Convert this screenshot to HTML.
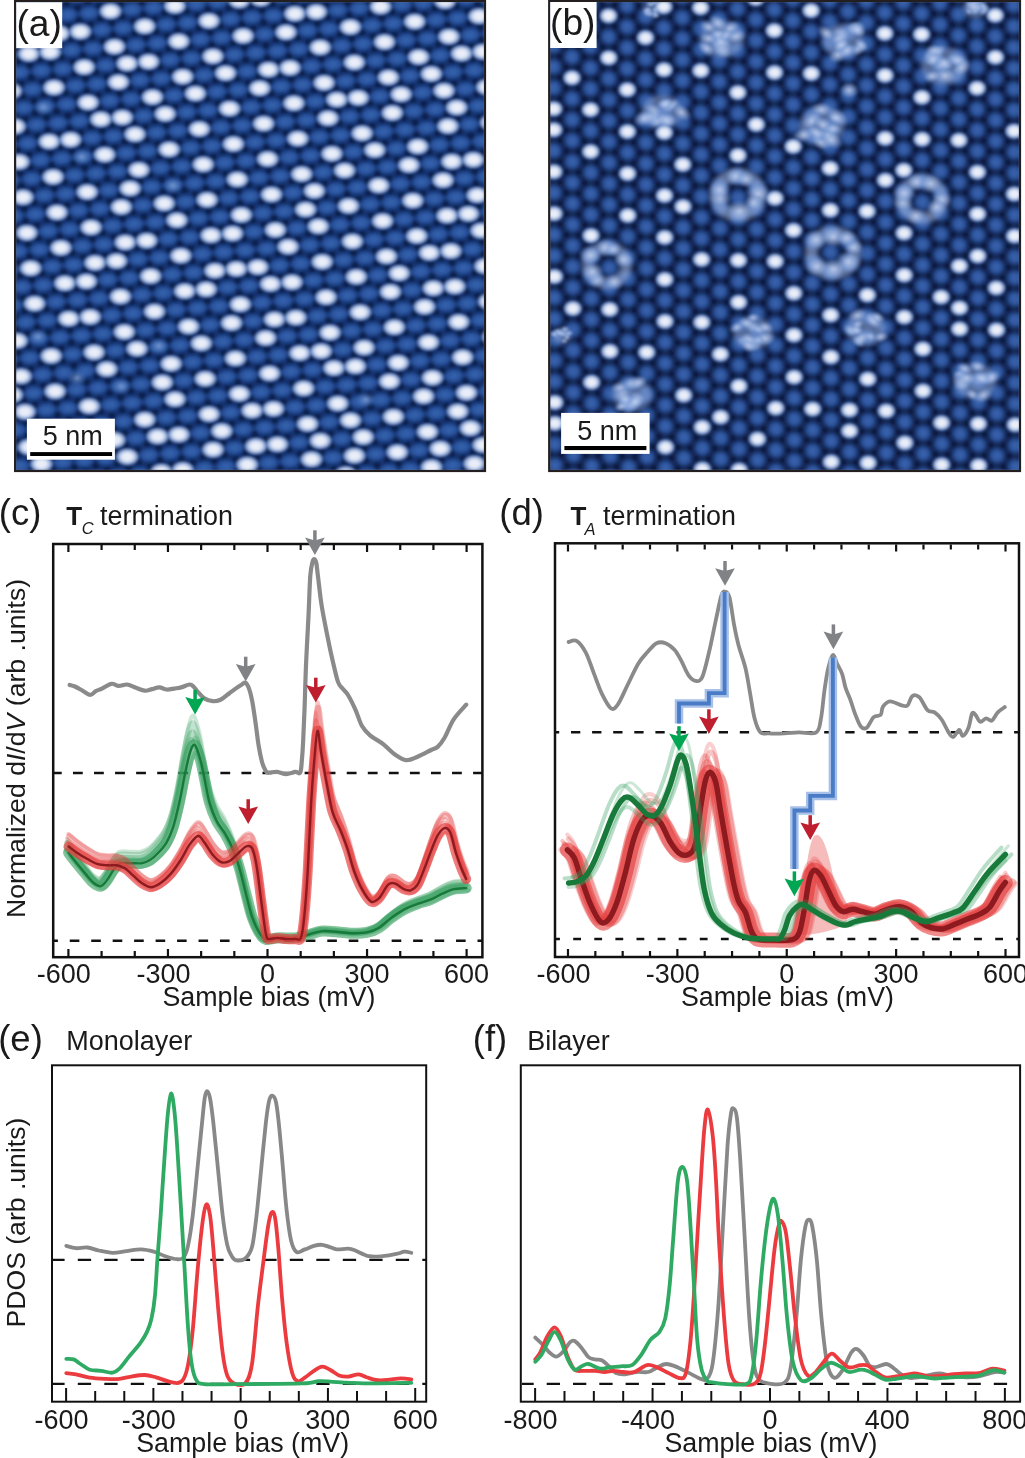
<!DOCTYPE html>
<html><head><meta charset="utf-8"><style>
html,body{margin:0;padding:0;background:#fff;}
svg{display:block;will-change:transform;}
text{font-family:"Liberation Sans",sans-serif;fill:#1a1a1a;}
</style></head><body>
<svg width="1025" height="1458" viewBox="0 0 1025 1458">
<rect width="1025" height="1458" fill="#fff"/>
<defs>
<radialGradient id="gdot" cx="50%" cy="50%" r="50%">
 <stop offset="0" stop-color="#eef2fb"/>
 <stop offset="0.42" stop-color="#e2e8f6"/>
 <stop offset="0.72" stop-color="#a4bbe4" stop-opacity="0.85"/>
 <stop offset="1" stop-color="#3a68b4" stop-opacity="0"/>
</radialGradient>
<radialGradient id="gfaint" cx="50%" cy="50%" r="50%">
 <stop offset="0" stop-color="#7f9fd6" stop-opacity="0.9"/>
 <stop offset="1" stop-color="#4a78c0" stop-opacity="0"/>
</radialGradient>
<radialGradient id="gfuzz" cx="50%" cy="50%" r="50%">
 <stop offset="0" stop-color="#c4d2ef" stop-opacity="0.9"/>
 <stop offset="0.55" stop-color="#93aee0" stop-opacity="0.55"/>
 <stop offset="1" stop-color="#4a78c0" stop-opacity="0"/>
</radialGradient>
<radialGradient id="ghole" cx="50%" cy="50%" r="50%">
 <stop offset="0" stop-color="#0a1430" stop-opacity="0.75"/>
 <stop offset="1" stop-color="#0a1430" stop-opacity="0"/>
</radialGradient>
<radialGradient id="gblobA" cx="50%" cy="50%" r="50%">
 <stop offset="0" stop-color="#3563ae"/>
 <stop offset="0.5" stop-color="#2d59a4" stop-opacity="0.9"/>
 <stop offset="1" stop-color="#1d4088" stop-opacity="0"/>
</radialGradient>
<radialGradient id="gblobB" cx="50%" cy="50%" r="50%">
 <stop offset="0" stop-color="#3b65b0"/>
 <stop offset="0.5" stop-color="#2f59a3" stop-opacity="0.9"/>
 <stop offset="1" stop-color="#1c3c80" stop-opacity="0"/>
</radialGradient>
<pattern id="latA" patternUnits="userSpaceOnUse" width="21.523" height="35.647" patternTransform="matrix(0.99654,-0.08312,0.10972,0.99396,24.74,18.38)"><rect width="21.523" height="35.647" fill="#13306c"/><ellipse cx="0.00" cy="0.00" rx="13.5" ry="9" fill="url(#gblobA)"/><ellipse cx="21.52" cy="0.00" rx="13.5" ry="9" fill="url(#gblobA)"/><ellipse cx="0.00" cy="35.65" rx="13.5" ry="9" fill="url(#gblobA)"/><ellipse cx="21.52" cy="35.65" rx="13.5" ry="9" fill="url(#gblobA)"/><ellipse cx="10.76" cy="17.82" rx="13.5" ry="9" fill="url(#gblobA)"/><ellipse cx="10.76" cy="5.94" rx="5" ry="5" fill="url(#ghole)"/><ellipse cx="0.00" cy="11.88" rx="5" ry="5" fill="url(#ghole)"/><ellipse cx="21.52" cy="11.88" rx="5" ry="5" fill="url(#ghole)"/><ellipse cx="0.00" cy="23.76" rx="5" ry="5" fill="url(#ghole)"/><ellipse cx="21.52" cy="23.76" rx="5" ry="5" fill="url(#ghole)"/><ellipse cx="10.76" cy="29.71" rx="5" ry="5" fill="url(#ghole)"/></pattern><pattern id="latB" patternUnits="userSpaceOnUse" width="36.841" height="20.971" patternTransform="matrix(0.99967,0.02578,0.00393,0.99999,19.31,0.61)"><rect width="36.841" height="20.971" fill="#152856"/><ellipse cx="0.00" cy="0.00" rx="10.3" ry="10.3" fill="url(#gblobB)"/><ellipse cx="36.84" cy="0.00" rx="10.3" ry="10.3" fill="url(#gblobB)"/><ellipse cx="0.00" cy="20.97" rx="10.3" ry="10.3" fill="url(#gblobB)"/><ellipse cx="36.84" cy="20.97" rx="10.3" ry="10.3" fill="url(#gblobB)"/><ellipse cx="18.42" cy="10.49" rx="10.3" ry="10.3" fill="url(#gblobB)"/><ellipse cx="6.14" cy="10.49" rx="4.5" ry="4.5" fill="url(#ghole)"/><ellipse cx="30.70" cy="10.49" rx="4.5" ry="4.5" fill="url(#ghole)"/><ellipse cx="12.28" cy="0.00" rx="4.5" ry="4.5" fill="url(#ghole)"/><ellipse cx="24.56" cy="0.00" rx="4.5" ry="4.5" fill="url(#ghole)"/><ellipse cx="12.28" cy="20.97" rx="4.5" ry="4.5" fill="url(#ghole)"/><ellipse cx="24.56" cy="20.97" rx="4.5" ry="4.5" fill="url(#ghole)"/></pattern>
<clipPath id="clipA"><rect x="16" y="2" width="468" height="468"/></clipPath>
<clipPath id="clipB"><rect x="550" y="2" width="469" height="468"/></clipPath>
<filter id="blur2" x="-30%" y="-30%" width="160%" height="160%"><feGaussianBlur stdDeviation="2"/></filter><filter id="soft" x="0" y="0" width="100%" height="100%"><feGaussianBlur stdDeviation="0.9"/></filter>
</defs>
<g clip-path="url(#clipA)"><g filter="url(#soft)">
<rect x="15.1" y="1" width="469.9" height="470" fill="url(#latA)"/>
<ellipse cx="43.3" cy="107.4" rx="10" ry="8" fill="url(#gfaint)"/>
<ellipse cx="81.6" cy="157.0" rx="10" ry="8" fill="url(#gfaint)"/>
<ellipse cx="173.0" cy="185.7" rx="10" ry="8" fill="url(#gfaint)"/>
<ellipse cx="37.9" cy="336.5" rx="10" ry="8" fill="url(#gfaint)"/>
<ellipse cx="158.8" cy="345.9" rx="10" ry="8" fill="url(#gfaint)"/>
<ellipse cx="77.0" cy="378.0" rx="10" ry="8" fill="url(#gfaint)"/>
<ellipse cx="121.4" cy="386.5" rx="10" ry="8" fill="url(#gfaint)"/>
<ellipse cx="366.0" cy="399.8" rx="10" ry="8" fill="url(#gfaint)"/>
<ellipse cx="110.5" cy="11.2" rx="12.8" ry="9.4" fill="url(#gdot)"/>
<ellipse cx="174.9" cy="5.9" rx="12.8" ry="9.4" fill="url(#gdot)"/>
<ellipse cx="80.3" cy="31.6" rx="12.8" ry="9.4" fill="url(#gdot)"/>
<ellipse cx="144.7" cy="26.3" rx="12.8" ry="9.4" fill="url(#gdot)"/>
<ellipse cx="178.8" cy="41.3" rx="12.8" ry="9.4" fill="url(#gdot)"/>
<ellipse cx="114.5" cy="46.7" rx="12.8" ry="9.4" fill="url(#gdot)"/>
<ellipse cx="28.7" cy="53.8" rx="12.8" ry="9.4" fill="url(#gdot)"/>
<ellipse cx="50.1" cy="52.0" rx="12.8" ry="9.4" fill="url(#gdot)"/>
<ellipse cx="84.2" cy="67.1" rx="12.8" ry="9.4" fill="url(#gdot)"/>
<ellipse cx="127.1" cy="63.5" rx="12.8" ry="9.4" fill="url(#gdot)"/>
<ellipse cx="148.6" cy="61.7" rx="12.8" ry="9.4" fill="url(#gdot)"/>
<ellipse cx="182.7" cy="76.7" rx="12.8" ry="9.4" fill="url(#gdot)"/>
<ellipse cx="118.4" cy="82.1" rx="12.8" ry="9.4" fill="url(#gdot)"/>
<ellipse cx="54.0" cy="87.5" rx="12.8" ry="9.4" fill="url(#gdot)"/>
<ellipse cx="11.1" cy="91.0" rx="12.8" ry="9.4" fill="url(#gdot)"/>
<ellipse cx="152.5" cy="97.1" rx="12.8" ry="9.4" fill="url(#gdot)"/>
<ellipse cx="88.1" cy="102.5" rx="12.8" ry="9.4" fill="url(#gdot)"/>
<ellipse cx="100.8" cy="119.3" rx="12.8" ry="9.4" fill="url(#gdot)"/>
<ellipse cx="122.3" cy="117.5" rx="12.8" ry="9.4" fill="url(#gdot)"/>
<ellipse cx="165.2" cy="113.9" rx="12.8" ry="9.4" fill="url(#gdot)"/>
<ellipse cx="15.0" cy="126.5" rx="12.8" ry="9.4" fill="url(#gdot)"/>
<ellipse cx="135.0" cy="134.3" rx="12.8" ry="9.4" fill="url(#gdot)"/>
<ellipse cx="49.2" cy="141.5" rx="12.8" ry="9.4" fill="url(#gdot)"/>
<ellipse cx="70.6" cy="139.7" rx="12.8" ry="9.4" fill="url(#gdot)"/>
<ellipse cx="169.1" cy="149.4" rx="12.8" ry="9.4" fill="url(#gdot)"/>
<ellipse cx="104.7" cy="154.7" rx="12.8" ry="9.4" fill="url(#gdot)"/>
<ellipse cx="18.9" cy="161.9" rx="12.8" ry="9.4" fill="url(#gdot)"/>
<ellipse cx="58.9" cy="33.4" rx="12.8" ry="9.4" fill="url(#gdot)"/>
<ellipse cx="239.2" cy="0.5" rx="12.8" ry="9.4" fill="url(#gdot)"/>
<ellipse cx="260.7" cy="-1.3" rx="12.8" ry="9.4" fill="url(#gdot)"/>
<ellipse cx="209.0" cy="20.9" rx="12.8" ry="9.4" fill="url(#gdot)"/>
<ellipse cx="294.8" cy="13.7" rx="12.8" ry="9.4" fill="url(#gdot)"/>
<ellipse cx="316.3" cy="11.9" rx="12.8" ry="9.4" fill="url(#gdot)"/>
<ellipse cx="243.1" cy="35.9" rx="12.8" ry="9.4" fill="url(#gdot)"/>
<ellipse cx="286.0" cy="32.3" rx="12.8" ry="9.4" fill="url(#gdot)"/>
<ellipse cx="320.2" cy="47.4" rx="12.8" ry="9.4" fill="url(#gdot)"/>
<ellipse cx="212.9" cy="56.3" rx="12.8" ry="9.4" fill="url(#gdot)"/>
<ellipse cx="268.5" cy="69.6" rx="12.8" ry="9.4" fill="url(#gdot)"/>
<ellipse cx="290.0" cy="67.8" rx="12.8" ry="9.4" fill="url(#gdot)"/>
<ellipse cx="225.6" cy="73.1" rx="12.8" ry="9.4" fill="url(#gdot)"/>
<ellipse cx="324.1" cy="82.8" rx="12.8" ry="9.4" fill="url(#gdot)"/>
<ellipse cx="259.7" cy="88.2" rx="12.8" ry="9.4" fill="url(#gdot)"/>
<ellipse cx="195.4" cy="93.5" rx="12.8" ry="9.4" fill="url(#gdot)"/>
<ellipse cx="293.9" cy="103.2" rx="12.8" ry="9.4" fill="url(#gdot)"/>
<ellipse cx="229.5" cy="108.6" rx="12.8" ry="9.4" fill="url(#gdot)"/>
<ellipse cx="328.0" cy="118.2" rx="12.8" ry="9.4" fill="url(#gdot)"/>
<ellipse cx="263.6" cy="123.6" rx="12.8" ry="9.4" fill="url(#gdot)"/>
<ellipse cx="199.3" cy="129.0" rx="12.8" ry="9.4" fill="url(#gdot)"/>
<ellipse cx="297.8" cy="138.6" rx="12.8" ry="9.4" fill="url(#gdot)"/>
<ellipse cx="233.4" cy="144.0" rx="12.8" ry="9.4" fill="url(#gdot)"/>
<ellipse cx="267.6" cy="159.0" rx="12.8" ry="9.4" fill="url(#gdot)"/>
<ellipse cx="331.9" cy="153.7" rx="12.8" ry="9.4" fill="url(#gdot)"/>
<ellipse cx="203.2" cy="164.4" rx="12.8" ry="9.4" fill="url(#gdot)"/>
<ellipse cx="380.6" cy="6.6" rx="12.8" ry="9.4" fill="url(#gdot)"/>
<ellipse cx="445.0" cy="1.2" rx="12.8" ry="9.4" fill="url(#gdot)"/>
<ellipse cx="479.1" cy="16.2" rx="12.8" ry="9.4" fill="url(#gdot)"/>
<ellipse cx="350.4" cy="27.0" rx="12.8" ry="9.4" fill="url(#gdot)"/>
<ellipse cx="414.7" cy="21.6" rx="12.8" ry="9.4" fill="url(#gdot)"/>
<ellipse cx="448.9" cy="36.6" rx="12.8" ry="9.4" fill="url(#gdot)"/>
<ellipse cx="384.5" cy="42.0" rx="12.8" ry="9.4" fill="url(#gdot)"/>
<ellipse cx="418.6" cy="57.0" rx="12.8" ry="9.4" fill="url(#gdot)"/>
<ellipse cx="461.5" cy="53.5" rx="12.8" ry="9.4" fill="url(#gdot)"/>
<ellipse cx="483.0" cy="51.7" rx="12.8" ry="9.4" fill="url(#gdot)"/>
<ellipse cx="354.3" cy="62.4" rx="12.8" ry="9.4" fill="url(#gdot)"/>
<ellipse cx="431.3" cy="73.9" rx="12.8" ry="9.4" fill="url(#gdot)"/>
<ellipse cx="388.4" cy="77.4" rx="12.8" ry="9.4" fill="url(#gdot)"/>
<ellipse cx="486.9" cy="87.1" rx="12.8" ry="9.4" fill="url(#gdot)"/>
<ellipse cx="401.1" cy="94.3" rx="12.8" ry="9.4" fill="url(#gdot)"/>
<ellipse cx="336.8" cy="99.6" rx="12.8" ry="9.4" fill="url(#gdot)"/>
<ellipse cx="358.2" cy="97.8" rx="12.8" ry="9.4" fill="url(#gdot)"/>
<ellipse cx="444.0" cy="90.7" rx="12.8" ry="9.4" fill="url(#gdot)"/>
<ellipse cx="456.7" cy="107.5" rx="12.8" ry="9.4" fill="url(#gdot)"/>
<ellipse cx="392.3" cy="112.9" rx="12.8" ry="9.4" fill="url(#gdot)"/>
<ellipse cx="490.8" cy="122.5" rx="12.8" ry="9.4" fill="url(#gdot)"/>
<ellipse cx="447.9" cy="126.1" rx="12.8" ry="9.4" fill="url(#gdot)"/>
<ellipse cx="362.1" cy="133.3" rx="12.8" ry="9.4" fill="url(#gdot)"/>
<ellipse cx="417.7" cy="146.5" rx="12.8" ry="9.4" fill="url(#gdot)"/>
<ellipse cx="374.8" cy="150.1" rx="12.8" ry="9.4" fill="url(#gdot)"/>
<ellipse cx="451.8" cy="161.5" rx="12.8" ry="9.4" fill="url(#gdot)"/>
<ellipse cx="473.3" cy="159.8" rx="12.8" ry="9.4" fill="url(#gdot)"/>
<ellipse cx="408.9" cy="165.1" rx="12.8" ry="9.4" fill="url(#gdot)"/>
<ellipse cx="138.9" cy="169.8" rx="12.8" ry="9.4" fill="url(#gdot)"/>
<ellipse cx="53.1" cy="176.9" rx="12.8" ry="9.4" fill="url(#gdot)"/>
<ellipse cx="87.2" cy="192.0" rx="12.8" ry="9.4" fill="url(#gdot)"/>
<ellipse cx="130.1" cy="188.4" rx="12.8" ry="9.4" fill="url(#gdot)"/>
<ellipse cx="22.9" cy="197.3" rx="12.8" ry="9.4" fill="url(#gdot)"/>
<ellipse cx="121.3" cy="207.0" rx="12.8" ry="9.4" fill="url(#gdot)"/>
<ellipse cx="164.2" cy="203.4" rx="12.8" ry="9.4" fill="url(#gdot)"/>
<ellipse cx="57.0" cy="212.4" rx="12.8" ry="9.4" fill="url(#gdot)"/>
<ellipse cx="176.9" cy="220.2" rx="12.8" ry="9.4" fill="url(#gdot)"/>
<ellipse cx="91.1" cy="227.4" rx="12.8" ry="9.4" fill="url(#gdot)"/>
<ellipse cx="26.8" cy="232.8" rx="12.8" ry="9.4" fill="url(#gdot)"/>
<ellipse cx="125.2" cy="242.4" rx="12.8" ry="9.4" fill="url(#gdot)"/>
<ellipse cx="146.7" cy="240.6" rx="12.8" ry="9.4" fill="url(#gdot)"/>
<ellipse cx="60.9" cy="247.8" rx="12.8" ry="9.4" fill="url(#gdot)"/>
<ellipse cx="180.8" cy="255.7" rx="12.8" ry="9.4" fill="url(#gdot)"/>
<ellipse cx="95.0" cy="262.8" rx="12.8" ry="9.4" fill="url(#gdot)"/>
<ellipse cx="116.5" cy="261.0" rx="12.8" ry="9.4" fill="url(#gdot)"/>
<ellipse cx="30.7" cy="268.2" rx="12.8" ry="9.4" fill="url(#gdot)"/>
<ellipse cx="150.6" cy="276.1" rx="12.8" ry="9.4" fill="url(#gdot)"/>
<ellipse cx="64.8" cy="283.2" rx="12.8" ry="9.4" fill="url(#gdot)"/>
<ellipse cx="86.3" cy="281.4" rx="12.8" ry="9.4" fill="url(#gdot)"/>
<ellipse cx="120.4" cy="296.5" rx="12.8" ry="9.4" fill="url(#gdot)"/>
<ellipse cx="34.6" cy="303.6" rx="12.8" ry="9.4" fill="url(#gdot)"/>
<ellipse cx="154.5" cy="311.5" rx="12.8" ry="9.4" fill="url(#gdot)"/>
<ellipse cx="68.7" cy="318.7" rx="12.8" ry="9.4" fill="url(#gdot)"/>
<ellipse cx="90.2" cy="316.9" rx="12.8" ry="9.4" fill="url(#gdot)"/>
<ellipse cx="237.3" cy="179.4" rx="12.8" ry="9.4" fill="url(#gdot)"/>
<ellipse cx="301.7" cy="174.1" rx="12.8" ry="9.4" fill="url(#gdot)"/>
<ellipse cx="314.4" cy="190.9" rx="12.8" ry="9.4" fill="url(#gdot)"/>
<ellipse cx="271.5" cy="194.5" rx="12.8" ry="9.4" fill="url(#gdot)"/>
<ellipse cx="207.1" cy="199.8" rx="12.8" ry="9.4" fill="url(#gdot)"/>
<ellipse cx="305.6" cy="209.5" rx="12.8" ry="9.4" fill="url(#gdot)"/>
<ellipse cx="241.3" cy="214.9" rx="12.8" ry="9.4" fill="url(#gdot)"/>
<ellipse cx="318.3" cy="226.3" rx="12.8" ry="9.4" fill="url(#gdot)"/>
<ellipse cx="275.4" cy="229.9" rx="12.8" ry="9.4" fill="url(#gdot)"/>
<ellipse cx="211.0" cy="235.3" rx="12.8" ry="9.4" fill="url(#gdot)"/>
<ellipse cx="232.5" cy="233.5" rx="12.8" ry="9.4" fill="url(#gdot)"/>
<ellipse cx="288.1" cy="246.7" rx="12.8" ry="9.4" fill="url(#gdot)"/>
<ellipse cx="322.2" cy="261.8" rx="12.8" ry="9.4" fill="url(#gdot)"/>
<ellipse cx="214.9" cy="270.7" rx="12.8" ry="9.4" fill="url(#gdot)"/>
<ellipse cx="236.4" cy="268.9" rx="12.8" ry="9.4" fill="url(#gdot)"/>
<ellipse cx="257.8" cy="267.1" rx="12.8" ry="9.4" fill="url(#gdot)"/>
<ellipse cx="270.5" cy="283.9" rx="12.8" ry="9.4" fill="url(#gdot)"/>
<ellipse cx="292.0" cy="282.2" rx="12.8" ry="9.4" fill="url(#gdot)"/>
<ellipse cx="184.7" cy="291.1" rx="12.8" ry="9.4" fill="url(#gdot)"/>
<ellipse cx="206.2" cy="289.3" rx="12.8" ry="9.4" fill="url(#gdot)"/>
<ellipse cx="326.1" cy="297.2" rx="12.8" ry="9.4" fill="url(#gdot)"/>
<ellipse cx="240.3" cy="304.3" rx="12.8" ry="9.4" fill="url(#gdot)"/>
<ellipse cx="274.4" cy="319.4" rx="12.8" ry="9.4" fill="url(#gdot)"/>
<ellipse cx="295.9" cy="317.6" rx="12.8" ry="9.4" fill="url(#gdot)"/>
<ellipse cx="344.6" cy="170.5" rx="12.8" ry="9.4" fill="url(#gdot)"/>
<ellipse cx="443.1" cy="180.2" rx="12.8" ry="9.4" fill="url(#gdot)"/>
<ellipse cx="378.7" cy="185.5" rx="12.8" ry="9.4" fill="url(#gdot)"/>
<ellipse cx="477.2" cy="195.2" rx="12.8" ry="9.4" fill="url(#gdot)"/>
<ellipse cx="412.8" cy="200.6" rx="12.8" ry="9.4" fill="url(#gdot)"/>
<ellipse cx="348.5" cy="205.9" rx="12.8" ry="9.4" fill="url(#gdot)"/>
<ellipse cx="447.0" cy="215.6" rx="12.8" ry="9.4" fill="url(#gdot)"/>
<ellipse cx="468.4" cy="213.8" rx="12.8" ry="9.4" fill="url(#gdot)"/>
<ellipse cx="382.6" cy="221.0" rx="12.8" ry="9.4" fill="url(#gdot)"/>
<ellipse cx="481.1" cy="230.6" rx="12.8" ry="9.4" fill="url(#gdot)"/>
<ellipse cx="416.8" cy="236.0" rx="12.8" ry="9.4" fill="url(#gdot)"/>
<ellipse cx="352.4" cy="241.4" rx="12.8" ry="9.4" fill="url(#gdot)"/>
<ellipse cx="429.4" cy="252.8" rx="12.8" ry="9.4" fill="url(#gdot)"/>
<ellipse cx="450.9" cy="251.0" rx="12.8" ry="9.4" fill="url(#gdot)"/>
<ellipse cx="386.5" cy="256.4" rx="12.8" ry="9.4" fill="url(#gdot)"/>
<ellipse cx="485.0" cy="266.1" rx="12.8" ry="9.4" fill="url(#gdot)"/>
<ellipse cx="399.2" cy="273.2" rx="12.8" ry="9.4" fill="url(#gdot)"/>
<ellipse cx="356.3" cy="276.8" rx="12.8" ry="9.4" fill="url(#gdot)"/>
<ellipse cx="433.3" cy="288.2" rx="12.8" ry="9.4" fill="url(#gdot)"/>
<ellipse cx="454.8" cy="286.5" rx="12.8" ry="9.4" fill="url(#gdot)"/>
<ellipse cx="390.4" cy="291.8" rx="12.8" ry="9.4" fill="url(#gdot)"/>
<ellipse cx="488.9" cy="301.5" rx="12.8" ry="9.4" fill="url(#gdot)"/>
<ellipse cx="424.6" cy="306.8" rx="12.8" ry="9.4" fill="url(#gdot)"/>
<ellipse cx="360.2" cy="312.2" rx="12.8" ry="9.4" fill="url(#gdot)"/>
<ellipse cx="458.7" cy="321.9" rx="12.8" ry="9.4" fill="url(#gdot)"/>
<ellipse cx="124.3" cy="331.9" rx="12.8" ry="9.4" fill="url(#gdot)"/>
<ellipse cx="17.0" cy="340.8" rx="12.8" ry="9.4" fill="url(#gdot)"/>
<ellipse cx="51.2" cy="355.9" rx="12.8" ry="9.4" fill="url(#gdot)"/>
<ellipse cx="94.1" cy="352.3" rx="12.8" ry="9.4" fill="url(#gdot)"/>
<ellipse cx="137.0" cy="348.7" rx="12.8" ry="9.4" fill="url(#gdot)"/>
<ellipse cx="171.1" cy="363.7" rx="12.8" ry="9.4" fill="url(#gdot)"/>
<ellipse cx="106.8" cy="369.1" rx="12.8" ry="9.4" fill="url(#gdot)"/>
<ellipse cx="21.0" cy="376.3" rx="12.8" ry="9.4" fill="url(#gdot)"/>
<ellipse cx="55.1" cy="391.3" rx="12.8" ry="9.4" fill="url(#gdot)"/>
<ellipse cx="162.3" cy="382.4" rx="12.8" ry="9.4" fill="url(#gdot)"/>
<ellipse cx="12.2" cy="394.9" rx="12.8" ry="9.4" fill="url(#gdot)"/>
<ellipse cx="175.0" cy="399.2" rx="12.8" ry="9.4" fill="url(#gdot)"/>
<ellipse cx="89.2" cy="406.3" rx="12.8" ry="9.4" fill="url(#gdot)"/>
<ellipse cx="24.9" cy="411.7" rx="12.8" ry="9.4" fill="url(#gdot)"/>
<ellipse cx="144.8" cy="419.6" rx="12.8" ry="9.4" fill="url(#gdot)"/>
<ellipse cx="114.6" cy="440.0" rx="12.8" ry="9.4" fill="url(#gdot)"/>
<ellipse cx="157.5" cy="436.4" rx="12.8" ry="9.4" fill="url(#gdot)"/>
<ellipse cx="28.8" cy="447.1" rx="12.8" ry="9.4" fill="url(#gdot)"/>
<ellipse cx="127.3" cy="456.8" rx="12.8" ry="9.4" fill="url(#gdot)"/>
<ellipse cx="41.5" cy="464.0" rx="12.8" ry="9.4" fill="url(#gdot)"/>
<ellipse cx="161.4" cy="471.8" rx="12.8" ry="9.4" fill="url(#gdot)"/>
<ellipse cx="178.9" cy="434.6" rx="12.8" ry="9.4" fill="url(#gdot)"/>
<ellipse cx="188.6" cy="326.5" rx="12.8" ry="9.4" fill="url(#gdot)"/>
<ellipse cx="231.5" cy="323.0" rx="12.8" ry="9.4" fill="url(#gdot)"/>
<ellipse cx="201.3" cy="343.3" rx="12.8" ry="9.4" fill="url(#gdot)"/>
<ellipse cx="265.7" cy="338.0" rx="12.8" ry="9.4" fill="url(#gdot)"/>
<ellipse cx="330.0" cy="332.6" rx="12.8" ry="9.4" fill="url(#gdot)"/>
<ellipse cx="235.4" cy="358.4" rx="12.8" ry="9.4" fill="url(#gdot)"/>
<ellipse cx="299.8" cy="353.0" rx="12.8" ry="9.4" fill="url(#gdot)"/>
<ellipse cx="321.2" cy="351.2" rx="12.8" ry="9.4" fill="url(#gdot)"/>
<ellipse cx="269.6" cy="373.4" rx="12.8" ry="9.4" fill="url(#gdot)"/>
<ellipse cx="333.9" cy="368.0" rx="12.8" ry="9.4" fill="url(#gdot)"/>
<ellipse cx="205.2" cy="378.8" rx="12.8" ry="9.4" fill="url(#gdot)"/>
<ellipse cx="239.4" cy="393.8" rx="12.8" ry="9.4" fill="url(#gdot)"/>
<ellipse cx="303.7" cy="388.4" rx="12.8" ry="9.4" fill="url(#gdot)"/>
<ellipse cx="252.0" cy="410.6" rx="12.8" ry="9.4" fill="url(#gdot)"/>
<ellipse cx="273.5" cy="408.8" rx="12.8" ry="9.4" fill="url(#gdot)"/>
<ellipse cx="337.8" cy="403.5" rx="12.8" ry="9.4" fill="url(#gdot)"/>
<ellipse cx="209.1" cy="414.2" rx="12.8" ry="9.4" fill="url(#gdot)"/>
<ellipse cx="307.6" cy="423.9" rx="12.8" ry="9.4" fill="url(#gdot)"/>
<ellipse cx="221.8" cy="431.0" rx="12.8" ry="9.4" fill="url(#gdot)"/>
<ellipse cx="320.3" cy="440.7" rx="12.8" ry="9.4" fill="url(#gdot)"/>
<ellipse cx="255.9" cy="446.1" rx="12.8" ry="9.4" fill="url(#gdot)"/>
<ellipse cx="277.4" cy="444.3" rx="12.8" ry="9.4" fill="url(#gdot)"/>
<ellipse cx="213.1" cy="449.6" rx="12.8" ry="9.4" fill="url(#gdot)"/>
<ellipse cx="311.5" cy="459.3" rx="12.8" ry="9.4" fill="url(#gdot)"/>
<ellipse cx="247.2" cy="464.7" rx="12.8" ry="9.4" fill="url(#gdot)"/>
<ellipse cx="182.8" cy="470.0" rx="12.8" ry="9.4" fill="url(#gdot)"/>
<ellipse cx="394.4" cy="327.2" rx="12.8" ry="9.4" fill="url(#gdot)"/>
<ellipse cx="428.5" cy="342.3" rx="12.8" ry="9.4" fill="url(#gdot)"/>
<ellipse cx="492.8" cy="336.9" rx="12.8" ry="9.4" fill="url(#gdot)"/>
<ellipse cx="364.1" cy="347.6" rx="12.8" ry="9.4" fill="url(#gdot)"/>
<ellipse cx="462.6" cy="357.3" rx="12.8" ry="9.4" fill="url(#gdot)"/>
<ellipse cx="398.3" cy="362.7" rx="12.8" ry="9.4" fill="url(#gdot)"/>
<ellipse cx="355.4" cy="366.3" rx="12.8" ry="9.4" fill="url(#gdot)"/>
<ellipse cx="432.4" cy="377.7" rx="12.8" ry="9.4" fill="url(#gdot)"/>
<ellipse cx="389.5" cy="381.3" rx="12.8" ry="9.4" fill="url(#gdot)"/>
<ellipse cx="466.5" cy="392.7" rx="12.8" ry="9.4" fill="url(#gdot)"/>
<ellipse cx="423.6" cy="396.3" rx="12.8" ry="9.4" fill="url(#gdot)"/>
<ellipse cx="457.8" cy="411.4" rx="12.8" ry="9.4" fill="url(#gdot)"/>
<ellipse cx="393.4" cy="416.7" rx="12.8" ry="9.4" fill="url(#gdot)"/>
<ellipse cx="350.5" cy="420.3" rx="12.8" ry="9.4" fill="url(#gdot)"/>
<ellipse cx="470.4" cy="428.2" rx="12.8" ry="9.4" fill="url(#gdot)"/>
<ellipse cx="427.5" cy="431.8" rx="12.8" ry="9.4" fill="url(#gdot)"/>
<ellipse cx="363.2" cy="437.1" rx="12.8" ry="9.4" fill="url(#gdot)"/>
<ellipse cx="440.2" cy="448.6" rx="12.8" ry="9.4" fill="url(#gdot)"/>
<ellipse cx="483.1" cy="445.0" rx="12.8" ry="9.4" fill="url(#gdot)"/>
<ellipse cx="397.3" cy="452.2" rx="12.8" ry="9.4" fill="url(#gdot)"/>
<ellipse cx="354.4" cy="455.7" rx="12.8" ry="9.4" fill="url(#gdot)"/>
<ellipse cx="431.5" cy="467.2" rx="12.8" ry="9.4" fill="url(#gdot)"/>
<ellipse cx="474.3" cy="463.6" rx="12.8" ry="9.4" fill="url(#gdot)"/>
<ellipse cx="345.7" cy="474.3" rx="12.8" ry="9.4" fill="url(#gdot)"/>
</g></g>
<rect x="15.1" y="1" width="469.9" height="470" fill="none" stroke="#231f20" stroke-width="2.2"/>
<rect x="16.2" y="2.2" width="46" height="46" fill="#fff"/>
<text x="16.4" y="35.5" font-size="37.2" text-anchor="start" >(a)</text>
<rect x="26.9" y="418.7" width="88" height="41" fill="#fff"/>
<rect x="30.2" y="452.1" width="81.9" height="3.9" fill="#000"/>
<text x="42.7" y="444.5" font-size="27" text-anchor="start" >5 nm</text>
<g clip-path="url(#clipB)"><g filter="url(#soft)">
<rect x="549.2" y="1" width="470.79999999999995" height="470" fill="url(#latB)"/>
<ellipse cx="722.0" cy="39.0" rx="21.8" ry="18.0" fill="#9ab2e0" fill-opacity="0.5" filter="url(#blur2)"/>
<ellipse cx="723.2" cy="51.8" rx="9.8" ry="6.5" fill="url(#gfuzz)" transform="rotate(8 723.2 51.8)"/>
<ellipse cx="718.1" cy="35.8" rx="7.9" ry="5.3" fill="url(#gfuzz)" transform="rotate(27 718.1 35.8)"/>
<ellipse cx="721.4" cy="47.4" rx="13.0" ry="8.7" fill="url(#gfuzz)" transform="rotate(-2 721.4 47.4)"/>
<ellipse cx="729.8" cy="28.7" rx="11.2" ry="7.4" fill="url(#gfuzz)" transform="rotate(-28 729.8 28.7)"/>
<ellipse cx="708.6" cy="26.8" rx="10.6" ry="7.0" fill="url(#gfuzz)" transform="rotate(19 708.6 26.8)"/>
<ellipse cx="719.4" cy="35.1" rx="11.8" ry="7.9" fill="url(#gfuzz)" transform="rotate(7 719.4 35.1)"/>
<ellipse cx="720.8" cy="41.9" rx="12.3" ry="8.2" fill="url(#gfuzz)" transform="rotate(-2 720.8 41.9)"/>
<ellipse cx="718.0" cy="23.0" rx="11.6" ry="7.7" fill="url(#gfuzz)" transform="rotate(34 718.0 23.0)"/>
<ellipse cx="706.6" cy="48.5" rx="10.2" ry="6.8" fill="url(#gfuzz)" transform="rotate(35 706.6 48.5)"/>
<ellipse cx="726.9" cy="35.3" rx="8.5" ry="5.7" fill="url(#gfuzz)" transform="rotate(-23 726.9 35.3)"/>
<ellipse cx="736.0" cy="36.5" rx="11.1" ry="7.4" fill="url(#gfuzz)" transform="rotate(-16 736.0 36.5)"/>
<ellipse cx="708.5" cy="38.5" rx="9.7" ry="6.4" fill="url(#gfuzz)" transform="rotate(7 708.5 38.5)"/>
<ellipse cx="843.0" cy="41.0" rx="20.2" ry="16.7" fill="#9ab2e0" fill-opacity="0.5" filter="url(#blur2)"/>
<ellipse cx="826.4" cy="33.2" rx="10.6" ry="7.1" fill="url(#gfuzz)" transform="rotate(34 826.4 33.2)"/>
<ellipse cx="855.5" cy="28.3" rx="10.6" ry="7.0" fill="url(#gfuzz)" transform="rotate(-27 855.5 28.3)"/>
<ellipse cx="855.7" cy="28.8" rx="11.7" ry="7.8" fill="url(#gfuzz)" transform="rotate(6 855.7 28.8)"/>
<ellipse cx="840.9" cy="33.7" rx="11.3" ry="7.6" fill="url(#gfuzz)" transform="rotate(6 840.9 33.7)"/>
<ellipse cx="841.9" cy="45.0" rx="11.4" ry="7.6" fill="url(#gfuzz)" transform="rotate(39 841.9 45.0)"/>
<ellipse cx="858.4" cy="48.7" rx="9.3" ry="6.2" fill="url(#gfuzz)" transform="rotate(-28 858.4 48.7)"/>
<ellipse cx="838.2" cy="54.7" rx="11.5" ry="7.7" fill="url(#gfuzz)" transform="rotate(-36 838.2 54.7)"/>
<ellipse cx="839.8" cy="38.7" rx="10.8" ry="7.2" fill="url(#gfuzz)" transform="rotate(-14 839.8 38.7)"/>
<ellipse cx="857.7" cy="30.1" rx="9.7" ry="6.5" fill="url(#gfuzz)" transform="rotate(40 857.7 30.1)"/>
<ellipse cx="840.9" cy="45.2" rx="10.2" ry="6.8" fill="url(#gfuzz)" transform="rotate(-37 840.9 45.2)"/>
<ellipse cx="847.2" cy="50.8" rx="10.3" ry="6.8" fill="url(#gfuzz)" transform="rotate(-28 847.2 50.8)"/>
<ellipse cx="861.2" cy="45.0" rx="8.8" ry="5.9" fill="url(#gfuzz)" transform="rotate(37 861.2 45.0)"/>
<ellipse cx="944.0" cy="66.0" rx="22.5" ry="18.6" fill="#9ab2e0" fill-opacity="0.5" filter="url(#blur2)"/>
<ellipse cx="955.0" cy="59.3" rx="10.6" ry="7.1" fill="url(#gfuzz)" transform="rotate(2 955.0 59.3)"/>
<ellipse cx="933.3" cy="55.1" rx="11.1" ry="7.4" fill="url(#gfuzz)" transform="rotate(10 933.3 55.1)"/>
<ellipse cx="958.9" cy="61.3" rx="10.4" ry="7.0" fill="url(#gfuzz)" transform="rotate(18 958.9 61.3)"/>
<ellipse cx="945.0" cy="75.8" rx="13.4" ry="8.9" fill="url(#gfuzz)" transform="rotate(2 945.0 75.8)"/>
<ellipse cx="941.7" cy="65.4" rx="10.3" ry="6.9" fill="url(#gfuzz)" transform="rotate(6 941.7 65.4)"/>
<ellipse cx="961.5" cy="67.8" rx="11.5" ry="7.7" fill="url(#gfuzz)" transform="rotate(-35 961.5 67.8)"/>
<ellipse cx="933.3" cy="57.2" rx="11.8" ry="7.8" fill="url(#gfuzz)" transform="rotate(-12 933.3 57.2)"/>
<ellipse cx="938.8" cy="51.1" rx="8.2" ry="5.5" fill="url(#gfuzz)" transform="rotate(-35 938.8 51.1)"/>
<ellipse cx="934.1" cy="50.2" rx="9.5" ry="6.3" fill="url(#gfuzz)" transform="rotate(-3 934.1 50.2)"/>
<ellipse cx="933.4" cy="60.4" rx="10.1" ry="6.7" fill="url(#gfuzz)" transform="rotate(-15 933.4 60.4)"/>
<ellipse cx="932.2" cy="76.2" rx="9.7" ry="6.5" fill="url(#gfuzz)" transform="rotate(-10 932.2 76.2)"/>
<ellipse cx="944.5" cy="63.1" rx="11.2" ry="7.4" fill="url(#gfuzz)" transform="rotate(19 944.5 63.1)"/>
<ellipse cx="662.0" cy="112.0" rx="20.2" ry="16.7" fill="#9ab2e0" fill-opacity="0.5" filter="url(#blur2)"/>
<ellipse cx="658.5" cy="119.1" rx="11.2" ry="7.5" fill="url(#gfuzz)" transform="rotate(-21 658.5 119.1)"/>
<ellipse cx="667.1" cy="121.9" rx="10.7" ry="7.1" fill="url(#gfuzz)" transform="rotate(-32 667.1 121.9)"/>
<ellipse cx="656.9" cy="120.4" rx="11.3" ry="7.6" fill="url(#gfuzz)" transform="rotate(-5 656.9 120.4)"/>
<ellipse cx="667.1" cy="106.7" rx="8.9" ry="6.0" fill="url(#gfuzz)" transform="rotate(12 667.1 106.7)"/>
<ellipse cx="672.2" cy="104.8" rx="8.4" ry="5.6" fill="url(#gfuzz)" transform="rotate(-30 672.2 104.8)"/>
<ellipse cx="653.3" cy="110.7" rx="11.2" ry="7.5" fill="url(#gfuzz)" transform="rotate(27 653.3 110.7)"/>
<ellipse cx="666.3" cy="119.8" rx="11.2" ry="7.5" fill="url(#gfuzz)" transform="rotate(11 666.3 119.8)"/>
<ellipse cx="666.1" cy="103.1" rx="7.9" ry="5.3" fill="url(#gfuzz)" transform="rotate(-17 666.1 103.1)"/>
<ellipse cx="664.9" cy="103.9" rx="9.0" ry="6.0" fill="url(#gfuzz)" transform="rotate(-7 664.9 103.9)"/>
<ellipse cx="650.7" cy="117.0" rx="11.8" ry="7.8" fill="url(#gfuzz)" transform="rotate(-28 650.7 117.0)"/>
<ellipse cx="681.7" cy="112.5" rx="11.6" ry="7.7" fill="url(#gfuzz)" transform="rotate(39 681.7 112.5)"/>
<ellipse cx="643.9" cy="118.3" rx="11.8" ry="7.9" fill="url(#gfuzz)" transform="rotate(-22 643.9 118.3)"/>
<ellipse cx="822.0" cy="126.0" rx="22.5" ry="18.6" fill="#9ab2e0" fill-opacity="0.5" filter="url(#blur2)"/>
<ellipse cx="821.4" cy="109.5" rx="11.7" ry="7.8" fill="url(#gfuzz)" transform="rotate(2 821.4 109.5)"/>
<ellipse cx="818.8" cy="136.2" rx="9.3" ry="6.2" fill="url(#gfuzz)" transform="rotate(-35 818.8 136.2)"/>
<ellipse cx="811.8" cy="120.9" rx="12.5" ry="8.3" fill="url(#gfuzz)" transform="rotate(-36 811.8 120.9)"/>
<ellipse cx="837.4" cy="117.5" rx="13.1" ry="8.7" fill="url(#gfuzz)" transform="rotate(32 837.4 117.5)"/>
<ellipse cx="835.8" cy="117.9" rx="8.2" ry="5.4" fill="url(#gfuzz)" transform="rotate(20 835.8 117.9)"/>
<ellipse cx="827.8" cy="134.7" rx="11.7" ry="7.8" fill="url(#gfuzz)" transform="rotate(2 827.8 134.7)"/>
<ellipse cx="803.3" cy="135.0" rx="11.4" ry="7.6" fill="url(#gfuzz)" transform="rotate(-13 803.3 135.0)"/>
<ellipse cx="821.7" cy="142.7" rx="10.7" ry="7.1" fill="url(#gfuzz)" transform="rotate(23 821.7 142.7)"/>
<ellipse cx="816.0" cy="132.4" rx="11.0" ry="7.3" fill="url(#gfuzz)" transform="rotate(25 816.0 132.4)"/>
<ellipse cx="831.5" cy="140.1" rx="13.1" ry="8.7" fill="url(#gfuzz)" transform="rotate(24 831.5 140.1)"/>
<ellipse cx="822.9" cy="124.6" rx="11.5" ry="7.7" fill="url(#gfuzz)" transform="rotate(29 822.9 124.6)"/>
<ellipse cx="833.1" cy="128.9" rx="9.6" ry="6.4" fill="url(#gfuzz)" transform="rotate(2 833.1 128.9)"/>
<ellipse cx="738.0" cy="195.0" rx="21.6" ry="20.2" fill="none" stroke="#b3c5ea" stroke-opacity="0.5" stroke-width="12.2" filter="url(#blur2)"/>
<ellipse cx="758.1" cy="193.9" rx="13.5" ry="11.2" fill="url(#gfuzz)"/>
<ellipse cx="753.7" cy="202.7" rx="10.3" ry="8.6" fill="url(#gfuzz)"/>
<ellipse cx="739.4" cy="211.1" rx="14.5" ry="12.0" fill="url(#gfuzz)"/>
<ellipse cx="720.2" cy="197.7" rx="12.2" ry="10.1" fill="url(#gfuzz)"/>
<ellipse cx="719.6" cy="189.9" rx="11.4" ry="9.5" fill="url(#gfuzz)"/>
<ellipse cx="735.8" cy="176.5" rx="11.5" ry="9.6" fill="url(#gfuzz)"/>
<ellipse cx="746.0" cy="179.2" rx="10.3" ry="8.6" fill="url(#gfuzz)"/>
<ellipse cx="922.0" cy="199.0" rx="20.0" ry="18.8" fill="none" stroke="#b3c5ea" stroke-opacity="0.5" stroke-width="11.2" filter="url(#blur2)"/>
<ellipse cx="941.8" cy="199.8" rx="10.7" ry="8.9" fill="url(#gfuzz)"/>
<ellipse cx="936.5" cy="207.2" rx="10.7" ry="8.9" fill="url(#gfuzz)"/>
<ellipse cx="915.9" cy="216.3" rx="10.7" ry="8.9" fill="url(#gfuzz)"/>
<ellipse cx="903.1" cy="202.6" rx="10.9" ry="9.1" fill="url(#gfuzz)"/>
<ellipse cx="904.4" cy="193.3" rx="12.2" ry="10.1" fill="url(#gfuzz)"/>
<ellipse cx="916.4" cy="182.0" rx="11.1" ry="9.2" fill="url(#gfuzz)"/>
<ellipse cx="930.6" cy="183.8" rx="12.1" ry="10.1" fill="url(#gfuzz)"/>
<ellipse cx="607.0" cy="265.0" rx="19.2" ry="18.0" fill="none" stroke="#b3c5ea" stroke-opacity="0.5" stroke-width="10.8" filter="url(#blur2)"/>
<ellipse cx="623.6" cy="259.7" rx="10.5" ry="8.7" fill="url(#gfuzz)"/>
<ellipse cx="614.3" cy="281.9" rx="10.3" ry="8.5" fill="url(#gfuzz)"/>
<ellipse cx="597.0" cy="279.9" rx="9.8" ry="8.1" fill="url(#gfuzz)"/>
<ellipse cx="592.6" cy="271.7" rx="12.2" ry="10.1" fill="url(#gfuzz)"/>
<ellipse cx="590.4" cy="255.2" rx="12.1" ry="10.1" fill="url(#gfuzz)"/>
<ellipse cx="605.3" cy="247.9" rx="11.1" ry="9.2" fill="url(#gfuzz)"/>
<ellipse cx="613.4" cy="249.5" rx="8.7" ry="7.2" fill="url(#gfuzz)"/>
<ellipse cx="833.0" cy="253.0" rx="21.6" ry="20.2" fill="none" stroke="#b3c5ea" stroke-opacity="0.5" stroke-width="12.2" filter="url(#blur2)"/>
<ellipse cx="853.9" cy="247.5" rx="9.9" ry="8.3" fill="url(#gfuzz)"/>
<ellipse cx="848.2" cy="261.8" rx="14.0" ry="11.7" fill="url(#gfuzz)"/>
<ellipse cx="833.6" cy="268.9" rx="13.8" ry="11.5" fill="url(#gfuzz)"/>
<ellipse cx="816.9" cy="266.6" rx="13.0" ry="10.8" fill="url(#gfuzz)"/>
<ellipse cx="815.9" cy="239.6" rx="12.5" ry="10.4" fill="url(#gfuzz)"/>
<ellipse cx="833.3" cy="237.0" rx="13.4" ry="11.2" fill="url(#gfuzz)"/>
<ellipse cx="846.5" cy="238.0" rx="10.2" ry="8.5" fill="url(#gfuzz)"/>
<ellipse cx="753.0" cy="333.0" rx="19.5" ry="16.1" fill="#9ab2e0" fill-opacity="0.5" filter="url(#blur2)"/>
<ellipse cx="752.9" cy="317.9" rx="7.3" ry="4.9" fill="url(#gfuzz)" transform="rotate(-14 752.9 317.9)"/>
<ellipse cx="736.7" cy="327.4" rx="8.2" ry="5.4" fill="url(#gfuzz)" transform="rotate(-26 736.7 327.4)"/>
<ellipse cx="753.0" cy="345.2" rx="10.5" ry="7.0" fill="url(#gfuzz)" transform="rotate(-9 753.0 345.2)"/>
<ellipse cx="744.7" cy="340.3" rx="8.7" ry="5.8" fill="url(#gfuzz)" transform="rotate(-7 744.7 340.3)"/>
<ellipse cx="764.9" cy="338.5" rx="11.6" ry="7.7" fill="url(#gfuzz)" transform="rotate(-7 764.9 338.5)"/>
<ellipse cx="752.9" cy="326.7" rx="10.3" ry="6.8" fill="url(#gfuzz)" transform="rotate(20 752.9 326.7)"/>
<ellipse cx="746.5" cy="323.0" rx="9.3" ry="6.2" fill="url(#gfuzz)" transform="rotate(11 746.5 323.0)"/>
<ellipse cx="759.0" cy="329.4" rx="7.5" ry="5.0" fill="url(#gfuzz)" transform="rotate(20 759.0 329.4)"/>
<ellipse cx="765.1" cy="327.4" rx="9.1" ry="6.1" fill="url(#gfuzz)" transform="rotate(18 765.1 327.4)"/>
<ellipse cx="756.9" cy="340.4" rx="8.0" ry="5.3" fill="url(#gfuzz)" transform="rotate(7 756.9 340.4)"/>
<ellipse cx="749.3" cy="339.9" rx="10.3" ry="6.8" fill="url(#gfuzz)" transform="rotate(36 749.3 339.9)"/>
<ellipse cx="748.3" cy="345.6" rx="9.0" ry="6.0" fill="url(#gfuzz)" transform="rotate(28 748.3 345.6)"/>
<ellipse cx="866.0" cy="329.0" rx="19.5" ry="16.1" fill="#9ab2e0" fill-opacity="0.5" filter="url(#blur2)"/>
<ellipse cx="857.3" cy="324.9" rx="8.0" ry="5.4" fill="url(#gfuzz)" transform="rotate(-38 857.3 324.9)"/>
<ellipse cx="854.0" cy="330.2" rx="7.8" ry="5.2" fill="url(#gfuzz)" transform="rotate(-11 854.0 330.2)"/>
<ellipse cx="858.5" cy="341.3" rx="7.7" ry="5.1" fill="url(#gfuzz)" transform="rotate(39 858.5 341.3)"/>
<ellipse cx="851.0" cy="330.5" rx="9.2" ry="6.1" fill="url(#gfuzz)" transform="rotate(27 851.0 330.5)"/>
<ellipse cx="872.3" cy="318.5" rx="9.3" ry="6.2" fill="url(#gfuzz)" transform="rotate(18 872.3 318.5)"/>
<ellipse cx="873.7" cy="321.3" rx="10.5" ry="7.0" fill="url(#gfuzz)" transform="rotate(37 873.7 321.3)"/>
<ellipse cx="856.9" cy="330.5" rx="8.1" ry="5.4" fill="url(#gfuzz)" transform="rotate(17 856.9 330.5)"/>
<ellipse cx="857.4" cy="315.4" rx="11.0" ry="7.3" fill="url(#gfuzz)" transform="rotate(-21 857.4 315.4)"/>
<ellipse cx="869.7" cy="336.4" rx="7.9" ry="5.3" fill="url(#gfuzz)" transform="rotate(16 869.7 336.4)"/>
<ellipse cx="877.7" cy="317.5" rx="8.2" ry="5.5" fill="url(#gfuzz)" transform="rotate(29 877.7 317.5)"/>
<ellipse cx="861.1" cy="338.4" rx="10.4" ry="7.0" fill="url(#gfuzz)" transform="rotate(-33 861.1 338.4)"/>
<ellipse cx="880.9" cy="336.8" rx="8.4" ry="5.6" fill="url(#gfuzz)" transform="rotate(-11 880.9 336.8)"/>
<ellipse cx="975.0" cy="381.0" rx="21.0" ry="17.4" fill="#9ab2e0" fill-opacity="0.5" filter="url(#blur2)"/>
<ellipse cx="959.9" cy="374.3" rx="7.6" ry="5.1" fill="url(#gfuzz)" transform="rotate(-13 959.9 374.3)"/>
<ellipse cx="961.5" cy="385.6" rx="8.6" ry="5.7" fill="url(#gfuzz)" transform="rotate(7 961.5 385.6)"/>
<ellipse cx="987.6" cy="378.1" rx="10.3" ry="6.9" fill="url(#gfuzz)" transform="rotate(-30 987.6 378.1)"/>
<ellipse cx="972.3" cy="394.5" rx="8.1" ry="5.4" fill="url(#gfuzz)" transform="rotate(31 972.3 394.5)"/>
<ellipse cx="980.5" cy="378.2" rx="12.3" ry="8.2" fill="url(#gfuzz)" transform="rotate(-10 980.5 378.2)"/>
<ellipse cx="977.6" cy="366.5" rx="9.0" ry="6.0" fill="url(#gfuzz)" transform="rotate(14 977.6 366.5)"/>
<ellipse cx="964.3" cy="368.6" rx="8.9" ry="5.9" fill="url(#gfuzz)" transform="rotate(20 964.3 368.6)"/>
<ellipse cx="991.7" cy="377.7" rx="10.3" ry="6.8" fill="url(#gfuzz)" transform="rotate(-31 991.7 377.7)"/>
<ellipse cx="962.5" cy="381.4" rx="11.2" ry="7.5" fill="url(#gfuzz)" transform="rotate(14 962.5 381.4)"/>
<ellipse cx="966.8" cy="378.1" rx="10.8" ry="7.2" fill="url(#gfuzz)" transform="rotate(10 966.8 378.1)"/>
<ellipse cx="983.5" cy="395.3" rx="10.9" ry="7.2" fill="url(#gfuzz)" transform="rotate(-30 983.5 395.3)"/>
<ellipse cx="982.2" cy="378.4" rx="9.2" ry="6.2" fill="url(#gfuzz)" transform="rotate(18 982.2 378.4)"/>
<ellipse cx="632.0" cy="395.0" rx="19.5" ry="16.1" fill="#9ab2e0" fill-opacity="0.5" filter="url(#blur2)"/>
<ellipse cx="620.1" cy="388.3" rx="10.1" ry="6.7" fill="url(#gfuzz)" transform="rotate(-3 620.1 388.3)"/>
<ellipse cx="628.9" cy="401.1" rx="7.3" ry="4.9" fill="url(#gfuzz)" transform="rotate(17 628.9 401.1)"/>
<ellipse cx="632.4" cy="383.5" rx="10.5" ry="7.0" fill="url(#gfuzz)" transform="rotate(-11 632.4 383.5)"/>
<ellipse cx="630.8" cy="404.6" rx="11.1" ry="7.4" fill="url(#gfuzz)" transform="rotate(-37 630.8 404.6)"/>
<ellipse cx="622.3" cy="394.8" rx="10.6" ry="7.1" fill="url(#gfuzz)" transform="rotate(-12 622.3 394.8)"/>
<ellipse cx="625.8" cy="403.6" rx="9.6" ry="6.4" fill="url(#gfuzz)" transform="rotate(22 625.8 403.6)"/>
<ellipse cx="621.2" cy="406.5" rx="7.5" ry="5.0" fill="url(#gfuzz)" transform="rotate(-18 621.2 406.5)"/>
<ellipse cx="637.3" cy="398.1" rx="10.7" ry="7.1" fill="url(#gfuzz)" transform="rotate(18 637.3 398.1)"/>
<ellipse cx="635.4" cy="401.2" rx="9.0" ry="6.0" fill="url(#gfuzz)" transform="rotate(19 635.4 401.2)"/>
<ellipse cx="638.8" cy="382.6" rx="9.8" ry="6.5" fill="url(#gfuzz)" transform="rotate(-28 638.8 382.6)"/>
<ellipse cx="625.1" cy="399.1" rx="9.5" ry="6.3" fill="url(#gfuzz)" transform="rotate(5 625.1 399.1)"/>
<ellipse cx="634.9" cy="402.5" rx="10.7" ry="7.1" fill="url(#gfuzz)" transform="rotate(-38 634.9 402.5)"/>
<ellipse cx="562.0" cy="336.0" rx="9.0" ry="7.4" fill="#9ab2e0" fill-opacity="0.5" filter="url(#blur2)"/>
<ellipse cx="564.8" cy="329.6" rx="5.3" ry="3.5" fill="url(#gfuzz)" transform="rotate(-9 564.8 329.6)"/>
<ellipse cx="555.5" cy="334.2" rx="4.6" ry="3.1" fill="url(#gfuzz)" transform="rotate(38 555.5 334.2)"/>
<ellipse cx="560.1" cy="332.4" rx="5.1" ry="3.4" fill="url(#gfuzz)" transform="rotate(-1 560.1 332.4)"/>
<ellipse cx="555.8" cy="332.3" rx="3.2" ry="2.2" fill="url(#gfuzz)" transform="rotate(22 555.8 332.3)"/>
<ellipse cx="558.7" cy="331.7" rx="4.4" ry="2.9" fill="url(#gfuzz)" transform="rotate(-3 558.7 331.7)"/>
<ellipse cx="564.3" cy="340.9" rx="3.3" ry="2.2" fill="url(#gfuzz)" transform="rotate(0 564.3 340.9)"/>
<ellipse cx="558.4" cy="332.2" rx="4.5" ry="3.0" fill="url(#gfuzz)" transform="rotate(37 558.4 332.2)"/>
<ellipse cx="564.6" cy="334.3" rx="5.0" ry="3.3" fill="url(#gfuzz)" transform="rotate(10 564.6 334.3)"/>
<ellipse cx="567.1" cy="337.4" rx="3.7" ry="2.5" fill="url(#gfuzz)" transform="rotate(-34 567.1 337.4)"/>
<ellipse cx="553.6" cy="334.3" rx="3.9" ry="2.6" fill="url(#gfuzz)" transform="rotate(30 553.6 334.3)"/>
<ellipse cx="560.9" cy="333.5" rx="5.1" ry="3.4" fill="url(#gfuzz)" transform="rotate(8 560.9 333.5)"/>
<ellipse cx="568.8" cy="333.3" rx="4.8" ry="3.2" fill="url(#gfuzz)" transform="rotate(-13 568.8 333.3)"/>
<ellipse cx="652.0" cy="9.0" rx="9.0" ry="7.4" fill="#9ab2e0" fill-opacity="0.5" filter="url(#blur2)"/>
<ellipse cx="655.0" cy="2.5" rx="5.1" ry="3.4" fill="url(#gfuzz)" transform="rotate(-5 655.0 2.5)"/>
<ellipse cx="652.3" cy="4.0" rx="3.5" ry="2.3" fill="url(#gfuzz)" transform="rotate(-37 652.3 4.0)"/>
<ellipse cx="655.6" cy="10.5" rx="3.6" ry="2.4" fill="url(#gfuzz)" transform="rotate(-0 655.6 10.5)"/>
<ellipse cx="649.9" cy="4.0" rx="4.2" ry="2.8" fill="url(#gfuzz)" transform="rotate(12 649.9 4.0)"/>
<ellipse cx="649.9" cy="13.6" rx="4.9" ry="3.3" fill="url(#gfuzz)" transform="rotate(-8 649.9 13.6)"/>
<ellipse cx="655.6" cy="15.2" rx="4.8" ry="3.2" fill="url(#gfuzz)" transform="rotate(-11 655.6 15.2)"/>
<ellipse cx="647.5" cy="12.8" rx="4.5" ry="3.0" fill="url(#gfuzz)" transform="rotate(-22 647.5 12.8)"/>
<ellipse cx="656.1" cy="9.1" rx="4.9" ry="3.3" fill="url(#gfuzz)" transform="rotate(-29 656.1 9.1)"/>
<ellipse cx="648.1" cy="9.8" rx="3.7" ry="2.5" fill="url(#gfuzz)" transform="rotate(-26 648.1 9.8)"/>
<ellipse cx="649.0" cy="10.7" rx="3.3" ry="2.2" fill="url(#gfuzz)" transform="rotate(-31 649.0 10.7)"/>
<ellipse cx="655.1" cy="13.4" rx="3.4" ry="2.2" fill="url(#gfuzz)" transform="rotate(-38 655.1 13.4)"/>
<ellipse cx="646.6" cy="10.5" rx="4.8" ry="3.2" fill="url(#gfuzz)" transform="rotate(-36 646.6 10.5)"/>
<ellipse cx="975.0" cy="8.0" rx="12.0" ry="9.9" fill="#9ab2e0" fill-opacity="0.5" filter="url(#blur2)"/>
<ellipse cx="968.8" cy="11.5" rx="4.4" ry="2.9" fill="url(#gfuzz)" transform="rotate(37 968.8 11.5)"/>
<ellipse cx="975.7" cy="10.9" rx="5.7" ry="3.8" fill="url(#gfuzz)" transform="rotate(-27 975.7 10.9)"/>
<ellipse cx="969.9" cy="4.1" rx="4.7" ry="3.1" fill="url(#gfuzz)" transform="rotate(-36 969.9 4.1)"/>
<ellipse cx="974.1" cy="3.0" rx="6.6" ry="4.4" fill="url(#gfuzz)" transform="rotate(-3 974.1 3.0)"/>
<ellipse cx="981.0" cy="5.8" rx="5.0" ry="3.4" fill="url(#gfuzz)" transform="rotate(-19 981.0 5.8)"/>
<ellipse cx="978.8" cy="1.0" rx="5.3" ry="3.5" fill="url(#gfuzz)" transform="rotate(-33 978.8 1.0)"/>
<ellipse cx="970.1" cy="-0.6" rx="6.0" ry="4.0" fill="url(#gfuzz)" transform="rotate(-40 970.1 -0.6)"/>
<ellipse cx="978.5" cy="8.5" rx="4.8" ry="3.2" fill="url(#gfuzz)" transform="rotate(-37 978.5 8.5)"/>
<ellipse cx="984.2" cy="10.6" rx="6.9" ry="4.6" fill="url(#gfuzz)" transform="rotate(-24 984.2 10.6)"/>
<ellipse cx="983.2" cy="6.9" rx="6.6" ry="4.4" fill="url(#gfuzz)" transform="rotate(33 983.2 6.9)"/>
<ellipse cx="977.1" cy="7.3" rx="5.2" ry="3.5" fill="url(#gfuzz)" transform="rotate(9 977.1 7.3)"/>
<ellipse cx="978.4" cy="7.1" rx="5.2" ry="3.4" fill="url(#gfuzz)" transform="rotate(28 978.4 7.1)"/>
<ellipse cx="849.2" cy="90.2" rx="10" ry="8.5" fill="url(#gfuzz)"/>
<ellipse cx="973.5" cy="6.7" rx="10" ry="8.5" fill="url(#gfuzz)"/>
<ellipse cx="608.6" cy="15.8" rx="10" ry="8.5" fill="url(#gdot)"/>
<ellipse cx="663.8" cy="6.7" rx="10" ry="8.5" fill="url(#gdot)"/>
<ellipse cx="700.6" cy="7.7" rx="10" ry="8.5" fill="url(#gdot)"/>
<ellipse cx="645.5" cy="37.7" rx="10" ry="8.5" fill="url(#gdot)"/>
<ellipse cx="608.7" cy="57.8" rx="10" ry="8.5" fill="url(#gdot)"/>
<ellipse cx="664.0" cy="69.7" rx="10" ry="8.5" fill="url(#gdot)"/>
<ellipse cx="700.8" cy="70.6" rx="10" ry="8.5" fill="url(#gdot)"/>
<ellipse cx="572.0" cy="77.8" rx="10" ry="8.5" fill="url(#gdot)"/>
<ellipse cx="627.3" cy="89.7" rx="10" ry="8.5" fill="url(#gdot)"/>
<ellipse cx="553.7" cy="108.8" rx="10" ry="8.5" fill="url(#gdot)"/>
<ellipse cx="590.5" cy="109.7" rx="10" ry="8.5" fill="url(#gdot)"/>
<ellipse cx="627.4" cy="131.6" rx="10" ry="8.5" fill="url(#gdot)"/>
<ellipse cx="553.8" cy="129.7" rx="10" ry="8.5" fill="url(#gdot)"/>
<ellipse cx="664.3" cy="132.6" rx="10" ry="8.5" fill="url(#gdot)"/>
<ellipse cx="590.7" cy="151.6" rx="10" ry="8.5" fill="url(#gdot)"/>
<ellipse cx="682.8" cy="164.5" rx="10" ry="8.5" fill="url(#gdot)"/>
<ellipse cx="755.8" cy="-1.4" rx="10" ry="8.5" fill="url(#gdot)"/>
<ellipse cx="811.1" cy="10.5" rx="10" ry="8.5" fill="url(#gdot)"/>
<ellipse cx="774.3" cy="30.6" rx="10" ry="8.5" fill="url(#gdot)"/>
<ellipse cx="774.5" cy="72.5" rx="10" ry="8.5" fill="url(#gdot)"/>
<ellipse cx="811.3" cy="73.5" rx="10" ry="8.5" fill="url(#gdot)"/>
<ellipse cx="737.8" cy="92.5" rx="10" ry="8.5" fill="url(#gdot)"/>
<ellipse cx="756.3" cy="124.5" rx="10" ry="8.5" fill="url(#gdot)"/>
<ellipse cx="793.2" cy="146.4" rx="10" ry="8.5" fill="url(#gdot)"/>
<ellipse cx="738.0" cy="155.4" rx="10" ry="8.5" fill="url(#gdot)"/>
<ellipse cx="995.2" cy="15.3" rx="10" ry="8.5" fill="url(#gdot)"/>
<ellipse cx="884.8" cy="33.4" rx="10" ry="8.5" fill="url(#gdot)"/>
<ellipse cx="921.6" cy="34.4" rx="10" ry="8.5" fill="url(#gdot)"/>
<ellipse cx="995.4" cy="57.2" rx="10" ry="8.5" fill="url(#gdot)"/>
<ellipse cx="885.0" cy="75.4" rx="10" ry="8.5" fill="url(#gdot)"/>
<ellipse cx="977.1" cy="88.2" rx="10" ry="8.5" fill="url(#gdot)"/>
<ellipse cx="921.9" cy="97.3" rx="10" ry="8.5" fill="url(#gdot)"/>
<ellipse cx="1014.1" cy="131.1" rx="10" ry="8.5" fill="url(#gdot)"/>
<ellipse cx="885.2" cy="138.3" rx="10" ry="8.5" fill="url(#gdot)"/>
<ellipse cx="922.1" cy="139.2" rx="10" ry="8.5" fill="url(#gdot)"/>
<ellipse cx="958.9" cy="140.2" rx="10" ry="8.5" fill="url(#gdot)"/>
<ellipse cx="553.9" cy="171.7" rx="10" ry="8.5" fill="url(#gdot)"/>
<ellipse cx="627.6" cy="173.6" rx="10" ry="8.5" fill="url(#gdot)"/>
<ellipse cx="664.5" cy="195.5" rx="10" ry="8.5" fill="url(#gdot)"/>
<ellipse cx="683.0" cy="206.5" rx="10" ry="8.5" fill="url(#gdot)"/>
<ellipse cx="554.1" cy="213.6" rx="10" ry="8.5" fill="url(#gdot)"/>
<ellipse cx="627.8" cy="215.5" rx="10" ry="8.5" fill="url(#gdot)"/>
<ellipse cx="591.0" cy="235.5" rx="10" ry="8.5" fill="url(#gdot)"/>
<ellipse cx="664.7" cy="237.4" rx="10" ry="8.5" fill="url(#gdot)"/>
<ellipse cx="701.6" cy="259.4" rx="10" ry="8.5" fill="url(#gdot)"/>
<ellipse cx="554.4" cy="276.5" rx="10" ry="8.5" fill="url(#gdot)"/>
<ellipse cx="664.8" cy="279.4" rx="10" ry="8.5" fill="url(#gdot)"/>
<ellipse cx="572.9" cy="308.5" rx="10" ry="8.5" fill="url(#gdot)"/>
<ellipse cx="609.7" cy="309.4" rx="10" ry="8.5" fill="url(#gdot)"/>
<ellipse cx="665.0" cy="321.3" rx="10" ry="8.5" fill="url(#gdot)"/>
<ellipse cx="830.1" cy="168.3" rx="10" ry="8.5" fill="url(#gdot)"/>
<ellipse cx="775.0" cy="198.3" rx="10" ry="8.5" fill="url(#gdot)"/>
<ellipse cx="830.3" cy="210.2" rx="10" ry="8.5" fill="url(#gdot)"/>
<ellipse cx="867.1" cy="211.2" rx="10" ry="8.5" fill="url(#gdot)"/>
<ellipse cx="793.5" cy="230.3" rx="10" ry="8.5" fill="url(#gdot)"/>
<ellipse cx="738.4" cy="260.3" rx="10" ry="8.5" fill="url(#gdot)"/>
<ellipse cx="775.2" cy="261.3" rx="10" ry="8.5" fill="url(#gdot)"/>
<ellipse cx="793.8" cy="293.2" rx="10" ry="8.5" fill="url(#gdot)"/>
<ellipse cx="738.6" cy="302.2" rx="10" ry="8.5" fill="url(#gdot)"/>
<ellipse cx="830.7" cy="315.1" rx="10" ry="8.5" fill="url(#gdot)"/>
<ellipse cx="867.4" cy="295.1" rx="10" ry="8.5" fill="url(#gdot)"/>
<ellipse cx="903.8" cy="170.2" rx="10" ry="8.5" fill="url(#gdot)"/>
<ellipse cx="885.4" cy="180.2" rx="10" ry="8.5" fill="url(#gdot)"/>
<ellipse cx="977.4" cy="172.1" rx="10" ry="8.5" fill="url(#gdot)"/>
<ellipse cx="1014.3" cy="194.0" rx="10" ry="8.5" fill="url(#gdot)"/>
<ellipse cx="977.6" cy="214.0" rx="10" ry="8.5" fill="url(#gdot)"/>
<ellipse cx="904.0" cy="233.1" rx="10" ry="8.5" fill="url(#gdot)"/>
<ellipse cx="1014.5" cy="236.0" rx="10" ry="8.5" fill="url(#gdot)"/>
<ellipse cx="977.8" cy="256.0" rx="10" ry="8.5" fill="url(#gdot)"/>
<ellipse cx="959.4" cy="266.0" rx="10" ry="8.5" fill="url(#gdot)"/>
<ellipse cx="904.2" cy="275.1" rx="10" ry="8.5" fill="url(#gdot)"/>
<ellipse cx="996.3" cy="287.9" rx="10" ry="8.5" fill="url(#gdot)"/>
<ellipse cx="941.1" cy="297.0" rx="10" ry="8.5" fill="url(#gdot)"/>
<ellipse cx="959.5" cy="307.9" rx="10" ry="8.5" fill="url(#gdot)"/>
<ellipse cx="904.3" cy="317.0" rx="10" ry="8.5" fill="url(#gdot)"/>
<ellipse cx="701.8" cy="322.3" rx="10" ry="8.5" fill="url(#gdot)"/>
<ellipse cx="609.9" cy="351.3" rx="10" ry="8.5" fill="url(#gdot)"/>
<ellipse cx="646.7" cy="352.3" rx="10" ry="8.5" fill="url(#gdot)"/>
<ellipse cx="591.6" cy="382.3" rx="10" ry="8.5" fill="url(#gdot)"/>
<ellipse cx="683.7" cy="395.2" rx="10" ry="8.5" fill="url(#gdot)"/>
<ellipse cx="554.8" cy="402.4" rx="10" ry="8.5" fill="url(#gdot)"/>
<ellipse cx="554.9" cy="423.3" rx="10" ry="8.5" fill="url(#gdot)"/>
<ellipse cx="702.2" cy="427.1" rx="10" ry="8.5" fill="url(#gdot)"/>
<ellipse cx="665.5" cy="447.1" rx="10" ry="8.5" fill="url(#gdot)"/>
<ellipse cx="702.4" cy="469.1" rx="10" ry="8.5" fill="url(#gdot)"/>
<ellipse cx="793.9" cy="335.1" rx="10" ry="8.5" fill="url(#gdot)"/>
<ellipse cx="720.4" cy="354.2" rx="10" ry="8.5" fill="url(#gdot)"/>
<ellipse cx="830.9" cy="357.0" rx="10" ry="8.5" fill="url(#gdot)"/>
<ellipse cx="794.1" cy="377.1" rx="10" ry="8.5" fill="url(#gdot)"/>
<ellipse cx="867.8" cy="379.0" rx="10" ry="8.5" fill="url(#gdot)"/>
<ellipse cx="738.9" cy="386.1" rx="10" ry="8.5" fill="url(#gdot)"/>
<ellipse cx="775.8" cy="408.1" rx="10" ry="8.5" fill="url(#gdot)"/>
<ellipse cx="812.6" cy="409.0" rx="10" ry="8.5" fill="url(#gdot)"/>
<ellipse cx="849.5" cy="410.0" rx="10" ry="8.5" fill="url(#gdot)"/>
<ellipse cx="720.6" cy="417.1" rx="10" ry="8.5" fill="url(#gdot)"/>
<ellipse cx="849.6" cy="430.9" rx="10" ry="8.5" fill="url(#gdot)"/>
<ellipse cx="757.5" cy="439.0" rx="10" ry="8.5" fill="url(#gdot)"/>
<ellipse cx="831.3" cy="461.9" rx="10" ry="8.5" fill="url(#gdot)"/>
<ellipse cx="739.2" cy="470.0" rx="10" ry="8.5" fill="url(#gdot)"/>
<ellipse cx="959.6" cy="328.9" rx="10" ry="8.5" fill="url(#gdot)"/>
<ellipse cx="996.5" cy="329.9" rx="10" ry="8.5" fill="url(#gdot)"/>
<ellipse cx="922.9" cy="348.9" rx="10" ry="8.5" fill="url(#gdot)"/>
<ellipse cx="923.0" cy="390.9" rx="10" ry="8.5" fill="url(#gdot)"/>
<ellipse cx="886.3" cy="410.9" rx="10" ry="8.5" fill="url(#gdot)"/>
<ellipse cx="941.6" cy="422.8" rx="10" ry="8.5" fill="url(#gdot)"/>
<ellipse cx="978.4" cy="423.8" rx="10" ry="8.5" fill="url(#gdot)"/>
<ellipse cx="1015.2" cy="424.7" rx="10" ry="8.5" fill="url(#gdot)"/>
<ellipse cx="904.8" cy="442.8" rx="10" ry="8.5" fill="url(#gdot)"/>
<ellipse cx="868.1" cy="462.9" rx="10" ry="8.5" fill="url(#gdot)"/>
<ellipse cx="941.7" cy="464.8" rx="10" ry="8.5" fill="url(#gdot)"/>
<ellipse cx="978.6" cy="465.7" rx="10" ry="8.5" fill="url(#gdot)"/>
</g></g>
<rect x="549.2" y="1" width="470.79999999999995" height="470" fill="none" stroke="#231f20" stroke-width="2.2"/>
<rect x="550.2" y="2.0" width="46.4" height="46" fill="#fff"/>
<text x="550.0" y="35.2" font-size="37.2" text-anchor="start" >(b)</text>
<rect x="561.1" y="412.9" width="88.5" height="41" fill="#fff"/>
<rect x="564.4" y="446" width="82" height="4.1" fill="#000"/>
<text x="577.3" y="439.8" font-size="27" text-anchor="start" >5 nm</text>
<rect x="53.2" y="544" width="429.2" height="413.20000000000005" fill="none" stroke="#111" stroke-width="2.5"/>
<line x1="68.40" y1="545" x2="68.40" y2="552" stroke="#111" stroke-width="2.2"/>
<line x1="101.58" y1="545" x2="101.58" y2="550" stroke="#111" stroke-width="2.2"/>
<line x1="134.77" y1="545" x2="134.77" y2="550" stroke="#111" stroke-width="2.2"/>
<line x1="167.95" y1="545" x2="167.95" y2="552" stroke="#111" stroke-width="2.2"/>
<line x1="201.13" y1="545" x2="201.13" y2="550" stroke="#111" stroke-width="2.2"/>
<line x1="234.32" y1="545" x2="234.32" y2="550" stroke="#111" stroke-width="2.2"/>
<line x1="267.50" y1="545" x2="267.50" y2="552" stroke="#111" stroke-width="2.2"/>
<line x1="300.68" y1="545" x2="300.68" y2="550" stroke="#111" stroke-width="2.2"/>
<line x1="333.87" y1="545" x2="333.87" y2="550" stroke="#111" stroke-width="2.2"/>
<line x1="367.05" y1="545" x2="367.05" y2="552" stroke="#111" stroke-width="2.2"/>
<line x1="400.23" y1="545" x2="400.23" y2="550" stroke="#111" stroke-width="2.2"/>
<line x1="433.42" y1="545" x2="433.42" y2="550" stroke="#111" stroke-width="2.2"/>
<line x1="466.60" y1="545" x2="466.60" y2="552" stroke="#111" stroke-width="2.2"/>
<line x1="68.40" y1="956" x2="68.40" y2="949" stroke="#111" stroke-width="2.2"/>
<line x1="101.58" y1="956" x2="101.58" y2="951" stroke="#111" stroke-width="2.2"/>
<line x1="134.77" y1="956" x2="134.77" y2="951" stroke="#111" stroke-width="2.2"/>
<line x1="167.95" y1="956" x2="167.95" y2="949" stroke="#111" stroke-width="2.2"/>
<line x1="201.13" y1="956" x2="201.13" y2="951" stroke="#111" stroke-width="2.2"/>
<line x1="234.32" y1="956" x2="234.32" y2="951" stroke="#111" stroke-width="2.2"/>
<line x1="267.50" y1="956" x2="267.50" y2="949" stroke="#111" stroke-width="2.2"/>
<line x1="300.68" y1="956" x2="300.68" y2="951" stroke="#111" stroke-width="2.2"/>
<line x1="333.87" y1="956" x2="333.87" y2="951" stroke="#111" stroke-width="2.2"/>
<line x1="367.05" y1="956" x2="367.05" y2="949" stroke="#111" stroke-width="2.2"/>
<line x1="400.23" y1="956" x2="400.23" y2="951" stroke="#111" stroke-width="2.2"/>
<line x1="433.42" y1="956" x2="433.42" y2="951" stroke="#111" stroke-width="2.2"/>
<line x1="466.60" y1="956" x2="466.60" y2="949" stroke="#111" stroke-width="2.2"/>
<line x1="54" y1="773" x2="482" y2="773" stroke="#111" stroke-width="2.6" stroke-dasharray="9.8,11.26" stroke-dashoffset="2.1"/>
<line x1="54" y1="940.8" x2="482" y2="940.8" stroke="#111" stroke-width="2.6" stroke-dasharray="9.6,11.86" stroke-dashoffset="5.7"/>
<text x="90.9" y="982.6" font-size="27" text-anchor="end" >-600</text>
<text x="190.5" y="982.6" font-size="27" text-anchor="end" >-300</text>
<text x="275.0" y="982.6" font-size="27" text-anchor="end" >0</text>
<text x="389.5" y="982.6" font-size="27" text-anchor="end" >300</text>
<text x="489.1" y="982.6" font-size="27" text-anchor="end" >600</text>
<text x="162.5" y="1005.7" font-size="26.8" text-anchor="start" >Sample bias (mV)</text>
<text x="0.0" y="0.0" font-size="26.65" text-anchor="start" transform="translate(25,918) rotate(-90)">Normalized d<tspan font-style="italic">I</tspan>/d<tspan font-style="italic">V</tspan> (arb .units)</text>
<text x="-1.2" y="525.0" font-size="36.5" text-anchor="start" >(c)</text>
<text x="66.3" y="525.1" font-size="26" text-anchor="start" font-weight="bold">T</text>
<text x="81.8" y="533.9" font-size="16.5" text-anchor="start" font-style="italic">C</text>
<text x="100.0" y="525.1" font-size="26.9" text-anchor="start" >termination</text>
<rect x="555" y="543.3" width="464" height="413.70000000000005" fill="none" stroke="#111" stroke-width="2.5"/>
<line x1="567.99" y1="544.5" x2="567.99" y2="551.5" stroke="#111" stroke-width="2.2"/>
<line x1="595.34" y1="544.5" x2="595.34" y2="549.5" stroke="#111" stroke-width="2.2"/>
<line x1="622.68" y1="544.5" x2="622.68" y2="549.5" stroke="#111" stroke-width="2.2"/>
<line x1="650.02" y1="544.5" x2="650.02" y2="549.5" stroke="#111" stroke-width="2.2"/>
<line x1="677.37" y1="544.5" x2="677.37" y2="551.5" stroke="#111" stroke-width="2.2"/>
<line x1="704.72" y1="544.5" x2="704.72" y2="549.5" stroke="#111" stroke-width="2.2"/>
<line x1="732.06" y1="544.5" x2="732.06" y2="549.5" stroke="#111" stroke-width="2.2"/>
<line x1="759.40" y1="544.5" x2="759.40" y2="549.5" stroke="#111" stroke-width="2.2"/>
<line x1="786.75" y1="544.5" x2="786.75" y2="551.5" stroke="#111" stroke-width="2.2"/>
<line x1="814.10" y1="544.5" x2="814.10" y2="549.5" stroke="#111" stroke-width="2.2"/>
<line x1="841.44" y1="544.5" x2="841.44" y2="549.5" stroke="#111" stroke-width="2.2"/>
<line x1="868.78" y1="544.5" x2="868.78" y2="549.5" stroke="#111" stroke-width="2.2"/>
<line x1="896.13" y1="544.5" x2="896.13" y2="551.5" stroke="#111" stroke-width="2.2"/>
<line x1="923.48" y1="544.5" x2="923.48" y2="549.5" stroke="#111" stroke-width="2.2"/>
<line x1="950.82" y1="544.5" x2="950.82" y2="549.5" stroke="#111" stroke-width="2.2"/>
<line x1="978.16" y1="544.5" x2="978.16" y2="549.5" stroke="#111" stroke-width="2.2"/>
<line x1="1005.51" y1="544.5" x2="1005.51" y2="551.5" stroke="#111" stroke-width="2.2"/>
<line x1="567.99" y1="956" x2="567.99" y2="949" stroke="#111" stroke-width="2.2"/>
<line x1="595.34" y1="956" x2="595.34" y2="951" stroke="#111" stroke-width="2.2"/>
<line x1="622.68" y1="956" x2="622.68" y2="951" stroke="#111" stroke-width="2.2"/>
<line x1="650.02" y1="956" x2="650.02" y2="951" stroke="#111" stroke-width="2.2"/>
<line x1="677.37" y1="956" x2="677.37" y2="949" stroke="#111" stroke-width="2.2"/>
<line x1="704.72" y1="956" x2="704.72" y2="951" stroke="#111" stroke-width="2.2"/>
<line x1="732.06" y1="956" x2="732.06" y2="951" stroke="#111" stroke-width="2.2"/>
<line x1="759.40" y1="956" x2="759.40" y2="951" stroke="#111" stroke-width="2.2"/>
<line x1="786.75" y1="956" x2="786.75" y2="949" stroke="#111" stroke-width="2.2"/>
<line x1="814.10" y1="956" x2="814.10" y2="951" stroke="#111" stroke-width="2.2"/>
<line x1="841.44" y1="956" x2="841.44" y2="951" stroke="#111" stroke-width="2.2"/>
<line x1="868.78" y1="956" x2="868.78" y2="951" stroke="#111" stroke-width="2.2"/>
<line x1="896.13" y1="956" x2="896.13" y2="949" stroke="#111" stroke-width="2.2"/>
<line x1="923.48" y1="956" x2="923.48" y2="951" stroke="#111" stroke-width="2.2"/>
<line x1="950.82" y1="956" x2="950.82" y2="951" stroke="#111" stroke-width="2.2"/>
<line x1="978.16" y1="956" x2="978.16" y2="951" stroke="#111" stroke-width="2.2"/>
<line x1="1005.51" y1="956" x2="1005.51" y2="949" stroke="#111" stroke-width="2.2"/>
<line x1="556" y1="732.3" x2="1018" y2="732.3" stroke="#111" stroke-width="2.5" stroke-dasharray="9.3,11.8" stroke-dashoffset="6.1"/>
<line x1="556" y1="939.1" x2="1018" y2="939.1" stroke="#111" stroke-width="2.5" stroke-dasharray="7.8,13.3" stroke-dashoffset="3.9"/>
<text x="590.5" y="982.6" font-size="27" text-anchor="end" >-600</text>
<text x="699.9" y="982.6" font-size="27" text-anchor="end" >-300</text>
<text x="794.2" y="982.6" font-size="27" text-anchor="end" >0</text>
<text x="918.6" y="982.6" font-size="27" text-anchor="end" >300</text>
<text x="1028.0" y="982.6" font-size="27" text-anchor="end" >600</text>
<text x="681.0" y="1005.7" font-size="26.8" text-anchor="start" >Sample bias (mV)</text>
<text x="499.3" y="525.0" font-size="36.5" text-anchor="start" >(d)</text>
<text x="570.4" y="525.1" font-size="26" text-anchor="start" font-weight="bold">T</text>
<text x="584.6" y="534.7" font-size="16.5" text-anchor="start" font-style="italic">A</text>
<text x="603.0" y="525.1" font-size="26.9" text-anchor="start" >termination</text>
<rect x="52" y="1065.3" width="374.2" height="336.4000000000001" fill="none" stroke="#111" stroke-width="2.0"/>
<line x1="66.10" y1="1401" x2="66.10" y2="1388" stroke="#111" stroke-width="2.0"/>
<line x1="95.19" y1="1401" x2="95.19" y2="1391" stroke="#111" stroke-width="2.0"/>
<line x1="124.28" y1="1401" x2="124.28" y2="1391" stroke="#111" stroke-width="2.0"/>
<line x1="153.37" y1="1401" x2="153.37" y2="1388" stroke="#111" stroke-width="2.0"/>
<line x1="182.47" y1="1401" x2="182.47" y2="1391" stroke="#111" stroke-width="2.0"/>
<line x1="211.56" y1="1401" x2="211.56" y2="1391" stroke="#111" stroke-width="2.0"/>
<line x1="240.65" y1="1401" x2="240.65" y2="1388" stroke="#111" stroke-width="2.0"/>
<line x1="269.74" y1="1401" x2="269.74" y2="1391" stroke="#111" stroke-width="2.0"/>
<line x1="298.83" y1="1401" x2="298.83" y2="1391" stroke="#111" stroke-width="2.0"/>
<line x1="327.93" y1="1401" x2="327.93" y2="1388" stroke="#111" stroke-width="2.0"/>
<line x1="357.02" y1="1401" x2="357.02" y2="1391" stroke="#111" stroke-width="2.0"/>
<line x1="386.11" y1="1401" x2="386.11" y2="1391" stroke="#111" stroke-width="2.0"/>
<line x1="415.20" y1="1401" x2="415.20" y2="1388" stroke="#111" stroke-width="2.0"/>
<line x1="53" y1="1383.9" x2="426" y2="1383.9" stroke="#111" stroke-width="2.2" stroke-dasharray="13.3,13.2" stroke-dashoffset="1.7"/>
<line x1="53" y1="1259.8" x2="426" y2="1259.8" stroke="#111" stroke-width="2.2" stroke-dasharray="13.3,13.2" stroke-dashoffset="1.7"/>
<text x="88.6" y="1428.6" font-size="27" text-anchor="end" >-600</text>
<text x="175.9" y="1428.6" font-size="27" text-anchor="end" >-300</text>
<text x="248.2" y="1428.6" font-size="27" text-anchor="end" >0</text>
<text x="350.4" y="1428.6" font-size="27" text-anchor="end" >300</text>
<text x="437.7" y="1428.6" font-size="27" text-anchor="end" >600</text>
<text x="-1.8" y="1051.3" font-size="36.5" text-anchor="start" >(e)</text>
<text x="66.2" y="1050.0" font-size="27" text-anchor="start" >Monolayer</text>
<text x="136.2" y="1451.5" font-size="26.8" text-anchor="start" >Sample bias (mV)</text>
<text x="0.0" y="0.0" font-size="26.6" text-anchor="start" transform="translate(25.3,1327.5) rotate(-90)">PDOS (arb .units)</text>
<rect x="520.8" y="1065.3" width="499.30000000000007" height="336.4000000000001" fill="none" stroke="#111" stroke-width="2.0"/>
<line x1="535.12" y1="1401" x2="535.12" y2="1388" stroke="#111" stroke-width="2.0"/>
<line x1="564.48" y1="1401" x2="564.48" y2="1391" stroke="#111" stroke-width="2.0"/>
<line x1="593.84" y1="1401" x2="593.84" y2="1391" stroke="#111" stroke-width="2.0"/>
<line x1="623.20" y1="1401" x2="623.20" y2="1391" stroke="#111" stroke-width="2.0"/>
<line x1="652.56" y1="1401" x2="652.56" y2="1388" stroke="#111" stroke-width="2.0"/>
<line x1="681.92" y1="1401" x2="681.92" y2="1391" stroke="#111" stroke-width="2.0"/>
<line x1="711.28" y1="1401" x2="711.28" y2="1391" stroke="#111" stroke-width="2.0"/>
<line x1="740.64" y1="1401" x2="740.64" y2="1391" stroke="#111" stroke-width="2.0"/>
<line x1="770.00" y1="1401" x2="770.00" y2="1388" stroke="#111" stroke-width="2.0"/>
<line x1="799.36" y1="1401" x2="799.36" y2="1391" stroke="#111" stroke-width="2.0"/>
<line x1="828.72" y1="1401" x2="828.72" y2="1391" stroke="#111" stroke-width="2.0"/>
<line x1="858.08" y1="1401" x2="858.08" y2="1391" stroke="#111" stroke-width="2.0"/>
<line x1="887.44" y1="1401" x2="887.44" y2="1388" stroke="#111" stroke-width="2.0"/>
<line x1="916.80" y1="1401" x2="916.80" y2="1391" stroke="#111" stroke-width="2.0"/>
<line x1="946.16" y1="1401" x2="946.16" y2="1391" stroke="#111" stroke-width="2.0"/>
<line x1="975.52" y1="1401" x2="975.52" y2="1391" stroke="#111" stroke-width="2.0"/>
<line x1="1004.88" y1="1401" x2="1004.88" y2="1388" stroke="#111" stroke-width="2.0"/>
<line x1="522" y1="1383.9" x2="1019" y2="1383.9" stroke="#111" stroke-width="2.2" stroke-dasharray="13.3,13.0" stroke-dashoffset="1.6"/>
<text x="557.6" y="1428.6" font-size="27" text-anchor="end" >-800</text>
<text x="675.1" y="1428.6" font-size="27" text-anchor="end" >-400</text>
<text x="777.5" y="1428.6" font-size="27" text-anchor="end" >0</text>
<text x="909.9" y="1428.6" font-size="27" text-anchor="end" >400</text>
<text x="1027.4" y="1428.6" font-size="27" text-anchor="end" >800</text>
<text x="472.8" y="1051.3" font-size="36.5" text-anchor="start" >(f)</text>
<text x="527.3" y="1050.0" font-size="27" text-anchor="start" >Bilayer</text>
<text x="664.4" y="1451.5" font-size="26.8" text-anchor="start" >Sample bias (mV)</text>
<path d="M69.7,684.9 C70.6,685.2 72.7,685.5 74.9,686.5 C77.2,687.5 80.6,689.7 83.2,691.1 C85.8,692.5 88.4,694.9 90.5,694.9 C92.6,694.9 93.9,692.1 95.8,691.1 C97.7,690.1 99.4,689.8 102.0,688.6 C104.6,687.4 108.6,684.2 111.4,683.8 C114.2,683.3 116.1,685.8 118.7,685.9 C121.3,686.0 124.3,684.2 127.1,684.5 C129.9,684.8 132.4,686.6 135.4,687.6 C138.4,688.6 142.0,690.5 144.8,690.7 C147.6,691.0 149.7,689.7 152.1,689.1 C154.5,688.5 157.0,687.3 159.4,687.4 C161.8,687.5 164.3,689.3 166.7,689.5 C169.1,689.7 171.6,689.0 174.0,688.6 C176.4,688.2 178.7,688.1 181.3,687.4 C183.9,686.7 187.6,684.6 189.7,684.5 C191.8,684.4 192.5,685.7 193.9,687.0 C195.3,688.3 196.4,690.3 198.1,692.2 C199.8,694.1 201.9,696.9 204.3,698.4 C206.7,699.9 209.9,701.0 212.7,701.2 C215.5,701.4 218.2,700.8 221.0,699.5 C223.8,698.2 227.0,695.0 229.4,693.2 C231.8,691.4 233.5,690.1 235.6,688.6 C237.7,687.1 240.2,685.5 241.9,684.5 C243.6,683.5 244.4,682.0 245.6,682.8 C246.8,683.6 248.1,686.0 249.2,689.1 C250.3,692.2 251.2,696.0 252.3,701.6 C253.4,707.2 254.4,715.2 255.5,722.5 C256.6,729.8 257.5,738.8 258.6,745.4 C259.7,752.0 260.9,757.8 262.0,762.0 C263.1,766.2 264.5,768.7 265.5,770.5 C266.5,772.3 266.2,772.4 268.1,772.6 C270.1,772.8 274.2,771.6 277.2,771.9 C280.2,772.2 283.2,774.2 286.2,774.2 C289.2,774.2 293.0,772.2 295.3,771.9 C297.6,771.6 299.1,774.6 300.2,772.6 C301.3,770.6 301.4,765.4 301.9,760.0 C302.4,754.6 302.8,748.3 303.2,740.0 C303.6,731.7 304.0,722.8 304.5,710.0 C305.0,697.2 305.4,678.7 306.1,663.0 C306.8,647.3 307.8,630.3 308.5,615.8 C309.2,601.2 309.6,584.7 310.3,575.7 C311.0,566.7 311.8,564.8 312.5,562.0 C313.2,559.2 313.8,559.0 314.4,559.2 C315.0,559.4 315.7,560.2 316.3,563.0 C316.9,565.8 317.0,568.9 317.9,575.7 C318.8,582.5 320.0,595.0 321.4,604.0 C322.8,613.0 324.4,621.0 326.2,630.0 C328.0,639.0 330.1,649.6 332.1,658.3 C334.1,666.9 336.2,676.8 338.0,681.9 C339.8,687.0 341.3,686.8 343.0,689.0 C344.7,691.2 345.9,691.5 348.0,695.0 C350.1,698.5 353.4,705.1 355.7,710.3 C358.0,715.5 359.6,721.8 362.0,726.0 C364.4,730.2 366.4,732.2 370.0,735.3 C373.6,738.3 379.4,741.1 383.5,744.3 C387.6,747.5 391.1,751.9 394.9,754.5 C398.7,757.1 402.4,759.8 406.2,760.2 C410.0,760.6 413.4,758.5 417.5,756.8 C421.6,755.1 427.7,751.7 431.1,750.0 C434.5,748.3 435.6,748.7 437.9,746.6 C440.2,744.5 442.1,742.0 444.7,737.5 C447.3,733.0 450.1,724.9 453.7,719.4 C457.3,713.9 464.1,707.2 466.2,704.7" fill="none" stroke="#8a8a8a" stroke-width="4.2" stroke-opacity="1" stroke-linejoin="round" stroke-linecap="round" />
<path d="M68.6,852.7 C69.6,854.1 72.1,857.6 74.9,861.1 C77.7,864.6 82.2,870.0 85.3,873.6 C88.4,877.2 91.1,880.9 93.7,883.0 C96.3,885.1 98.8,886.6 101.0,886.1 C103.2,885.6 105.0,882.9 107.2,879.9 C109.5,876.9 112.2,871.2 114.5,868.4 C116.8,865.6 118.0,864.1 120.8,863.2 C123.6,862.3 127.7,863.2 131.2,863.2 C134.7,863.2 138.6,863.7 141.7,863.2 C144.8,862.7 147.2,861.8 150.0,860.0 C152.8,858.2 155.6,855.7 158.4,852.7 C161.2,849.8 164.3,846.5 166.7,842.3 C169.1,838.1 170.9,834.3 173.0,827.7 C175.1,821.1 177.2,812.0 179.3,802.6 C181.4,793.2 183.6,780.0 185.5,771.3 C187.4,762.6 189.1,754.8 190.7,750.4 C192.3,746.0 193.3,743.8 194.9,745.2 C196.5,746.6 198.5,753.4 200.1,758.8 C201.7,764.2 202.7,770.3 204.3,777.6 C205.9,784.9 207.4,795.3 209.5,802.6 C211.6,809.9 214.2,816.2 216.8,821.4 C219.4,826.6 222.4,829.0 225.2,833.9 C228.0,838.8 231.1,844.7 233.5,850.6 C235.9,856.5 237.7,862.1 239.8,869.4 C241.9,876.7 244.0,886.5 246.1,894.5 C248.2,902.5 250.1,911.1 252.3,917.5 C254.6,923.9 257.3,929.5 259.6,933.1 C261.9,936.8 263.0,938.6 265.9,939.4 C268.8,940.2 272.3,938.1 277.2,937.9 C282.1,937.6 290.0,938.5 295.3,937.9 C300.6,937.3 304.3,935.6 308.8,934.5 C313.3,933.4 317.1,931.5 322.4,931.1 C327.7,930.7 335.2,931.8 340.5,932.2 C345.8,932.6 349.6,933.3 354.1,933.3 C358.6,933.3 363.6,933.1 367.7,932.2 C371.8,931.3 375.2,930.0 379.0,927.7 C382.8,925.4 386.2,921.6 390.3,918.6 C394.4,915.6 399.4,912.1 403.9,909.6 C408.4,907.1 413.0,905.6 417.5,903.9 C422.0,902.2 427.0,901.1 431.1,899.4 C435.2,897.7 438.6,895.4 442.4,893.7 C446.2,892.0 449.7,890.1 453.7,889.2 C457.7,888.3 464.1,888.3 466.2,888.1" fill="none" stroke="#37a060" stroke-width="11" stroke-opacity="0.62" stroke-linejoin="round" stroke-linecap="round" />
<path d="M67.1,847.5 C68.1,848.9 70.6,852.7 73.4,856.4 C76.2,860.1 80.7,865.7 83.8,869.6 C86.9,873.5 89.6,877.4 92.2,879.6 C94.8,881.8 97.2,883.4 99.5,882.9 C101.8,882.3 103.5,879.4 105.7,876.3 C108.0,873.2 110.7,867.1 113.0,864.1 C115.3,861.2 116.5,859.5 119.3,858.6 C122.1,857.7 126.2,858.6 129.7,858.6 C133.2,858.6 137.1,859.2 140.2,858.6 C143.3,858.0 145.7,857.1 148.5,855.2 C151.3,853.3 154.1,850.6 156.9,847.5 C159.7,844.3 162.8,840.9 165.2,836.4 C167.6,832.0 169.4,828.0 171.5,821.0 C173.6,813.9 175.7,804.3 177.8,794.4 C179.9,784.4 182.1,770.4 184.0,761.2 C185.9,752.0 187.6,743.6 189.2,739.0 C190.8,734.4 191.8,732.0 193.4,733.5 C195.0,735.0 197.0,742.2 198.6,747.9 C200.2,753.7 201.2,760.1 202.8,767.9 C204.4,775.6 205.9,786.6 208.0,794.4 C210.1,802.1 212.7,808.8 215.3,814.3 C217.9,819.8 220.9,822.4 223.7,827.5 C226.5,832.7 229.6,839.0 232.0,845.2 C234.4,851.5 236.2,857.4 238.3,865.2 C240.4,872.9 242.5,883.3 244.6,891.8 C246.7,900.3 248.6,909.3 250.8,916.1 C253.1,923.0 255.8,928.8 258.1,932.7 C260.4,936.6 261.5,938.5 264.4,939.4 C267.3,940.2 270.8,938.0 275.7,937.8 C280.6,937.5 288.5,938.4 293.8,937.8 C299.1,937.2 302.8,935.4 307.3,934.2 C311.8,933.0 315.6,931.0 320.9,930.6 C326.2,930.2 333.7,931.3 339.0,931.7 C344.3,932.1 348.1,932.9 352.6,932.9 C357.1,932.9 362.1,932.7 366.2,931.7 C370.3,930.7 373.7,929.4 377.5,927.0 C381.3,924.6 384.7,920.5 388.8,917.3 C392.9,914.1 397.9,910.4 402.4,907.8 C406.9,905.2 411.5,903.5 416.0,901.7 C420.5,899.9 425.5,898.8 429.6,897.0 C433.8,895.2 437.1,892.7 440.9,890.9 C444.7,889.1 448.2,887.1 452.2,886.2 C456.2,885.2 462.6,885.2 464.7,885.0" fill="none" stroke="#37a060" stroke-width="7" stroke-opacity="0.35" stroke-linejoin="round" stroke-linecap="round" />
<path d="M67.1,843.1 C68.1,844.7 70.6,848.6 73.4,852.4 C76.2,856.3 80.7,862.2 83.8,866.3 C86.9,870.3 89.6,874.4 92.2,876.7 C94.8,879.0 97.2,880.7 99.5,880.2 C101.8,879.6 103.5,876.6 105.7,873.3 C108.0,870.0 110.7,863.6 113.0,860.5 C115.3,857.4 116.5,855.7 119.3,854.8 C122.1,853.8 126.2,854.8 129.7,854.8 C133.2,854.8 137.1,855.3 140.2,854.8 C143.3,854.2 145.7,853.1 148.5,851.2 C151.3,849.3 154.1,846.4 156.9,843.1 C159.7,839.8 162.8,836.2 165.2,831.6 C167.6,826.9 169.4,822.7 171.5,815.3 C173.6,808.0 175.7,797.9 177.8,787.5 C179.9,777.1 182.1,762.4 184.0,752.7 C185.9,743.1 187.6,734.4 189.2,729.5 C190.8,724.7 191.8,722.2 193.4,723.8 C195.0,725.3 197.0,732.9 198.6,738.9 C200.2,744.9 201.2,751.6 202.8,759.7 C204.4,767.8 205.9,779.4 208.0,787.5 C210.1,795.6 212.7,802.6 215.3,808.4 C217.9,814.1 220.9,816.8 223.7,822.2 C226.5,827.6 229.6,834.2 232.0,840.8 C234.4,847.3 236.2,853.5 238.3,861.6 C240.4,869.8 242.5,880.6 244.6,889.5 C246.7,898.4 248.6,907.9 250.8,915.0 C253.1,922.2 255.8,928.3 258.1,932.3 C260.4,936.4 261.5,938.4 264.4,939.3 C267.3,940.2 270.8,937.9 275.7,937.7 C280.6,937.4 288.5,938.3 293.8,937.7 C299.1,937.0 302.8,935.2 307.3,933.9 C311.8,932.6 315.6,930.5 320.9,930.1 C326.2,929.7 333.7,930.9 339.0,931.3 C344.3,931.7 348.1,932.6 352.6,932.6 C357.1,932.6 362.1,932.4 366.2,931.3 C370.3,930.3 373.7,928.9 377.5,926.3 C381.3,923.8 384.7,919.6 388.8,916.2 C392.9,912.9 397.9,909.0 402.4,906.3 C406.9,903.5 411.5,901.8 416.0,899.9 C420.5,898.0 425.5,896.8 429.6,894.9 C433.8,893.0 437.1,890.5 440.9,888.6 C444.7,886.7 448.2,884.6 452.2,883.6 C456.2,882.6 462.6,882.6 464.7,882.4" fill="none" stroke="#37a060" stroke-width="6" stroke-opacity="0.3" stroke-linejoin="round" stroke-linecap="round" />
<path d="M67.6,839.6 C68.6,841.2 71.1,845.3 73.9,849.3 C76.7,853.3 81.2,859.4 84.3,863.6 C87.4,867.8 90.1,872.1 92.7,874.5 C95.3,876.8 97.8,878.6 100.0,878.0 C102.2,877.4 104.0,874.3 106.2,870.9 C108.5,867.5 111.2,860.9 113.5,857.7 C115.8,854.5 117.0,852.7 119.8,851.7 C122.6,850.7 126.7,851.7 130.2,851.7 C133.7,851.7 137.6,852.3 140.7,851.7 C143.8,851.1 146.2,850.0 149.0,848.0 C151.8,846.0 154.6,843.0 157.4,839.6 C160.2,836.2 163.3,832.4 165.7,827.6 C168.1,822.9 169.9,818.5 172.0,810.9 C174.1,803.2 176.2,792.8 178.3,782.0 C180.4,771.2 182.6,756.0 184.5,746.0 C186.4,736.0 188.1,727.0 189.7,722.0 C191.3,717.0 192.3,714.4 193.9,716.0 C195.5,717.6 197.5,725.4 199.1,731.6 C200.7,737.8 201.7,744.8 203.3,753.2 C204.9,761.6 206.4,773.6 208.5,782.0 C210.6,790.4 213.2,797.6 215.8,803.6 C218.4,809.6 221.4,812.4 224.2,818.0 C227.0,823.6 230.1,830.4 232.5,837.2 C234.9,844.0 236.7,850.4 238.8,858.8 C240.9,867.2 243.0,878.5 245.1,887.7 C247.2,896.9 249.1,906.7 251.3,914.1 C253.6,921.5 256.3,927.9 258.6,932.1 C260.9,936.3 262.0,938.4 264.9,939.3 C267.8,940.2 271.3,937.9 276.2,937.6 C281.1,937.3 289.0,938.2 294.3,937.6 C299.6,936.9 303.3,935.0 307.8,933.7 C312.3,932.4 316.1,930.2 321.4,929.8 C326.7,929.3 334.2,930.6 339.5,931.0 C344.8,931.5 348.6,932.3 353.1,932.3 C357.6,932.3 362.6,932.1 366.7,931.0 C370.8,930.0 374.2,928.5 378.0,925.9 C381.8,923.2 385.2,918.9 389.3,915.4 C393.4,911.9 398.4,907.9 402.9,905.0 C407.4,902.2 412.0,900.4 416.5,898.5 C421.0,896.5 426.0,895.3 430.1,893.3 C434.2,891.4 437.6,888.7 441.4,886.8 C445.2,884.8 448.7,882.7 452.7,881.6 C456.7,880.5 463.1,880.5 465.2,880.3" fill="none" stroke="#37a060" stroke-width="4" stroke-opacity="0.25" stroke-linejoin="round" stroke-linecap="round" />
<path d="M70.6,856.2 C71.6,857.5 74.1,860.9 76.9,864.3 C79.7,867.6 84.2,872.8 87.3,876.3 C90.4,879.8 93.1,883.3 95.7,885.3 C98.3,887.3 100.8,888.8 103.0,888.3 C105.2,887.8 107.0,885.1 109.2,882.3 C111.5,879.5 114.2,873.9 116.5,871.3 C118.8,868.6 120.0,867.1 122.8,866.3 C125.6,865.4 129.7,866.3 133.2,866.3 C136.7,866.3 140.6,866.8 143.7,866.3 C146.8,865.8 149.2,864.9 152.0,863.2 C154.8,861.5 157.6,859.0 160.4,856.2 C163.2,853.4 166.3,850.2 168.7,846.2 C171.1,842.2 172.9,838.5 175.0,832.2 C177.1,825.8 179.2,817.1 181.3,808.1 C183.4,799.1 185.6,786.4 187.5,778.0 C189.4,769.7 191.1,762.2 192.7,758.0 C194.3,753.8 195.3,751.6 196.9,753.0 C198.5,754.3 200.5,760.9 202.1,766.0 C203.7,771.2 204.7,777.1 206.3,784.1 C207.9,791.1 209.4,801.1 211.5,808.1 C213.6,815.1 216.2,821.1 218.8,826.1 C221.4,831.2 224.4,833.5 227.2,838.1 C230.0,842.8 233.1,848.5 235.5,854.2 C237.9,859.9 239.7,865.2 241.8,872.2 C243.9,879.2 246.0,888.6 248.1,896.3 C250.2,904.0 252.1,912.2 254.3,918.4 C256.6,924.6 259.3,929.9 261.6,933.4 C263.9,936.9 265.0,938.7 267.9,939.4 C270.8,940.2 274.3,938.2 279.2,938.0 C284.1,937.7 292.0,938.5 297.3,938.0 C302.6,937.4 306.3,935.8 310.8,934.7 C315.3,933.6 319.1,931.8 324.4,931.5 C329.7,931.1 337.2,932.2 342.5,932.5 C347.8,932.9 351.6,933.6 356.1,933.6 C360.6,933.6 365.6,933.4 369.7,932.5 C373.8,931.6 377.2,930.4 381.0,928.2 C384.8,926.0 388.2,922.4 392.3,919.5 C396.4,916.6 401.4,913.2 405.9,910.8 C410.4,908.5 415.0,907.0 419.5,905.3 C424.0,903.7 429.0,902.7 433.1,901.0 C437.2,899.4 440.6,897.2 444.4,895.6 C448.2,893.9 451.7,892.1 455.7,891.2 C459.7,890.3 466.1,890.4 468.2,890.2" fill="none" stroke="#37a060" stroke-width="4" stroke-opacity="0.35" stroke-linejoin="round" stroke-linecap="round" />
<path d="M65.6,850.1 C66.6,851.5 69.1,855.1 71.9,858.7 C74.7,862.3 79.2,867.8 82.3,871.6 C85.4,875.4 88.1,879.1 90.7,881.3 C93.3,883.4 95.8,885.0 98.0,884.5 C100.2,884.0 102.0,881.1 104.2,878.1 C106.5,875.1 109.2,869.1 111.5,866.3 C113.8,863.4 115.0,861.8 117.8,860.9 C120.6,860.0 124.7,860.9 128.2,860.9 C131.7,860.9 135.6,861.4 138.7,860.9 C141.8,860.3 144.2,859.4 147.0,857.6 C149.8,855.8 152.6,853.1 155.4,850.1 C158.2,847.0 161.3,843.7 163.7,839.4 C166.1,835.1 167.9,831.1 170.0,824.3 C172.1,817.5 174.2,808.2 176.3,798.5 C178.4,788.8 180.6,775.2 182.5,766.2 C184.4,757.3 186.1,749.2 187.7,744.7 C189.3,740.2 190.3,737.9 191.9,739.4 C193.5,740.8 195.5,747.8 197.1,753.4 C198.7,758.9 199.7,765.2 201.3,772.7 C202.9,780.2 204.4,791.0 206.5,798.5 C208.6,806.0 211.2,812.5 213.8,817.8 C216.4,823.2 219.4,825.7 222.2,830.7 C225.0,835.7 228.1,841.8 230.5,847.9 C232.9,854.0 234.7,859.7 236.8,867.3 C238.9,874.8 241.0,884.9 243.1,893.1 C245.2,901.4 247.1,910.2 249.3,916.8 C251.6,923.5 254.3,929.1 256.6,932.9 C258.9,936.7 260.0,938.6 262.9,939.4 C265.8,940.2 269.3,938.1 274.2,937.8 C279.1,937.6 287.0,938.4 292.3,937.8 C297.6,937.3 301.3,935.5 305.8,934.3 C310.3,933.2 314.1,931.2 319.4,930.8 C324.7,930.4 332.2,931.6 337.5,932.0 C342.8,932.3 346.6,933.1 351.1,933.1 C355.6,933.1 360.6,932.9 364.7,932.0 C368.8,931.0 372.2,929.7 376.0,927.3 C379.8,925.0 383.2,921.1 387.3,918.0 C391.4,914.9 396.4,911.2 400.9,908.7 C405.4,906.2 410.0,904.6 414.5,902.8 C419.0,901.1 424.0,899.9 428.1,898.2 C432.2,896.4 435.6,894.1 439.4,892.3 C443.2,890.6 446.7,888.6 450.7,887.7 C454.7,886.7 461.1,886.7 463.2,886.5" fill="none" stroke="#37a060" stroke-width="4" stroke-opacity="0.3" stroke-linejoin="round" stroke-linecap="round" />
<path d="M70.1,849.2 C71.1,850.7 73.6,854.3 76.4,857.9 C79.2,861.6 83.7,867.1 86.8,870.9 C89.9,874.7 92.6,878.6 95.2,880.7 C97.8,882.9 100.2,884.5 102.5,883.9 C104.8,883.4 106.5,880.6 108.7,877.5 C111.0,874.4 113.7,868.4 116.0,865.5 C118.3,862.6 119.5,861.0 122.3,860.1 C125.1,859.2 129.2,860.1 132.7,860.1 C136.2,860.1 140.1,860.7 143.2,860.1 C146.3,859.6 148.7,858.6 151.5,856.8 C154.3,855.0 157.1,852.3 159.9,849.2 C162.7,846.1 165.8,842.7 168.2,838.4 C170.6,834.1 172.4,830.1 174.5,823.2 C176.6,816.3 178.7,806.9 180.8,797.1 C182.9,787.3 185.1,773.6 187.0,764.6 C188.9,755.5 190.6,747.3 192.2,742.8 C193.8,738.3 194.8,736.0 196.4,737.4 C198.0,738.9 200.0,745.9 201.6,751.6 C203.2,757.2 204.2,763.5 205.8,771.1 C207.4,778.7 208.9,789.5 211.0,797.1 C213.1,804.7 215.7,811.2 218.3,816.7 C220.9,822.1 223.9,824.6 226.7,829.7 C229.5,834.7 232.6,840.9 235.0,847.0 C237.4,853.2 239.2,859.0 241.3,866.6 C243.4,874.2 245.5,884.3 247.6,892.7 C249.7,901.0 251.6,909.9 253.8,916.6 C256.1,923.3 258.8,929.0 261.1,932.8 C263.4,936.6 264.5,938.5 267.4,939.4 C270.3,940.2 273.8,938.1 278.7,937.8 C283.6,937.6 291.5,938.4 296.8,937.8 C302.1,937.2 305.8,935.5 310.3,934.3 C314.8,933.1 318.6,931.1 323.9,930.7 C329.2,930.3 336.7,931.5 342.0,931.9 C347.3,932.3 351.1,933.0 355.6,933.0 C360.1,933.0 365.1,932.9 369.2,931.9 C373.3,930.9 376.7,929.6 380.5,927.2 C384.3,924.9 387.7,920.9 391.8,917.7 C395.9,914.6 400.9,910.9 405.4,908.4 C409.9,905.8 414.5,904.2 419.0,902.5 C423.5,900.7 428.5,899.5 432.6,897.8 C436.8,896.0 440.1,893.6 443.9,891.8 C447.7,890.1 451.2,888.1 455.2,887.2 C459.2,886.2 465.6,886.2 467.7,886.0" fill="none" stroke="#37a060" stroke-width="3" stroke-opacity="0.3" stroke-linejoin="round" stroke-linecap="round" />
<path d="M68.6,852.7 C69.6,854.1 72.1,857.6 74.9,861.1 C77.7,864.6 82.2,870.0 85.3,873.6 C88.4,877.2 91.1,880.9 93.7,883.0 C96.3,885.1 98.8,886.6 101.0,886.1 C103.2,885.6 105.0,882.9 107.2,879.9 C109.5,876.9 112.2,871.2 114.5,868.4 C116.8,865.6 118.0,864.1 120.8,863.2 C123.6,862.3 127.7,863.2 131.2,863.2 C134.7,863.2 138.6,863.7 141.7,863.2 C144.8,862.7 147.2,861.8 150.0,860.0 C152.8,858.2 155.6,855.7 158.4,852.7 C161.2,849.8 164.3,846.5 166.7,842.3 C169.1,838.1 170.9,834.3 173.0,827.7 C175.1,821.1 177.2,812.0 179.3,802.6 C181.4,793.2 183.6,780.0 185.5,771.3 C187.4,762.6 189.1,754.8 190.7,750.4 C192.3,746.0 193.3,743.8 194.9,745.2 C196.5,746.6 198.5,753.4 200.1,758.8 C201.7,764.2 202.7,770.3 204.3,777.6 C205.9,784.9 207.4,795.3 209.5,802.6 C211.6,809.9 214.2,816.2 216.8,821.4 C219.4,826.6 222.4,829.0 225.2,833.9 C228.0,838.8 231.1,844.7 233.5,850.6 C235.9,856.5 237.7,862.1 239.8,869.4 C241.9,876.7 244.0,886.5 246.1,894.5 C248.2,902.5 250.1,911.1 252.3,917.5 C254.6,923.9 257.3,929.5 259.6,933.1 C261.9,936.8 263.0,938.6 265.9,939.4 C268.8,940.2 272.3,938.1 277.2,937.9 C282.1,937.6 290.0,938.5 295.3,937.9 C300.6,937.3 304.3,935.6 308.8,934.5 C313.3,933.4 317.1,931.5 322.4,931.1 C327.7,930.7 335.2,931.8 340.5,932.2 C345.8,932.6 349.6,933.3 354.1,933.3 C358.6,933.3 363.6,933.1 367.7,932.2 C371.8,931.3 375.2,930.0 379.0,927.7 C382.8,925.4 386.2,921.6 390.3,918.6 C394.4,915.6 399.4,912.1 403.9,909.6 C408.4,907.1 413.0,905.6 417.5,903.9 C422.0,902.2 427.0,901.1 431.1,899.4 C435.2,897.7 438.6,895.4 442.4,893.7 C446.2,892.0 449.7,890.1 453.7,889.2 C457.7,888.3 464.1,888.3 466.2,888.1" fill="none" stroke="#17793a" stroke-width="2.4" stroke-opacity="1" stroke-linejoin="round" stroke-linecap="round" />
<path d="M68.6,846.5 C70.0,847.5 73.9,850.6 77.0,852.7 C80.1,854.8 83.9,857.1 87.4,859.0 C90.9,860.9 94.3,863.2 97.8,864.2 C101.3,865.2 105.2,865.1 108.3,865.3 C111.4,865.5 113.8,864.8 116.6,865.3 C119.4,865.8 122.2,866.7 125.0,868.4 C127.8,870.1 130.5,873.3 133.3,875.7 C136.1,878.1 138.7,881.1 141.7,883.0 C144.7,884.9 148.0,887.2 151.1,887.2 C154.2,887.2 157.2,885.3 160.5,883.0 C163.8,880.7 167.4,877.6 170.9,873.6 C174.4,869.6 178.2,863.9 181.3,859.0 C184.4,854.1 186.9,848.2 189.7,844.4 C192.5,840.6 195.7,836.4 198.1,836.0 C200.5,835.6 201.9,839.2 204.3,842.3 C206.7,845.4 209.9,851.5 212.7,854.8 C215.5,858.1 218.2,861.0 221.0,862.1 C223.8,863.2 226.6,862.5 229.4,861.1 C232.2,859.7 234.9,856.2 237.7,853.8 C240.5,851.4 243.7,847.4 246.1,846.5 C248.5,845.6 250.6,845.5 252.3,848.6 C254.0,851.7 255.1,857.3 256.5,865.3 C257.9,873.3 259.3,886.2 260.7,896.6 C262.1,907.0 263.8,921.0 264.9,927.9 C265.9,934.8 266.1,936.1 267.0,938.0 C267.9,939.9 268.7,939.0 270.4,939.0 C272.1,939.0 274.6,937.9 277.2,937.9 C279.8,937.9 283.2,938.8 286.2,939.0 C289.2,939.2 292.9,939.2 295.3,939.0 C297.8,938.8 299.4,941.7 300.9,937.9 C302.4,934.1 303.2,927.4 304.3,916.3 C305.4,905.2 306.6,890.0 307.7,871.1 C308.8,852.2 310.0,822.1 311.1,803.2 C312.2,784.3 313.4,770.0 314.5,757.9 C315.6,745.8 316.4,731.5 317.5,730.7 C318.6,730.0 319.7,744.3 321.3,753.4 C322.9,762.5 325.1,775.3 327.0,785.1 C328.9,794.9 330.4,804.7 332.6,812.2 C334.9,819.7 338.1,824.3 340.5,830.3 C342.9,836.3 345.0,841.6 347.3,848.4 C349.6,855.2 351.7,864.3 354.1,871.1 C356.6,877.9 359.2,884.1 362.0,889.2 C364.8,894.3 368.3,900.1 371.1,901.6 C373.9,903.1 376.2,901.0 379.0,898.2 C381.8,895.4 385.5,887.2 388.1,884.7 C390.8,882.2 392.3,882.8 394.9,883.5 C397.5,884.2 401.3,888.1 403.9,889.2 C406.5,890.3 408.4,891.0 410.7,890.3 C413.0,889.5 415.2,888.3 417.5,884.7 C419.8,881.1 422.0,874.5 424.3,868.8 C426.6,863.1 428.8,856.4 431.1,850.7 C433.4,845.1 435.6,838.7 437.9,834.9 C440.2,831.1 442.6,828.5 444.7,828.1 C446.8,827.7 448.4,828.5 450.3,832.6 C452.2,836.8 454.1,847.0 456.0,853.0 C457.9,859.0 459.9,864.5 461.6,868.8 C463.3,873.1 465.4,877.3 466.2,879.0" fill="none" stroke="#e6403f" stroke-width="10" stroke-opacity="0.68" stroke-linejoin="round" stroke-linecap="round" />
<path d="M67.1,841.8 C68.5,842.9 72.4,846.1 75.5,848.3 C78.6,850.5 82.4,852.9 85.9,855.0 C89.4,857.0 92.8,859.3 96.3,860.4 C99.8,861.5 103.7,861.4 106.8,861.6 C109.9,861.8 112.3,861.0 115.1,861.6 C117.9,862.1 120.7,863.0 123.5,864.8 C126.3,866.6 129.0,869.9 131.8,872.5 C134.6,875.0 137.2,878.1 140.2,880.1 C143.2,882.2 146.5,884.6 149.6,884.6 C152.7,884.6 155.7,882.5 159.0,880.1 C162.3,877.8 165.9,874.5 169.4,870.3 C172.9,866.1 176.7,860.1 179.8,855.0 C182.9,849.8 185.4,843.6 188.2,839.6 C191.0,835.6 194.2,831.2 196.6,830.8 C199.0,830.4 200.4,834.1 202.8,837.4 C205.2,840.7 208.4,847.1 211.2,850.5 C214.0,854.0 216.7,857.1 219.5,858.2 C222.3,859.3 225.1,858.6 227.9,857.2 C230.7,855.7 233.4,852.0 236.2,849.5 C239.0,846.9 242.2,842.7 244.6,841.8 C247.0,840.9 249.1,840.7 250.8,844.0 C252.5,847.3 253.6,853.2 255.0,861.6 C256.4,870.0 257.8,883.5 259.2,894.4 C260.6,905.4 262.3,920.0 263.4,927.3 C264.4,934.5 264.6,936.0 265.5,937.9 C266.4,939.8 267.2,939.0 268.9,939.0 C270.6,938.9 273.1,937.8 275.7,937.8 C278.3,937.8 281.7,938.8 284.7,939.0 C287.7,939.1 291.4,939.1 293.8,939.0 C296.2,938.8 297.9,941.8 299.4,937.8 C300.9,933.8 301.7,926.8 302.8,915.1 C303.9,903.4 305.1,887.4 306.2,867.7 C307.3,847.9 308.5,816.2 309.6,796.4 C310.7,776.5 311.9,761.5 313.0,748.8 C314.1,736.1 314.9,721.0 316.0,720.2 C317.1,719.4 318.2,734.5 319.8,744.1 C321.4,753.6 323.6,767.1 325.5,777.4 C327.4,787.6 328.9,797.9 331.1,805.8 C333.4,813.7 336.6,818.5 339.0,824.8 C341.4,831.1 343.5,836.7 345.8,843.8 C348.1,851.0 350.2,860.5 352.6,867.7 C355.1,874.8 357.7,881.3 360.5,886.7 C363.3,892.0 366.8,898.1 369.6,899.7 C372.4,901.3 374.7,899.1 377.5,896.1 C380.3,893.2 384.0,884.5 386.6,881.9 C389.2,879.4 390.8,879.9 393.4,880.7 C396.0,881.5 399.8,885.5 402.4,886.7 C405.0,887.9 406.9,888.6 409.2,887.8 C411.5,887.0 413.7,885.7 416.0,881.9 C418.3,878.2 420.5,871.2 422.8,865.2 C425.1,859.3 427.3,852.2 429.6,846.2 C431.9,840.3 434.1,833.6 436.4,829.6 C438.7,825.7 441.1,822.9 443.2,822.5 C445.3,822.1 446.9,822.9 448.8,827.2 C450.7,831.6 452.6,842.3 454.5,848.6 C456.4,855.0 458.4,860.7 460.1,865.2 C461.8,869.8 463.9,874.2 464.7,876.0" fill="none" stroke="#e6403f" stroke-width="4" stroke-opacity="0.35" stroke-linejoin="round" stroke-linecap="round" />
<path d="M70.1,850.2 C71.5,851.2 75.4,854.2 78.5,856.2 C81.6,858.2 85.4,860.4 88.9,862.2 C92.4,864.1 95.8,866.2 99.3,867.2 C102.8,868.2 106.7,868.1 109.8,868.3 C112.9,868.5 115.3,867.8 118.1,868.3 C120.9,868.8 123.7,869.6 126.5,871.3 C129.3,872.9 132.0,875.9 134.8,878.3 C137.6,880.6 140.2,883.4 143.2,885.3 C146.2,887.1 149.5,889.3 152.6,889.3 C155.7,889.3 158.7,887.5 162.0,885.3 C165.3,883.1 168.9,880.1 172.4,876.3 C175.9,872.4 179.7,866.9 182.8,862.2 C185.9,857.6 188.4,851.9 191.2,848.2 C194.0,844.5 197.2,840.5 199.6,840.2 C202.0,839.8 203.4,843.2 205.8,846.2 C208.2,849.2 211.4,855.0 214.2,858.2 C217.0,861.4 219.7,864.2 222.5,865.2 C225.3,866.2 228.1,865.6 230.9,864.3 C233.7,862.9 236.4,859.6 239.2,857.2 C242.0,854.9 245.2,851.1 247.6,850.2 C250.0,849.4 252.1,849.2 253.8,852.3 C255.5,855.3 256.6,860.6 258.0,868.3 C259.4,876.0 260.8,888.3 262.2,898.3 C263.6,908.4 265.3,921.8 266.4,928.4 C267.4,935.0 267.6,936.3 268.5,938.1 C269.4,939.9 270.2,939.1 271.9,939.0 C273.6,939.0 276.1,938.0 278.7,938.0 C281.3,938.0 284.7,938.9 287.7,939.0 C290.7,939.2 294.4,939.2 296.8,939.0 C299.2,938.9 300.9,941.6 302.4,938.0 C303.9,934.4 304.7,927.9 305.8,917.2 C306.9,906.6 308.1,892.0 309.2,873.9 C310.3,855.8 311.5,826.8 312.6,808.7 C313.7,790.6 314.9,776.8 316.0,765.2 C317.1,753.6 317.9,739.8 319.0,739.1 C320.1,738.4 321.2,752.2 322.8,760.9 C324.4,769.6 326.6,781.9 328.5,791.3 C330.4,800.7 331.9,810.1 334.1,817.3 C336.4,824.5 339.6,828.9 342.0,834.7 C344.4,840.5 346.5,845.5 348.8,852.1 C351.1,858.6 353.2,867.3 355.6,873.9 C358.1,880.4 360.7,886.4 363.5,891.2 C366.3,896.1 369.8,901.7 372.6,903.1 C375.4,904.6 377.7,902.6 380.5,899.9 C383.3,897.2 387.0,889.3 389.6,886.9 C392.2,884.6 393.8,885.0 396.4,885.8 C399.0,886.5 402.8,890.1 405.4,891.2 C408.0,892.3 409.9,893.0 412.2,892.3 C414.5,891.6 416.7,890.4 419.0,886.9 C421.3,883.5 423.5,877.1 425.8,871.6 C428.1,866.2 430.3,859.7 432.6,854.3 C434.9,848.8 437.1,842.7 439.4,839.1 C441.7,835.5 444.1,832.9 446.2,832.6 C448.3,832.2 449.9,832.9 451.8,836.9 C453.7,840.9 455.6,850.7 457.5,856.5 C459.4,862.3 461.4,867.5 463.1,871.6 C464.8,875.8 466.9,879.8 467.7,881.4" fill="none" stroke="#e6403f" stroke-width="4" stroke-opacity="0.35" stroke-linejoin="round" stroke-linecap="round" />
<path d="M66.6,838.1 C68.0,839.2 71.9,842.6 75.0,844.8 C78.1,847.1 81.9,849.6 85.4,851.7 C88.9,853.8 92.3,856.2 95.8,857.4 C99.3,858.5 103.2,858.4 106.3,858.6 C109.4,858.8 111.8,858.0 114.6,858.6 C117.4,859.1 120.2,860.1 123.0,862.0 C125.8,863.8 128.5,867.3 131.3,869.9 C134.1,872.6 136.7,875.8 139.7,877.9 C142.7,880.0 146.0,882.4 149.1,882.4 C152.2,882.4 155.2,880.3 158.5,877.9 C161.8,875.4 165.4,872.0 168.9,867.6 C172.4,863.3 176.2,857.0 179.3,851.7 C182.4,846.4 184.9,840.0 187.7,835.8 C190.5,831.6 193.7,827.0 196.1,826.6 C198.5,826.3 199.9,830.1 202.3,833.5 C204.7,836.9 207.9,843.5 210.7,847.1 C213.5,850.7 216.2,853.9 219.0,855.1 C221.8,856.2 224.6,855.5 227.4,854.0 C230.2,852.5 232.9,848.7 235.7,846.0 C238.5,843.4 241.7,839.0 244.1,838.1 C246.5,837.1 248.6,837.0 250.3,840.4 C252.0,843.8 253.1,849.9 254.5,858.6 C255.9,867.3 257.3,881.3 258.7,892.7 C260.1,904.1 261.8,919.3 262.9,926.8 C263.9,934.3 264.1,935.8 265.0,937.8 C265.9,939.8 266.7,938.9 268.4,938.9 C270.1,938.9 272.6,937.7 275.2,937.7 C277.8,937.7 281.2,938.7 284.2,938.9 C287.2,939.1 290.9,939.1 293.3,938.9 C295.8,938.7 297.4,941.8 298.9,937.7 C300.4,933.6 301.2,926.3 302.3,914.2 C303.4,902.0 304.6,885.4 305.7,864.9 C306.8,844.4 308.0,811.5 309.1,790.9 C310.2,770.3 311.4,754.7 312.5,741.5 C313.6,728.3 314.4,712.7 315.5,711.9 C316.6,711.0 317.7,726.7 319.3,736.6 C320.9,746.5 323.1,760.5 325.0,771.2 C326.9,781.8 328.4,792.5 330.6,800.7 C332.9,808.9 336.1,813.9 338.5,820.4 C340.9,827.0 343.0,832.7 345.3,840.2 C347.6,847.6 349.7,857.5 352.1,864.9 C354.6,872.3 357.2,879.1 360.0,884.6 C362.8,890.2 366.3,896.5 369.1,898.1 C371.9,899.8 374.2,897.5 377.0,894.4 C379.8,891.4 383.5,882.4 386.1,879.7 C388.8,877.1 390.3,877.6 392.9,878.4 C395.5,879.2 399.3,883.4 401.9,884.6 C404.5,885.9 406.4,886.6 408.7,885.8 C411.0,885.0 413.2,883.6 415.5,879.7 C417.8,875.8 420.0,868.6 422.3,862.4 C424.6,856.2 426.8,848.8 429.1,842.7 C431.4,836.5 433.6,829.5 435.9,825.4 C438.2,821.3 440.6,818.4 442.7,818.0 C444.8,817.6 446.4,818.4 448.3,822.9 C450.2,827.5 452.1,838.6 454.0,845.2 C455.9,851.7 457.9,857.7 459.6,862.4 C461.3,867.1 463.4,871.7 464.2,873.5" fill="none" stroke="#e6403f" stroke-width="3" stroke-opacity="0.25" stroke-linejoin="round" stroke-linecap="round" />
<path d="M70.6,844.6 C72.0,845.7 75.9,848.8 79.0,851.0 C82.1,853.1 85.9,855.4 89.4,857.4 C92.9,859.3 96.3,861.6 99.8,862.7 C103.3,863.8 107.2,863.6 110.3,863.8 C113.4,864.0 115.8,863.3 118.6,863.8 C121.4,864.3 124.2,865.2 127.0,867.0 C129.8,868.7 132.5,871.9 135.3,874.4 C138.1,876.9 140.7,879.9 143.7,881.9 C146.7,883.8 150.0,886.1 153.1,886.1 C156.2,886.1 159.2,884.2 162.5,881.9 C165.8,879.5 169.4,876.4 172.9,872.3 C176.4,868.2 180.2,862.3 183.3,857.4 C186.4,852.4 188.9,846.4 191.7,842.5 C194.5,838.6 197.7,834.3 200.1,833.9 C202.5,833.6 203.9,837.1 206.3,840.3 C208.7,843.5 211.9,849.7 214.7,853.1 C217.5,856.5 220.2,859.5 223.0,860.5 C225.8,861.6 228.6,860.9 231.4,859.5 C234.2,858.1 236.9,854.6 239.7,852.1 C242.5,849.6 245.7,845.5 248.1,844.6 C250.5,843.7 252.6,843.6 254.3,846.8 C256.0,850.0 257.1,855.6 258.5,863.8 C259.9,872.0 261.3,885.1 262.7,895.7 C264.1,906.4 265.8,920.6 266.9,927.7 C267.9,934.7 268.1,936.1 269.0,938.0 C269.9,939.8 270.7,939.0 272.4,939.0 C274.1,939.0 276.6,937.9 279.2,937.9 C281.8,937.9 285.2,938.8 288.2,939.0 C291.2,939.2 294.9,939.2 297.3,939.0 C299.8,938.8 301.4,941.7 302.9,937.9 C304.4,934.0 305.2,927.2 306.3,915.8 C307.4,904.5 308.6,888.9 309.7,869.7 C310.8,850.5 312.0,819.7 313.1,800.5 C314.2,781.2 315.4,766.6 316.5,754.3 C317.6,741.9 318.4,727.3 319.5,726.5 C320.6,725.7 321.7,740.4 323.3,749.7 C324.9,758.9 327.1,772.0 329.0,782.0 C330.9,792.0 332.4,802.0 334.6,809.6 C336.9,817.3 340.1,822.0 342.5,828.1 C344.9,834.3 347.0,839.6 349.3,846.6 C351.6,853.5 353.7,862.8 356.1,869.7 C358.6,876.7 361.2,883.0 364.0,888.2 C366.8,893.4 370.3,899.3 373.1,900.8 C375.9,902.4 378.2,900.2 381.0,897.4 C383.8,894.5 387.5,886.1 390.1,883.6 C392.8,881.1 394.3,881.6 396.9,882.4 C399.5,883.1 403.3,887.0 405.9,888.2 C408.5,889.3 410.4,890.1 412.7,889.3 C415.0,888.5 417.2,887.2 419.5,883.6 C421.8,879.9 424.0,873.2 426.3,867.4 C428.6,861.6 430.8,854.7 433.1,848.9 C435.4,843.2 437.6,836.6 439.9,832.8 C442.2,829.0 444.6,826.3 446.7,825.9 C448.8,825.5 450.4,826.2 452.3,830.5 C454.2,834.7 456.1,845.1 458.0,851.3 C459.9,857.4 461.9,863.0 463.6,867.4 C465.3,871.8 467.4,876.0 468.2,877.8" fill="none" stroke="#e6403f" stroke-width="3" stroke-opacity="0.3" stroke-linejoin="round" stroke-linecap="round" />
<path d="M69.1,836.2 C70.5,837.4 74.4,840.8 77.5,843.1 C80.6,845.4 84.4,848.0 87.9,850.1 C91.4,852.2 94.8,854.7 98.3,855.9 C101.8,857.0 105.7,856.9 108.8,857.1 C111.9,857.3 114.3,856.5 117.1,857.1 C119.9,857.7 122.7,858.6 125.5,860.5 C128.3,862.4 131.0,865.9 133.8,868.6 C136.6,871.3 139.2,874.6 142.2,876.7 C145.2,878.9 148.5,881.4 151.6,881.4 C154.7,881.4 157.7,879.2 161.0,876.7 C164.3,874.2 167.9,870.7 171.4,866.3 C174.9,861.9 178.7,855.5 181.8,850.1 C184.9,844.7 187.4,838.1 190.2,833.9 C193.0,829.6 196.2,824.9 198.6,824.6 C201.0,824.2 202.4,828.1 204.8,831.6 C207.2,835.0 210.4,841.8 213.2,845.4 C216.0,849.1 218.7,852.4 221.5,853.5 C224.3,854.7 227.1,854.0 229.9,852.4 C232.7,850.9 235.4,847.0 238.2,844.3 C241.0,841.6 244.2,837.2 246.6,836.2 C249.0,835.3 251.1,835.1 252.8,838.5 C254.5,842.0 255.6,848.2 257.0,857.1 C258.4,866.0 259.8,880.2 261.2,891.8 C262.6,903.4 264.3,918.9 265.4,926.6 C266.4,934.2 266.6,935.7 267.5,937.8 C268.4,939.8 269.2,938.9 270.9,938.9 C272.6,938.9 275.1,937.7 277.7,937.7 C280.3,937.7 283.7,938.7 286.7,938.9 C289.7,939.1 293.4,939.1 295.8,938.9 C298.2,938.7 299.9,941.9 301.4,937.7 C302.9,933.5 303.7,926.1 304.8,913.7 C305.9,901.3 307.1,884.4 308.2,863.5 C309.3,842.6 310.5,809.1 311.6,788.2 C312.7,767.2 313.9,751.3 315.0,737.9 C316.1,724.5 316.9,708.5 318.0,707.7 C319.1,706.8 320.2,722.8 321.8,732.9 C323.4,742.9 325.6,757.2 327.5,768.1 C329.4,778.9 330.9,789.8 333.1,798.1 C335.4,806.5 338.6,811.5 341.0,818.2 C343.4,824.9 345.5,830.8 347.8,838.3 C350.1,845.9 352.2,856.0 354.6,863.5 C357.1,871.1 359.7,878.0 362.5,883.6 C365.3,889.3 368.8,895.7 371.6,897.4 C374.4,899.0 376.7,896.7 379.5,893.6 C382.3,890.5 386.0,881.3 388.6,878.6 C391.2,875.9 392.8,876.5 395.4,877.3 C398.0,878.1 401.8,882.4 404.4,883.6 C407.0,884.9 408.9,885.7 411.2,884.8 C413.5,884.0 415.7,882.6 418.0,878.6 C420.3,874.6 422.5,867.3 424.8,861.0 C427.1,854.7 429.3,847.1 431.6,840.9 C433.9,834.6 436.1,827.5 438.4,823.3 C440.7,819.2 443.1,816.2 445.2,815.8 C447.3,815.4 448.9,816.2 450.8,820.8 C452.7,825.4 454.6,836.7 456.5,843.4 C458.4,850.1 460.4,856.2 462.1,861.0 C463.8,865.8 465.9,870.4 466.7,872.3" fill="none" stroke="#e6403f" stroke-width="6" stroke-opacity="0.3" stroke-linejoin="round" stroke-linecap="round" />
<path d="M68.6,833.9 C70.0,835.1 73.9,838.5 77.0,840.9 C80.1,843.3 83.9,845.9 87.4,848.1 C90.9,850.2 94.3,852.8 97.8,854.0 C101.3,855.2 105.2,855.0 108.3,855.2 C111.4,855.4 113.8,854.6 116.6,855.2 C119.4,855.8 122.2,856.8 125.0,858.7 C127.8,860.7 130.5,864.3 133.3,867.0 C136.1,869.8 138.7,873.1 141.7,875.3 C144.7,877.5 148.0,880.1 151.1,880.1 C154.2,880.1 157.2,877.9 160.5,875.3 C163.8,872.7 167.4,869.2 170.9,864.6 C174.4,860.1 178.2,853.6 181.3,848.1 C184.4,842.5 186.9,835.8 189.7,831.5 C192.5,827.1 195.7,822.4 198.1,822.0 C200.5,821.6 201.9,825.6 204.3,829.1 C206.7,832.7 209.9,839.6 212.7,843.3 C215.5,847.0 218.2,850.4 221.0,851.6 C223.8,852.8 226.6,852.0 229.4,850.4 C232.2,848.9 234.9,844.9 237.7,842.2 C240.5,839.4 243.7,834.9 246.1,833.9 C248.5,832.9 250.6,832.7 252.3,836.3 C254.0,839.8 255.1,846.1 256.5,855.2 C257.9,864.3 259.3,878.9 260.7,890.7 C262.1,902.6 263.8,918.4 264.9,926.3 C265.9,934.1 266.1,935.6 267.0,937.7 C267.9,939.8 268.7,938.9 270.4,938.9 C272.1,938.8 274.6,937.6 277.2,937.6 C279.8,937.6 283.2,938.7 286.2,938.9 C289.2,939.1 292.9,939.1 295.3,938.9 C297.8,938.7 299.4,941.9 300.9,937.6 C302.4,933.3 303.2,925.7 304.3,913.1 C305.4,900.5 306.6,883.2 307.7,861.8 C308.8,840.4 310.0,806.1 311.1,784.7 C312.2,763.3 313.4,747.0 314.5,733.3 C315.6,719.6 316.4,703.3 317.5,702.4 C318.6,701.6 319.7,717.9 321.3,728.2 C322.9,738.5 325.1,753.1 327.0,764.2 C328.9,775.3 330.4,786.4 332.6,794.9 C334.9,803.5 338.1,808.6 340.5,815.5 C342.9,822.3 345.0,828.3 347.3,836.0 C349.6,843.8 351.7,854.1 354.1,861.8 C356.6,869.5 359.2,876.6 362.0,882.3 C364.8,888.1 368.3,894.7 371.1,896.4 C373.9,898.1 376.2,895.8 379.0,892.6 C381.8,889.4 385.5,880.0 388.1,877.2 C390.8,874.5 392.3,875.0 394.9,875.9 C397.5,876.7 401.3,881.1 403.9,882.3 C406.5,883.6 408.4,884.4 410.7,883.6 C413.0,882.7 415.2,881.3 417.5,877.2 C419.8,873.2 422.0,865.6 424.3,859.2 C426.6,852.8 428.8,845.1 431.1,838.6 C433.4,832.2 435.6,825.0 437.9,820.7 C440.2,816.4 442.6,813.4 444.7,813.0 C446.8,812.6 448.4,813.4 450.3,818.1 C452.2,822.8 454.1,834.4 456.0,841.3 C457.9,848.1 459.9,854.3 461.6,859.2 C463.3,864.1 465.4,868.8 466.2,870.8" fill="none" stroke="#e6403f" stroke-width="4" stroke-opacity="0.3" stroke-linejoin="round" stroke-linecap="round" />
<path d="M68.6,846.5 C70.0,847.5 73.9,850.6 77.0,852.7 C80.1,854.8 83.9,857.1 87.4,859.0 C90.9,860.9 94.3,863.2 97.8,864.2 C101.3,865.2 105.2,865.1 108.3,865.3 C111.4,865.5 113.8,864.8 116.6,865.3 C119.4,865.8 122.2,866.7 125.0,868.4 C127.8,870.1 130.5,873.3 133.3,875.7 C136.1,878.1 138.7,881.1 141.7,883.0 C144.7,884.9 148.0,887.2 151.1,887.2 C154.2,887.2 157.2,885.3 160.5,883.0 C163.8,880.7 167.4,877.6 170.9,873.6 C174.4,869.6 178.2,863.9 181.3,859.0 C184.4,854.1 186.9,848.2 189.7,844.4 C192.5,840.6 195.7,836.4 198.1,836.0 C200.5,835.6 201.9,839.2 204.3,842.3 C206.7,845.4 209.9,851.5 212.7,854.8 C215.5,858.1 218.2,861.0 221.0,862.1 C223.8,863.2 226.6,862.5 229.4,861.1 C232.2,859.7 234.9,856.2 237.7,853.8 C240.5,851.4 243.7,847.4 246.1,846.5 C248.5,845.6 250.6,845.5 252.3,848.6 C254.0,851.7 255.1,857.3 256.5,865.3 C257.9,873.3 259.3,886.2 260.7,896.6 C262.1,907.0 263.8,921.0 264.9,927.9 C265.9,934.8 266.1,936.1 267.0,938.0 C267.9,939.9 268.7,939.0 270.4,939.0 C272.1,939.0 274.6,937.9 277.2,937.9 C279.8,937.9 283.2,938.8 286.2,939.0 C289.2,939.2 292.9,939.2 295.3,939.0 C297.8,938.8 299.4,941.7 300.9,937.9 C302.4,934.1 303.2,927.4 304.3,916.3 C305.4,905.2 306.6,890.0 307.7,871.1 C308.8,852.2 310.0,822.1 311.1,803.2 C312.2,784.3 313.4,770.0 314.5,757.9 C315.6,745.8 316.4,731.5 317.5,730.7 C318.6,730.0 319.7,744.3 321.3,753.4 C322.9,762.5 325.1,775.3 327.0,785.1 C328.9,794.9 330.4,804.7 332.6,812.2 C334.9,819.7 338.1,824.3 340.5,830.3 C342.9,836.3 345.0,841.6 347.3,848.4 C349.6,855.2 351.7,864.3 354.1,871.1 C356.6,877.9 359.2,884.1 362.0,889.2 C364.8,894.3 368.3,900.1 371.1,901.6 C373.9,903.1 376.2,901.0 379.0,898.2 C381.8,895.4 385.5,887.2 388.1,884.7 C390.8,882.2 392.3,882.8 394.9,883.5 C397.5,884.2 401.3,888.1 403.9,889.2 C406.5,890.3 408.4,891.0 410.7,890.3 C413.0,889.5 415.2,888.3 417.5,884.7 C419.8,881.1 422.0,874.5 424.3,868.8 C426.6,863.1 428.8,856.4 431.1,850.7 C433.4,845.1 435.6,838.7 437.9,834.9 C440.2,831.1 442.6,828.5 444.7,828.1 C446.8,827.7 448.4,828.5 450.3,832.6 C452.2,836.8 454.1,847.0 456.0,853.0 C457.9,859.0 459.9,864.5 461.6,868.8 C463.3,873.1 465.4,877.3 466.2,879.0" fill="none" stroke="#8c1a1f" stroke-width="2.4" stroke-opacity="1" stroke-linejoin="round" stroke-linecap="round" />
<rect x="313.15" y="530.30" width="3.5" height="11" fill="#808285"/>
<polygon points="305.05,537.50 314.90,540.40 324.75,537.50 314.90,555.10" fill="#808285"/>
<rect x="243.95" y="656.70" width="3.5" height="11" fill="#808285"/>
<polygon points="235.85,663.90 245.70,666.80 255.55,663.90 245.70,681.50" fill="#808285"/>
<rect x="193.35" y="689.70" width="3.5" height="11" fill="#00a651"/>
<polygon points="185.25,696.90 195.10,699.80 204.95,696.90 195.10,714.50" fill="#00a651"/>
<rect x="314.05" y="677.70" width="3.5" height="11" fill="#be1e2d"/>
<polygon points="305.95,684.90 315.80,687.80 325.65,684.90 315.80,702.50" fill="#be1e2d"/>
<rect x="246.45" y="799.20" width="3.5" height="11" fill="#be1e2d"/>
<polygon points="238.35,806.40 248.20,809.30 258.05,806.40 248.20,824.00" fill="#be1e2d"/>
<path d="M568.6,642.0 C569.9,641.8 573.6,639.2 576.5,640.9 C579.4,642.6 582.8,647.0 585.7,652.3 C588.6,657.6 591.0,666.0 593.7,672.9 C596.4,679.8 598.9,687.5 601.7,693.4 C604.6,699.3 608.1,706.3 610.8,708.2 C613.4,710.1 614.9,708.4 617.6,704.8 C620.3,701.2 623.4,693.5 626.8,686.6 C630.2,679.8 634.8,669.4 638.2,663.7 C641.6,658.0 644.2,655.7 647.3,652.3 C650.3,648.9 653.5,644.7 656.5,643.2 C659.5,641.7 662.6,642.1 665.6,643.2 C668.6,644.3 672.0,647.0 674.7,650.0 C677.4,653.0 679.3,657.2 681.6,661.4 C683.9,665.6 686.1,671.9 688.4,675.1 C690.7,678.3 693.0,680.4 695.3,680.8 C697.6,681.2 699.8,682.1 702.1,677.4 C704.4,672.6 706.7,661.8 709.0,652.3 C711.3,642.8 713.7,629.8 715.8,620.3 C717.9,610.8 719.9,600.0 721.5,595.2 C723.1,590.5 724.1,591.4 725.4,591.8 C726.7,592.2 728.0,592.0 729.5,597.5 C731.0,603.0 732.6,616.9 734.1,624.9 C735.6,632.9 736.7,638.3 738.6,645.5 C740.5,652.7 743.6,660.3 745.5,668.3 C747.4,676.3 748.6,685.0 750.1,693.4 C751.6,701.8 752.9,712.0 754.6,718.5 C756.3,725.0 758.0,729.7 760.3,732.2 C762.6,734.7 764.3,733.2 768.3,733.4 C772.3,733.6 779.2,733.6 784.3,733.4 C789.4,733.2 793.4,732.6 798.7,732.4 C804.0,732.2 812.6,734.8 816.3,732.4 C820.0,730.0 819.6,725.3 821.0,718.3 C822.4,711.3 823.3,698.4 824.5,690.2 C825.7,682.0 826.6,675.0 828.0,669.1 C829.4,663.2 831.1,655.9 832.7,655.1 C834.3,654.3 835.8,661.3 837.4,664.4 C839.0,667.5 840.7,669.9 842.1,673.8 C843.5,677.7 844.2,683.6 845.6,687.9 C847.0,692.2 848.7,695.3 850.3,699.6 C851.9,703.9 853.2,709.1 855.0,713.6 C856.8,718.1 858.8,724.1 860.8,726.5 C862.8,728.9 864.6,729.3 866.7,727.7 C868.9,726.1 871.4,719.2 873.7,717.1 C876.0,715.0 879.2,716.5 880.7,714.8 C882.2,713.0 881.4,708.8 883.0,706.6 C884.6,704.4 887.0,701.6 890.1,701.4 C893.2,701.2 898.9,704.7 901.8,705.4 C904.7,706.1 905.9,706.9 907.6,705.4 C909.4,703.9 910.3,697.5 912.3,696.1 C914.2,694.7 916.8,694.9 919.3,697.2 C921.8,699.5 925.0,707.6 927.5,710.1 C930.0,712.6 932.2,710.8 934.6,712.4 C937.0,714.0 939.3,716.2 941.6,719.5 C943.9,722.8 946.7,729.5 948.6,732.4 C950.5,735.3 951.5,737.4 953.3,737.0 C955.1,736.6 957.6,730.2 959.2,730.0 C960.8,729.8 961.2,736.3 962.7,735.9 C964.2,735.5 967.0,731.4 968.5,727.7 C970.0,724.0 970.8,715.8 972.0,713.6 C973.2,711.5 974.1,713.4 975.5,714.8 C976.9,716.2 978.4,721.2 980.2,721.8 C982.0,722.4 984.2,718.5 986.1,718.3 C988.0,718.1 990.0,721.6 991.9,720.6 C993.8,719.6 995.6,714.6 997.8,712.4 C999.9,710.1 1003.6,708.0 1004.8,707.1" fill="none" stroke="#8a8a8a" stroke-width="3.8" stroke-opacity="1" stroke-linejoin="round" stroke-linecap="round" />
<path d="M567.4,849.9 C568.5,851.2 572.0,853.1 574.3,857.9 C576.6,862.6 578.5,870.8 581.1,878.4 C583.8,886.0 587.0,896.3 590.2,903.5 C593.4,910.7 597.5,919.1 600.5,921.8 C603.5,924.5 605.8,922.5 608.5,919.5 C611.2,916.5 613.8,910.7 616.5,903.5 C619.2,896.3 621.6,886.8 624.5,876.1 C627.4,865.5 630.6,849.1 633.6,839.6 C636.6,830.1 639.8,823.0 642.8,819.0 C645.8,815.0 648.9,814.8 651.9,815.6 C654.9,816.4 658.0,819.2 661.0,823.6 C664.0,828.0 667.2,837.0 670.2,841.9 C673.2,846.8 676.3,851.2 679.3,853.3 C682.3,855.4 685.7,855.9 688.4,854.4 C691.1,852.9 693.2,852.4 695.3,844.2 C697.4,836.0 699.3,816.0 701.0,805.3 C702.7,794.6 704.0,785.7 705.5,780.2 C707.0,774.7 708.4,771.8 710.1,772.2 C711.8,772.6 714.1,776.2 715.8,782.5 C717.5,788.8 718.5,798.9 720.4,809.9 C722.3,820.9 724.9,836.1 727.2,848.7 C729.5,861.3 732.2,876.5 734.1,885.3 C736.0,894.0 736.7,896.7 738.6,901.2 C740.5,905.8 743.4,907.7 745.5,912.6 C747.6,917.5 749.3,926.5 751.2,930.9 C753.1,935.3 754.4,937.4 756.9,938.9 C759.4,940.4 763.0,939.8 766.0,940.0 C769.0,940.2 770.9,940.0 775.2,940.0 C779.5,940.0 788.0,941.1 792.0,939.8 C796.0,938.5 797.3,937.3 799.3,932.4 C801.3,927.5 802.5,919.0 804.1,910.5 C805.7,902.0 807.4,887.9 809.0,881.2 C810.6,874.5 811.9,871.0 813.9,870.2 C815.9,869.4 818.8,872.8 821.2,876.3 C823.6,879.8 826.0,886.1 828.5,891.0 C831.0,895.9 833.4,902.1 835.9,905.6 C838.4,909.1 840.4,911.1 843.2,911.7 C846.0,912.3 849.6,909.3 852.9,909.3 C856.1,909.3 859.0,910.9 862.7,911.7 C866.4,912.5 870.8,914.5 874.9,914.1 C879.0,913.7 883.0,910.5 887.1,909.3 C891.2,908.1 895.2,906.4 899.3,906.8 C903.4,907.2 907.9,909.1 911.5,911.7 C915.1,914.4 918.0,920.1 921.2,922.7 C924.5,925.4 927.3,926.6 931.0,927.6 C934.7,928.6 939.1,929.4 943.2,928.8 C947.3,928.2 951.3,925.5 955.4,923.9 C959.5,922.3 963.5,920.6 967.6,919.0 C971.7,917.4 976.1,916.0 979.8,914.1 C983.4,912.2 986.2,911.5 989.5,907.6 C992.8,903.8 996.6,895.2 999.3,891.0 C1001.9,886.8 1004.4,883.8 1005.4,882.4" fill="none" stroke="#e6403f" stroke-width="15" stroke-opacity="0.6" stroke-linejoin="round" stroke-linecap="round" />
<path d="M564.4,844.5 C565.5,845.9 569.0,847.9 571.3,853.0 C573.6,858.0 575.5,866.6 578.1,874.7 C580.8,882.8 584.0,893.6 587.2,901.3 C590.4,909.0 594.5,917.9 597.5,920.7 C600.5,923.5 602.8,921.5 605.5,918.3 C608.2,915.0 610.8,909.0 613.5,901.3 C616.2,893.6 618.6,883.6 621.5,872.3 C624.4,861.0 627.6,843.7 630.6,833.6 C633.6,823.5 636.8,816.0 639.8,811.7 C642.8,807.5 645.9,807.3 648.9,808.1 C651.9,808.9 655.0,812.0 658.0,816.6 C661.0,821.3 664.2,830.8 667.2,836.0 C670.2,841.3 673.3,845.9 676.3,848.1 C679.3,850.3 682.7,850.9 685.4,849.3 C688.1,847.7 690.2,847.1 692.3,838.5 C694.4,829.8 696.3,808.5 698.0,797.2 C699.7,785.9 701.0,776.5 702.5,770.6 C704.0,764.8 705.4,761.7 707.1,762.1 C708.8,762.5 711.1,766.4 712.8,773.0 C714.5,779.7 715.5,790.4 717.4,802.1 C719.3,813.8 721.9,829.9 724.2,843.2 C726.5,856.5 729.2,872.7 731.1,882.0 C733.0,891.3 733.7,894.0 735.6,898.9 C737.5,903.7 740.4,905.7 742.5,911.0 C744.6,916.2 746.3,925.7 748.2,930.4 C750.1,935.0 751.4,937.2 753.9,938.8 C756.4,940.4 760.0,939.8 763.0,940.0 C766.0,940.2 767.9,940.0 772.2,940.0 C776.5,940.0 785.0,941.1 789.0,939.8 C793.0,938.4 794.3,937.1 796.3,931.9 C798.3,926.8 799.5,917.8 801.1,908.7 C802.7,899.7 804.4,884.8 806.0,877.7 C807.6,870.6 808.9,866.9 810.9,866.0 C812.9,865.1 815.8,868.8 818.2,872.5 C820.6,876.2 823.0,882.9 825.5,888.1 C828.0,893.2 830.4,899.9 832.9,903.5 C835.4,907.2 837.4,909.3 840.2,910.0 C843.0,910.7 846.6,907.5 849.9,907.5 C853.1,907.5 856.0,909.2 859.7,910.0 C863.4,910.9 867.8,913.0 871.9,912.5 C876.0,912.1 880.0,908.7 884.1,907.5 C888.2,906.2 892.2,904.4 896.3,904.8 C900.4,905.2 904.9,907.2 908.5,910.0 C912.1,912.8 915.0,918.9 918.2,921.7 C921.5,924.5 924.3,925.8 928.0,926.9 C931.7,927.9 936.1,928.8 940.2,928.1 C944.3,927.5 948.3,924.7 952.4,922.9 C956.5,921.2 960.5,919.5 964.6,917.7 C968.7,916.0 973.1,914.6 976.8,912.5 C980.4,910.5 983.2,909.7 986.5,905.7 C989.8,901.6 993.6,892.5 996.3,888.1 C998.9,883.6 1001.4,880.5 1002.4,878.9" fill="none" stroke="#e6403f" stroke-width="6" stroke-opacity="0.35" stroke-linejoin="round" stroke-linecap="round" />
<path d="M571.4,853.5 C572.5,854.8 576.0,856.6 578.3,861.2 C580.6,865.7 582.5,873.6 585.1,880.9 C587.8,888.2 591.0,898.0 594.2,905.0 C597.4,911.9 601.5,920.0 604.5,922.5 C607.5,925.1 609.8,923.2 612.5,920.3 C615.2,917.4 617.8,911.9 620.5,905.0 C623.2,898.0 625.6,888.9 628.5,878.7 C631.4,868.4 634.6,852.8 637.6,843.6 C640.6,834.5 643.8,827.7 646.8,823.8 C649.8,820.0 652.9,819.8 655.9,820.6 C658.9,821.3 662.0,824.0 665.0,828.3 C668.0,832.5 671.2,841.1 674.2,845.8 C677.2,850.6 680.3,854.8 683.3,856.8 C686.3,858.8 689.7,859.3 692.4,857.8 C695.1,856.4 697.2,855.9 699.3,848.0 C701.4,840.2 703.3,820.9 705.0,810.7 C706.7,800.4 708.0,791.9 709.5,786.6 C711.0,781.3 712.4,778.5 714.1,778.9 C715.8,779.3 718.1,782.8 719.8,788.8 C721.5,794.8 722.5,804.5 724.4,815.1 C726.3,825.7 728.9,840.3 731.2,852.4 C733.5,864.4 736.2,879.1 738.1,887.5 C740.0,895.9 740.7,898.4 742.6,902.8 C744.5,907.1 747.4,908.9 749.5,913.7 C751.6,918.4 753.3,927.1 755.2,931.3 C757.1,935.5 758.4,937.5 760.9,938.9 C763.4,940.4 767.0,939.8 770.0,940.0 C773.0,940.2 774.9,940.0 779.2,940.0 C783.5,940.0 792.0,941.0 796.0,939.8 C800.0,938.6 801.3,937.4 803.3,932.7 C805.3,928.0 806.5,919.9 808.1,911.7 C809.7,903.5 811.4,890.0 813.0,883.6 C814.6,877.1 815.9,873.8 817.9,873.0 C819.9,872.2 822.8,875.5 825.2,878.8 C827.6,882.2 830.0,888.3 832.5,893.0 C835.0,897.6 837.4,903.7 839.9,907.0 C842.4,910.3 844.4,912.2 847.2,912.8 C850.0,913.4 853.6,910.5 856.9,910.5 C860.1,910.5 863.0,912.1 866.7,912.8 C870.4,913.6 874.8,915.5 878.9,915.1 C883.0,914.8 887.0,911.7 891.1,910.5 C895.2,909.4 899.2,907.7 903.3,908.1 C907.4,908.5 911.9,910.3 915.5,912.8 C919.1,915.4 922.0,920.8 925.2,923.4 C928.5,925.9 931.3,927.1 935.0,928.1 C938.7,929.1 943.1,929.8 947.2,929.2 C951.3,928.7 955.3,926.1 959.4,924.5 C963.5,923.0 967.5,921.4 971.6,919.8 C975.7,918.3 980.1,917.0 983.8,915.1 C987.4,913.3 990.2,912.6 993.5,908.9 C996.8,905.2 1000.6,897.0 1003.3,893.0 C1005.9,888.9 1008.4,886.1 1009.4,884.7" fill="none" stroke="#e6403f" stroke-width="6" stroke-opacity="0.35" stroke-linejoin="round" stroke-linecap="round" />
<path d="M574.4,849.9 C575.5,851.2 579.0,853.1 581.3,857.9 C583.6,862.6 585.5,870.8 588.1,878.4 C590.8,886.0 594.0,896.3 597.2,903.5 C600.4,910.7 604.5,919.1 607.5,921.8 C610.5,924.5 612.8,922.5 615.5,919.5 C618.2,916.5 620.8,910.7 623.5,903.5 C626.2,896.3 628.6,886.8 631.5,876.1 C634.4,865.5 637.6,849.1 640.6,839.6 C643.6,830.1 646.8,823.0 649.8,819.0 C652.8,815.0 655.9,814.8 658.9,815.6 C661.9,816.4 665.0,819.2 668.0,823.6 C671.0,828.0 674.2,837.0 677.2,841.9 C680.2,846.8 683.3,851.2 686.3,853.3 C689.3,855.4 692.7,855.9 695.4,854.4 C698.1,852.9 700.2,852.4 702.3,844.2 C704.4,836.0 706.3,816.0 708.0,805.3 C709.7,794.6 711.0,785.7 712.5,780.2 C714.0,774.7 715.4,771.8 717.1,772.2 C718.8,772.6 721.1,776.2 722.8,782.5 C724.5,788.8 725.5,798.9 727.4,809.9 C729.3,820.9 731.9,836.1 734.2,848.7 C736.5,861.3 739.2,876.5 741.1,885.3 C743.0,894.0 743.7,896.7 745.6,901.2 C747.5,905.8 750.4,907.7 752.5,912.6 C754.6,917.5 756.3,926.5 758.2,930.9 C760.1,935.3 761.4,937.4 763.9,938.9 C766.4,940.4 770.0,939.8 773.0,940.0 C776.0,940.2 777.9,940.0 782.2,940.0 C786.5,940.0 795.0,941.1 799.0,939.8 C803.0,938.5 804.3,937.3 806.3,932.4 C808.3,927.5 809.5,919.0 811.1,910.5 C812.7,902.0 814.4,887.9 816.0,881.2 C817.6,874.5 818.9,871.0 820.9,870.2 C822.9,869.4 825.8,872.8 828.2,876.3 C830.6,879.8 833.0,886.1 835.5,891.0 C838.0,895.9 840.4,902.1 842.9,905.6 C845.4,909.1 847.4,911.1 850.2,911.7 C853.0,912.3 856.6,909.3 859.9,909.3 C863.1,909.3 866.0,910.9 869.7,911.7 C873.4,912.5 877.8,914.5 881.9,914.1 C886.0,913.7 890.0,910.5 894.1,909.3 C898.2,908.1 902.2,906.4 906.3,906.8 C910.4,907.2 914.9,909.1 918.5,911.7 C922.1,914.4 925.0,920.1 928.2,922.7 C931.5,925.4 934.3,926.6 938.0,927.6 C941.7,928.6 946.1,929.4 950.2,928.8 C954.3,928.2 958.3,925.5 962.4,923.9 C966.5,922.3 970.5,920.6 974.6,919.0 C978.7,917.4 983.1,916.0 986.8,914.1 C990.4,912.2 993.2,911.5 996.5,907.6 C999.8,903.8 1003.6,895.2 1006.3,891.0 C1008.9,886.8 1011.4,883.8 1012.4,882.4" fill="none" stroke="#e6403f" stroke-width="8" stroke-opacity="0.35" stroke-linejoin="round" stroke-linecap="round" />
<path d="M577.4,851.7 C578.5,853.0 582.0,854.9 584.3,859.5 C586.6,864.2 588.5,872.2 591.1,879.6 C593.8,887.1 597.0,897.1 600.2,904.2 C603.4,911.3 607.5,919.6 610.5,922.2 C613.5,924.8 615.8,922.9 618.5,919.9 C621.2,916.9 623.8,911.3 626.5,904.2 C629.2,897.1 631.6,887.8 634.5,877.4 C637.4,866.9 640.6,850.9 643.6,841.6 C646.6,832.3 649.8,825.3 652.8,821.4 C655.8,817.5 658.9,817.3 661.9,818.1 C664.9,818.8 668.0,821.6 671.0,825.9 C674.0,830.2 677.2,839.0 680.2,843.9 C683.2,848.7 686.3,853.0 689.3,855.0 C692.3,857.1 695.7,857.6 698.4,856.1 C701.1,854.6 703.2,854.1 705.3,846.1 C707.4,838.1 709.3,818.4 711.0,808.0 C712.7,797.5 714.0,788.8 715.5,783.4 C717.0,778.0 718.4,775.2 720.1,775.6 C721.8,775.9 724.1,779.5 725.8,785.6 C727.5,791.8 728.5,801.7 730.4,812.5 C732.3,823.3 734.9,838.2 737.2,850.5 C739.5,862.8 742.2,877.8 744.1,886.4 C746.0,895.0 746.7,897.5 748.6,902.0 C750.5,906.4 753.4,908.3 755.5,913.1 C757.6,918.0 759.3,926.8 761.2,931.1 C763.1,935.4 764.4,937.4 766.9,938.9 C769.4,940.4 773.0,939.8 776.0,940.0 C779.0,940.2 780.9,940.0 785.2,940.0 C789.5,940.0 798.0,941.0 802.0,939.8 C806.0,938.6 807.3,937.3 809.3,932.6 C811.3,927.8 812.5,919.5 814.1,911.1 C815.7,902.7 817.4,889.0 819.0,882.4 C820.6,875.8 821.9,872.4 823.9,871.6 C825.9,870.8 828.8,874.2 831.2,877.6 C833.6,881.0 836.0,887.2 838.5,892.0 C841.0,896.8 843.4,902.9 845.9,906.3 C848.4,909.7 850.4,911.7 853.2,912.3 C856.0,912.9 859.6,909.9 862.9,909.9 C866.1,909.9 869.0,911.5 872.7,912.3 C876.4,913.1 880.8,915.0 884.9,914.6 C889.0,914.2 893.0,911.1 897.1,909.9 C901.2,908.7 905.2,907.1 909.3,907.5 C913.4,907.9 917.9,909.7 921.5,912.3 C925.1,914.9 928.0,920.4 931.2,923.0 C934.5,925.6 937.3,926.9 941.0,927.8 C944.7,928.8 949.1,929.6 953.2,929.0 C957.3,928.4 961.3,925.8 965.4,924.2 C969.5,922.6 973.5,921.0 977.6,919.4 C981.7,917.8 986.1,916.5 989.8,914.6 C993.4,912.8 996.2,912.0 999.5,908.2 C1002.8,904.5 1006.6,896.1 1009.3,892.0 C1011.9,887.9 1014.4,885.0 1015.4,883.6" fill="none" stroke="#e6403f" stroke-width="5" stroke-opacity="0.25" stroke-linejoin="round" stroke-linecap="round" />
<path d="M561.4,849.9 C562.5,851.2 566.0,853.1 568.3,857.9 C570.6,862.6 572.5,870.8 575.1,878.4 C577.8,886.0 581.0,896.3 584.2,903.5 C587.4,910.7 591.5,919.1 594.5,921.8 C597.5,924.5 599.8,922.5 602.5,919.5 C605.2,916.5 607.8,910.7 610.5,903.5 C613.2,896.3 615.6,886.8 618.5,876.1 C621.4,865.5 624.6,849.1 627.6,839.6 C630.6,830.1 633.8,823.0 636.8,819.0 C639.8,815.0 642.9,814.8 645.9,815.6 C648.9,816.4 652.0,819.2 655.0,823.6 C658.0,828.0 661.2,837.0 664.2,841.9 C667.2,846.8 670.3,851.2 673.3,853.3 C676.3,855.4 679.7,855.9 682.4,854.4 C685.1,852.9 687.2,852.4 689.3,844.2 C691.4,836.0 693.3,816.0 695.0,805.3 C696.7,794.6 698.0,785.7 699.5,780.2 C701.0,774.7 702.4,771.8 704.1,772.2 C705.8,772.6 708.1,776.2 709.8,782.5 C711.5,788.8 712.5,798.9 714.4,809.9 C716.3,820.9 718.9,836.1 721.2,848.7 C723.5,861.3 726.2,876.5 728.1,885.3 C730.0,894.0 730.7,896.7 732.6,901.2 C734.5,905.8 737.4,907.7 739.5,912.6 C741.6,917.5 743.3,926.5 745.2,930.9 C747.1,935.3 748.4,937.4 750.9,938.9 C753.4,940.4 757.0,939.8 760.0,940.0 C763.0,940.2 764.9,940.0 769.2,940.0 C773.5,940.0 782.0,941.1 786.0,939.8 C790.0,938.5 791.3,937.3 793.3,932.4 C795.3,927.5 796.5,919.0 798.1,910.5 C799.7,902.0 801.4,887.9 803.0,881.2 C804.6,874.5 805.9,871.0 807.9,870.2 C809.9,869.4 812.8,872.8 815.2,876.3 C817.6,879.8 820.0,886.1 822.5,891.0 C825.0,895.9 827.4,902.1 829.9,905.6 C832.4,909.1 834.4,911.1 837.2,911.7 C840.0,912.3 843.6,909.3 846.9,909.3 C850.1,909.3 853.0,910.9 856.7,911.7 C860.4,912.5 864.8,914.5 868.9,914.1 C873.0,913.7 877.0,910.5 881.1,909.3 C885.2,908.1 889.2,906.4 893.3,906.8 C897.4,907.2 901.9,909.1 905.5,911.7 C909.1,914.4 912.0,920.1 915.2,922.7 C918.5,925.4 921.3,926.6 925.0,927.6 C928.7,928.6 933.1,929.4 937.2,928.8 C941.3,928.2 945.3,925.5 949.4,923.9 C953.5,922.3 957.5,920.6 961.6,919.0 C965.7,917.4 970.1,916.0 973.8,914.1 C977.4,912.2 980.2,911.5 983.5,907.6 C986.8,903.8 990.6,895.2 993.3,891.0 C995.9,886.8 998.4,883.8 999.4,882.4" fill="none" stroke="#e6403f" stroke-width="6" stroke-opacity="0.3" stroke-linejoin="round" stroke-linecap="round" />
<path d="M562.4,840.9 C563.5,842.4 567.0,844.5 569.3,849.7 C571.6,854.9 573.5,863.9 576.1,872.2 C578.8,880.6 582.0,891.9 585.2,899.9 C588.4,907.8 592.5,917.0 595.5,920.0 C598.5,922.9 600.8,920.8 603.5,917.5 C606.2,914.1 608.8,907.8 611.5,899.9 C614.2,891.9 616.6,881.4 619.5,869.7 C622.4,858.0 625.6,840.0 628.6,829.6 C631.6,819.1 634.8,811.3 637.8,806.9 C640.8,802.5 643.9,802.3 646.9,803.2 C649.9,804.0 653.0,807.1 656.0,812.0 C659.0,816.8 662.2,826.6 665.2,832.1 C668.2,837.5 671.3,842.3 674.3,844.6 C677.3,846.9 680.7,847.5 683.4,845.8 C686.1,844.2 688.2,843.6 690.3,834.6 C692.4,825.6 694.3,803.6 696.0,791.8 C697.7,780.1 699.0,770.3 700.5,764.2 C702.0,758.2 703.4,755.0 705.1,755.4 C706.8,755.8 709.1,759.8 710.8,766.8 C712.5,773.7 713.5,784.8 715.4,796.9 C717.3,809.0 719.9,825.7 722.2,839.6 C724.5,853.4 727.2,870.2 729.1,879.8 C731.0,889.5 731.7,892.3 733.6,897.3 C735.5,902.3 738.4,904.4 740.5,909.9 C742.6,915.3 744.3,925.2 746.2,930.0 C748.1,934.8 749.4,937.1 751.9,938.8 C754.4,940.5 758.0,939.8 761.0,940.0 C764.0,940.2 765.9,940.0 770.2,940.0 C774.5,940.0 783.0,941.2 787.0,939.8 C791.0,938.4 792.3,937.0 794.3,931.6 C796.3,926.3 797.5,916.9 799.1,907.5 C800.7,898.2 802.4,882.7 804.0,875.3 C805.6,867.9 806.9,864.1 808.9,863.2 C810.9,862.3 813.8,866.1 816.2,869.9 C818.6,873.7 821.0,880.7 823.5,886.1 C826.0,891.5 828.4,898.4 830.9,902.2 C833.4,906.0 835.4,908.2 838.2,908.9 C841.0,909.5 844.6,906.2 847.9,906.2 C851.1,906.2 854.0,908.0 857.7,908.9 C861.4,909.8 865.8,912.0 869.9,911.5 C874.0,911.1 878.0,907.6 882.1,906.2 C886.2,904.9 890.2,903.0 894.3,903.5 C898.4,903.9 902.9,906.0 906.5,908.9 C910.1,911.8 913.0,918.1 916.2,921.0 C919.5,923.9 922.3,925.2 926.0,926.4 C929.7,927.5 934.1,928.4 938.2,927.7 C942.3,927.0 946.3,924.1 950.4,922.3 C954.5,920.5 958.5,918.7 962.6,916.9 C966.7,915.1 971.1,913.6 974.8,911.5 C978.4,909.4 981.2,908.6 984.5,904.4 C987.8,900.1 991.6,890.7 994.3,886.1 C996.9,881.5 999.4,878.2 1000.4,876.6" fill="none" stroke="#e6403f" stroke-width="4" stroke-opacity="0.3" stroke-linejoin="round" stroke-linecap="round" />
<path d="M568.4,839.1 C569.5,840.6 573.0,842.7 575.3,848.0 C577.6,853.4 579.5,862.5 582.1,871.0 C584.8,879.5 588.0,891.0 591.2,899.1 C594.4,907.2 598.5,916.6 601.5,919.6 C604.5,922.6 606.8,920.5 609.5,917.0 C612.2,913.6 614.8,907.2 617.5,899.1 C620.2,891.0 622.6,880.4 625.5,868.4 C628.4,856.5 631.6,838.2 634.6,827.6 C637.6,816.9 640.8,809.0 643.8,804.5 C646.8,800.0 649.9,799.8 652.9,800.7 C655.9,801.5 659.0,804.7 662.0,809.6 C665.0,814.5 668.2,824.6 671.2,830.1 C674.2,835.7 677.3,840.6 680.3,842.9 C683.3,845.2 686.7,845.8 689.4,844.1 C692.1,842.4 694.2,841.9 696.3,832.7 C698.4,823.5 700.3,801.1 702.0,789.1 C703.7,777.2 705.0,767.2 706.5,761.0 C708.0,754.8 709.4,751.6 711.1,752.1 C712.8,752.5 715.1,756.6 716.8,763.6 C718.5,770.6 719.5,781.9 721.4,794.3 C723.3,806.6 725.9,823.7 728.2,837.7 C730.5,851.8 733.2,868.9 735.1,878.7 C737.0,888.5 737.7,891.4 739.6,896.5 C741.5,901.6 744.4,903.8 746.5,909.3 C748.6,914.9 750.3,924.9 752.2,929.8 C754.1,934.7 755.4,937.1 757.9,938.8 C760.4,940.5 764.0,939.8 767.0,940.0 C770.0,940.2 771.9,940.0 776.2,940.0 C780.5,940.0 789.0,941.2 793.0,939.8 C797.0,938.4 798.3,937.0 800.3,931.5 C802.3,926.0 803.5,916.5 805.1,907.0 C806.7,897.4 808.4,881.7 810.0,874.1 C811.6,866.6 812.9,862.7 814.9,861.8 C816.9,860.9 819.8,864.8 822.2,868.7 C824.6,872.5 827.0,879.7 829.5,885.1 C832.0,890.6 834.4,897.6 836.9,901.5 C839.4,905.3 841.4,907.6 844.2,908.3 C847.0,909.0 850.6,905.6 853.9,905.6 C857.1,905.6 860.0,907.4 863.7,908.3 C867.4,909.2 871.8,911.4 875.9,911.0 C880.0,910.5 884.0,907.0 888.1,905.6 C892.2,904.3 896.2,902.4 900.3,902.8 C904.4,903.3 908.9,905.3 912.5,908.3 C916.1,911.3 919.0,917.7 922.2,920.6 C925.5,923.6 928.3,925.0 932.0,926.1 C935.7,927.3 940.1,928.1 944.2,927.5 C948.3,926.8 952.3,923.8 956.4,922.0 C960.5,920.1 964.5,918.3 968.6,916.5 C972.7,914.7 977.1,913.1 980.8,911.0 C984.4,908.9 987.2,908.0 990.5,903.7 C993.8,899.4 997.6,889.8 1000.3,885.1 C1002.9,880.4 1005.4,877.1 1006.4,875.5" fill="none" stroke="#e6403f" stroke-width="5" stroke-opacity="0.3" stroke-linejoin="round" stroke-linecap="round" />
<path d="M567.4,834.6 C568.5,836.1 572.0,838.4 574.3,843.9 C576.6,849.5 578.5,859.0 581.1,867.9 C583.8,876.8 587.0,888.8 590.2,897.3 C593.4,905.8 597.5,915.6 600.5,918.7 C603.5,921.8 605.8,919.6 608.5,916.0 C611.2,912.4 613.8,905.8 616.5,897.3 C619.2,888.8 621.6,877.7 624.5,865.2 C627.4,852.8 630.6,833.7 633.6,822.5 C636.6,811.4 639.8,803.1 642.8,798.4 C645.8,793.8 648.9,793.6 651.9,794.5 C654.9,795.3 658.0,798.7 661.0,803.8 C664.0,808.9 667.2,819.4 670.2,825.2 C673.2,831.0 676.3,836.1 679.3,838.6 C682.3,841.0 685.7,841.6 688.4,839.8 C691.1,838.1 693.2,837.5 695.3,827.9 C697.4,818.3 699.3,794.9 701.0,782.4 C702.7,769.9 704.0,759.5 705.5,753.0 C707.0,746.6 708.4,743.2 710.1,743.7 C711.8,744.1 714.1,748.4 715.8,755.7 C717.5,763.1 718.5,774.9 720.4,787.8 C722.3,800.7 724.9,818.5 727.2,833.2 C729.5,847.9 732.2,865.8 734.1,876.0 C736.0,886.2 736.7,889.3 738.6,894.6 C740.5,899.9 743.4,902.2 745.5,907.9 C747.6,913.7 749.3,924.2 751.2,929.4 C753.1,934.5 754.4,936.9 756.9,938.7 C759.4,940.5 763.0,939.8 766.0,940.0 C769.0,940.2 770.9,940.0 775.2,940.0 C779.5,940.0 788.0,941.2 792.0,939.8 C796.0,938.3 797.3,936.8 799.3,931.1 C801.3,925.4 802.5,915.5 804.1,905.5 C805.7,895.5 807.4,879.1 809.0,871.2 C810.6,863.3 811.9,859.3 813.9,858.3 C815.9,857.4 818.8,861.4 821.2,865.5 C823.6,869.5 826.0,877.0 828.5,882.7 C831.0,888.4 833.4,895.7 835.9,899.8 C838.4,903.8 840.4,906.2 843.2,906.9 C846.0,907.6 849.6,904.1 852.9,904.1 C856.1,904.1 859.0,906.0 862.7,906.9 C866.4,907.8 870.8,910.2 874.9,909.7 C879.0,909.2 883.0,905.5 887.1,904.1 C891.2,902.7 895.2,900.7 899.3,901.2 C903.4,901.6 907.9,903.8 911.5,906.9 C915.1,910.0 918.0,916.7 921.2,919.8 C924.5,922.9 927.3,924.3 931.0,925.5 C934.7,926.7 939.1,927.6 943.2,926.9 C947.3,926.2 951.3,923.1 955.4,921.2 C959.5,919.3 963.5,917.3 967.6,915.4 C971.7,913.5 976.1,911.9 979.8,909.7 C983.4,907.5 986.2,906.6 989.5,902.1 C992.8,897.6 996.6,887.6 999.3,882.7 C1001.9,877.8 1004.4,874.3 1005.4,872.6" fill="none" stroke="#e6403f" stroke-width="4" stroke-opacity="0.25" stroke-linejoin="round" stroke-linecap="round" />
<path d="M800,935 C804,880 808,845 814,836 C822,830 828,850 834,880 C840,905 845,912 850,912 L845,925 C835,930 815,935 800,935 Z" fill="#e6403f" fill-opacity="0.35"/>
<path d="M567.4,849.9 C568.5,851.2 572.0,853.1 574.3,857.9 C576.6,862.6 578.5,870.8 581.1,878.4 C583.8,886.0 587.0,896.3 590.2,903.5 C593.4,910.7 597.5,919.1 600.5,921.8 C603.5,924.5 605.8,922.5 608.5,919.5 C611.2,916.5 613.8,910.7 616.5,903.5 C619.2,896.3 621.6,886.8 624.5,876.1 C627.4,865.5 630.6,849.1 633.6,839.6 C636.6,830.1 639.8,823.0 642.8,819.0 C645.8,815.0 648.9,814.8 651.9,815.6 C654.9,816.4 658.0,819.2 661.0,823.6 C664.0,828.0 667.2,837.0 670.2,841.9 C673.2,846.8 676.3,851.2 679.3,853.3 C682.3,855.4 685.7,855.9 688.4,854.4 C691.1,852.9 693.2,852.4 695.3,844.2 C697.4,836.0 699.3,816.0 701.0,805.3 C702.7,794.6 704.0,785.7 705.5,780.2 C707.0,774.7 708.4,771.8 710.1,772.2 C711.8,772.6 714.1,776.2 715.8,782.5 C717.5,788.8 718.5,798.9 720.4,809.9 C722.3,820.9 724.9,836.1 727.2,848.7 C729.5,861.3 732.2,876.5 734.1,885.3 C736.0,894.0 736.7,896.7 738.6,901.2 C740.5,905.8 743.4,907.7 745.5,912.6 C747.6,917.5 749.3,926.5 751.2,930.9 C753.1,935.3 754.4,937.4 756.9,938.9 C759.4,940.4 763.0,939.8 766.0,940.0 C769.0,940.2 770.9,940.0 775.2,940.0 C779.5,940.0 788.0,941.1 792.0,939.8 C796.0,938.5 797.3,937.3 799.3,932.4 C801.3,927.5 802.5,919.0 804.1,910.5 C805.7,902.0 807.4,887.9 809.0,881.2 C810.6,874.5 811.9,871.0 813.9,870.2 C815.9,869.4 818.8,872.8 821.2,876.3 C823.6,879.8 826.0,886.1 828.5,891.0 C831.0,895.9 833.4,902.1 835.9,905.6 C838.4,909.1 840.4,911.1 843.2,911.7 C846.0,912.3 849.6,909.3 852.9,909.3 C856.1,909.3 859.0,910.9 862.7,911.7 C866.4,912.5 870.8,914.5 874.9,914.1 C879.0,913.7 883.0,910.5 887.1,909.3 C891.2,908.1 895.2,906.4 899.3,906.8 C903.4,907.2 907.9,909.1 911.5,911.7 C915.1,914.4 918.0,920.1 921.2,922.7 C924.5,925.4 927.3,926.6 931.0,927.6 C934.7,928.6 939.1,929.4 943.2,928.8 C947.3,928.2 951.3,925.5 955.4,923.9 C959.5,922.3 963.5,920.6 967.6,919.0 C971.7,917.4 976.1,916.0 979.8,914.1 C983.4,912.2 986.2,911.5 989.5,907.6 C992.8,903.8 996.6,895.2 999.3,891.0 C1001.9,886.8 1004.4,883.8 1005.4,882.4" fill="none" stroke="#8c1a1f" stroke-width="5.4" stroke-opacity="1" stroke-linejoin="round" stroke-linecap="round" />
<path d="M564.6,878.4 C565.9,878.2 569.6,878.4 572.5,877.1 C575.4,875.9 578.7,874.9 581.7,871.0 C584.8,867.1 587.8,860.7 590.8,853.7 C593.8,846.7 597.0,837.3 600.0,829.1 C603.0,820.9 606.1,811.2 609.1,804.5 C612.1,797.7 615.5,791.4 618.2,788.4 C620.9,785.3 622.4,785.0 625.1,786.0 C627.8,787.0 631.2,791.4 634.2,794.5 C637.2,797.6 640.6,802.6 643.3,804.5 C646.0,806.3 647.9,806.9 650.2,805.6 C652.5,804.4 654.3,802.6 657.0,797.0 C659.7,791.5 663.5,780.6 666.2,772.4 C668.9,764.2 671.2,753.1 673.0,747.8 C674.8,742.4 675.6,739.9 677.1,740.3 C678.6,740.7 680.5,744.0 682.1,750.1 C683.7,756.3 685.2,767.1 686.7,777.4 C688.2,787.6 689.8,799.5 691.3,811.8 C692.8,824.1 694.3,839.0 695.8,851.3 C697.3,863.7 698.5,875.9 700.4,885.8 C702.3,895.6 704.6,904.2 707.3,910.4 C710.0,916.6 712.6,919.1 716.4,922.8 C720.2,926.5 725.5,930.2 730.1,932.7 C734.7,935.1 739.2,936.6 743.8,937.6 C748.4,938.6 752.9,938.6 757.5,938.8 C762.1,939.0 768.2,938.9 771.2,938.8 C774.2,938.7 774.2,940.0 775.8,938.4 C777.4,936.8 779.0,933.4 780.6,929.2 C782.2,925.0 783.5,917.6 785.5,913.4 C787.5,909.3 790.6,906.1 792.8,904.1 C795.0,902.2 796.4,901.1 798.9,901.6 C801.4,902.0 804.0,904.6 807.5,906.8 C811.0,909.0 815.6,912.3 819.7,914.7 C823.8,917.1 828.2,919.8 831.9,921.3 C835.5,922.8 838.4,924.1 841.6,923.9 C844.9,923.7 847.7,921.1 851.4,920.0 C855.1,918.9 859.5,918.2 863.6,917.3 C867.7,916.4 871.7,916.0 875.8,914.7 C879.9,913.4 884.4,910.3 888.0,909.4 C891.6,908.6 894.1,908.3 897.7,909.4 C901.4,910.5 905.8,914.3 909.9,916.0 C914.0,917.8 918.0,920.0 922.1,920.0 C926.2,920.0 929.8,917.6 934.3,916.0 C938.8,914.5 944.8,912.5 948.9,910.7 C953.0,909.0 955.0,909.4 958.7,905.4 C962.4,901.5 966.8,893.2 970.9,887.1 C975.0,880.9 978.0,875.2 983.1,868.6 C988.2,862.0 998.4,851.1 1001.4,847.6" fill="none" stroke="#37a060" stroke-width="4" stroke-opacity="0.35" stroke-linejoin="round" stroke-linecap="round" />
<path d="M574.6,883.0 C575.9,882.8 579.6,882.9 582.5,881.8 C585.4,880.6 588.7,879.7 591.7,876.1 C594.8,872.5 597.8,866.6 600.8,860.1 C603.8,853.6 607.0,844.9 610.0,837.3 C613.0,829.7 616.1,820.8 619.1,814.5 C622.1,808.2 625.5,802.5 628.2,799.6 C630.9,796.8 632.4,796.5 635.1,797.4 C637.8,798.3 641.2,802.4 644.2,805.3 C647.2,808.1 650.6,812.8 653.3,814.5 C656.0,816.2 657.9,816.8 660.2,815.6 C662.5,814.5 664.3,812.7 667.0,807.6 C669.7,802.5 673.5,792.4 676.2,784.8 C678.9,777.2 681.2,767.0 683.0,762.0 C684.8,757.0 685.6,754.7 687.1,755.1 C688.6,755.5 690.5,758.5 692.1,764.2 C693.7,769.9 695.2,779.9 696.7,789.4 C698.2,798.9 699.8,809.9 701.3,821.3 C702.8,832.7 704.3,846.5 705.8,857.9 C707.3,869.3 708.5,880.7 710.4,889.8 C712.3,898.9 714.6,906.9 717.3,912.6 C720.0,918.3 722.6,920.7 726.4,924.1 C730.2,927.5 735.5,930.9 740.1,933.2 C744.7,935.5 749.2,936.8 753.8,937.8 C758.4,938.8 762.9,938.7 767.5,938.9 C772.1,939.1 778.2,939.0 781.2,938.9 C784.2,938.8 784.2,940.0 785.8,938.5 C787.4,937.0 789.0,933.9 790.6,930.0 C792.2,926.1 793.5,919.3 795.5,915.4 C797.5,911.5 800.6,908.6 802.8,906.8 C805.0,905.0 806.4,904.0 808.9,904.4 C811.4,904.8 814.0,907.3 817.5,909.3 C821.0,911.3 825.6,914.4 829.7,916.6 C833.8,918.8 838.2,921.3 841.9,922.7 C845.5,924.1 848.4,925.3 851.6,925.1 C854.9,924.9 857.7,922.5 861.4,921.5 C865.1,920.5 869.5,919.8 873.6,919.0 C877.7,918.2 881.7,917.8 885.8,916.6 C889.9,915.4 894.4,912.5 898.0,911.7 C901.6,910.9 904.1,910.7 907.7,911.7 C911.4,912.7 915.8,916.2 919.9,917.8 C924.0,919.4 928.0,921.5 932.1,921.5 C936.2,921.5 939.8,919.2 944.3,917.8 C948.8,916.4 954.8,914.5 958.9,912.9 C963.0,911.3 965.0,911.6 968.7,908.0 C972.4,904.4 976.8,896.7 980.9,891.0 C985.0,885.3 988.0,880.0 993.1,873.9 C998.2,867.8 1008.4,857.6 1011.4,854.4" fill="none" stroke="#37a060" stroke-width="4" stroke-opacity="0.35" stroke-linejoin="round" stroke-linecap="round" />
<path d="M568.6,887.0 C569.9,886.8 573.6,886.9 576.5,885.9 C579.4,884.8 582.7,883.9 585.7,880.6 C588.8,877.2 591.8,871.7 594.8,865.7 C597.8,859.7 601.0,851.6 604.0,844.5 C607.0,837.4 610.1,829.1 613.1,823.3 C616.1,817.4 619.5,812.1 622.2,809.4 C624.9,806.8 626.4,806.5 629.1,807.4 C631.8,808.3 635.2,812.1 638.2,814.7 C641.2,817.4 644.6,821.7 647.3,823.3 C650.0,824.9 651.9,825.4 654.2,824.3 C656.5,823.2 658.3,821.6 661.0,816.9 C663.7,812.1 667.5,802.7 670.2,795.7 C672.9,788.6 675.2,779.1 677.0,774.5 C678.8,769.9 679.6,767.7 681.1,768.0 C682.6,768.4 684.5,771.2 686.1,776.5 C687.7,781.8 689.2,791.1 690.7,799.9 C692.2,808.8 693.8,819.0 695.3,829.6 C696.8,840.2 698.3,853.0 699.8,863.6 C701.3,874.3 702.5,884.8 704.4,893.3 C706.3,901.8 708.6,909.2 711.3,914.5 C714.0,919.8 716.6,922.0 720.4,925.2 C724.2,928.4 729.5,931.6 734.1,933.7 C738.7,935.8 743.2,937.1 747.8,938.0 C752.4,938.8 756.9,938.8 761.5,939.0 C766.1,939.1 772.2,939.0 775.2,939.0 C778.2,938.9 778.2,940.0 779.8,938.6 C781.4,937.2 783.0,934.3 784.6,930.7 C786.2,927.1 787.5,920.7 789.5,917.1 C791.5,913.5 794.6,910.8 796.8,909.1 C799.0,907.4 800.4,906.5 802.9,906.9 C805.4,907.3 808.0,909.6 811.5,911.4 C815.0,913.3 819.6,916.2 823.7,918.2 C827.8,920.3 832.2,922.6 835.9,923.9 C839.5,925.2 842.4,926.3 845.6,926.1 C848.9,926.0 851.7,923.7 855.4,922.8 C859.1,921.8 863.5,921.2 867.6,920.5 C871.7,919.7 875.7,919.4 879.8,918.2 C883.9,917.1 888.4,914.4 892.0,913.7 C895.6,912.9 898.1,912.7 901.7,913.7 C905.4,914.6 909.8,917.8 913.9,919.4 C918.0,920.9 922.0,922.8 926.1,922.8 C930.2,922.8 933.8,920.7 938.3,919.4 C942.8,918.0 948.8,916.3 952.9,914.8 C957.0,913.3 959.0,913.6 962.7,910.2 C966.4,906.8 970.8,899.7 974.9,894.4 C979.0,889.1 982.0,884.2 987.1,878.5 C992.2,872.9 1002.4,863.4 1005.4,860.4" fill="none" stroke="#37a060" stroke-width="4" stroke-opacity="0.3" stroke-linejoin="round" stroke-linecap="round" />
<path d="M571.6,877.3 C572.9,877.1 576.6,877.2 579.5,876.0 C582.4,874.7 585.7,873.7 588.7,869.7 C591.8,865.7 594.8,859.2 597.8,852.1 C600.8,845.0 604.0,835.4 607.0,827.0 C610.0,818.7 613.1,808.9 616.1,802.0 C619.1,795.0 622.5,788.7 625.2,785.6 C627.9,782.4 629.4,782.1 632.1,783.1 C634.8,784.2 638.2,788.7 641.2,791.8 C644.2,795.0 647.6,800.1 650.3,802.0 C653.0,803.8 654.9,804.4 657.2,803.2 C659.5,801.9 661.3,800.0 664.0,794.4 C666.7,788.7 670.5,777.6 673.2,769.3 C675.9,760.9 678.2,749.6 680.0,744.2 C681.8,738.8 682.6,736.2 684.1,736.6 C685.6,737.0 687.5,740.3 689.1,746.6 C690.7,752.9 692.2,763.9 693.7,774.3 C695.2,784.8 696.8,796.9 698.3,809.4 C699.8,822.0 701.3,837.1 702.8,849.7 C704.3,862.2 705.5,874.8 707.4,884.8 C709.3,894.8 711.6,903.6 714.3,909.9 C717.0,916.1 719.6,918.7 723.4,922.5 C727.2,926.3 732.5,930.0 737.1,932.5 C741.7,935.0 746.2,936.5 750.8,937.6 C755.4,938.6 759.9,938.6 764.5,938.8 C769.1,939.0 775.2,938.9 778.2,938.8 C781.2,938.7 781.2,940.0 782.8,938.4 C784.4,936.7 786.0,933.2 787.6,929.0 C789.2,924.8 790.5,917.2 792.5,912.9 C794.5,908.7 797.6,905.5 799.8,903.5 C802.0,901.5 803.4,900.4 805.9,900.8 C808.4,901.3 811.0,904.0 814.5,906.2 C818.0,908.5 822.6,911.8 826.7,914.3 C830.8,916.7 835.2,919.4 838.9,921.0 C842.5,922.5 845.4,923.8 848.6,923.6 C851.9,923.4 854.7,920.8 858.4,919.6 C862.1,918.5 866.5,917.8 870.6,916.9 C874.7,916.0 878.7,915.6 882.8,914.3 C886.9,912.9 891.4,909.8 895.0,908.9 C898.6,908.0 901.1,907.8 904.7,908.9 C908.4,910.0 912.8,913.8 916.9,915.6 C921.0,917.4 925.0,919.6 929.1,919.6 C933.2,919.6 936.8,917.2 941.3,915.6 C945.8,914.0 951.8,912.0 955.9,910.2 C960.0,908.4 962.0,908.8 965.7,904.8 C969.4,900.8 973.8,892.4 977.9,886.1 C982.0,879.8 985.0,874.0 990.1,867.3 C995.2,860.6 1005.4,849.4 1008.4,845.8" fill="none" stroke="#37a060" stroke-width="3" stroke-opacity="0.25" stroke-linejoin="round" stroke-linecap="round" />
<path d="M568.6,883.0 C569.9,882.8 573.6,882.9 576.5,881.8 C579.4,880.6 582.7,879.7 585.7,876.1 C588.8,872.5 591.8,866.6 594.8,860.1 C597.8,853.6 601.0,844.9 604.0,837.3 C607.0,829.7 610.1,820.8 613.1,814.5 C616.1,808.2 619.5,802.5 622.2,799.6 C624.9,796.8 626.4,796.5 629.1,797.4 C631.8,798.3 635.2,802.4 638.2,805.3 C641.2,808.1 644.6,812.8 647.3,814.5 C650.0,816.2 651.9,816.8 654.2,815.6 C656.5,814.5 658.3,812.7 661.0,807.6 C663.7,802.5 667.5,792.4 670.2,784.8 C672.9,777.2 675.2,767.0 677.0,762.0 C678.8,757.0 679.6,754.7 681.1,755.1 C682.6,755.5 684.5,758.5 686.1,764.2 C687.7,769.9 689.2,779.9 690.7,789.4 C692.2,798.9 693.8,809.9 695.3,821.3 C696.8,832.7 698.3,846.5 699.8,857.9 C701.3,869.3 702.5,880.7 704.4,889.8 C706.3,898.9 708.6,906.9 711.3,912.6 C714.0,918.3 716.6,920.7 720.4,924.1 C724.2,927.5 729.5,930.9 734.1,933.2 C738.7,935.5 743.2,936.8 747.8,937.8 C752.4,938.8 756.9,938.7 761.5,938.9 C766.1,939.1 772.2,939.0 775.2,938.9 C778.2,938.8 778.2,940.0 779.8,938.5 C781.4,937.0 783.0,933.9 784.6,930.0 C786.2,926.1 787.5,919.3 789.5,915.4 C791.5,911.5 794.6,908.6 796.8,906.8 C799.0,905.0 800.4,904.0 802.9,904.4 C805.4,904.8 808.0,907.3 811.5,909.3 C815.0,911.3 819.6,914.4 823.7,916.6 C827.8,918.8 832.2,921.3 835.9,922.7 C839.5,924.1 842.4,925.3 845.6,925.1 C848.9,924.9 851.7,922.5 855.4,921.5 C859.1,920.5 863.5,919.8 867.6,919.0 C871.7,918.2 875.7,917.8 879.8,916.6 C883.9,915.4 888.4,912.5 892.0,911.7 C895.6,910.9 898.1,910.7 901.7,911.7 C905.4,912.7 909.8,916.2 913.9,917.8 C918.0,919.4 922.0,921.5 926.1,921.5 C930.2,921.5 933.8,919.2 938.3,917.8 C942.8,916.4 948.8,914.5 952.9,912.9 C957.0,911.3 959.0,911.6 962.7,908.0 C966.4,904.4 970.8,896.7 974.9,891.0 C979.0,885.3 982.0,880.0 987.1,873.9 C992.2,867.8 1002.4,857.6 1005.4,854.4" fill="none" stroke="#17793a" stroke-width="5.4" stroke-opacity="1" stroke-linejoin="round" stroke-linecap="round" />
<path d="M724.6,592 L724.6,693.2 L708.9,693.2 L708.9,703.5 L679,703.5 L679,723.5" fill="none" stroke="#a6c0e8" stroke-width="8.5" stroke-linejoin="miter"/>
<path d="M724.6,592 L724.6,693.2 L708.9,693.2 L708.9,703.5 L679,703.5 L679,723.5" fill="none" stroke="#4a7bc6" stroke-width="3.8" stroke-linejoin="miter"/>
<path d="M832.9,657.4 L832.9,795.9 L810.2,795.9 L810.2,810.5 L794.4,810.5 L794.4,869" fill="none" stroke="#a6c0e8" stroke-width="8.5" stroke-linejoin="miter"/>
<path d="M832.9,657.4 L832.9,795.9 L810.2,795.9 L810.2,810.5 L794.4,810.5 L794.4,869" fill="none" stroke="#4a7bc6" stroke-width="3.8" stroke-linejoin="miter"/>
<rect x="723.25" y="561.00" width="3.5" height="11" fill="#808285"/>
<polygon points="715.15,568.20 725.00,571.10 734.85,568.20 725.00,585.80" fill="#808285"/>
<rect x="831.65" y="624.40" width="3.5" height="11" fill="#808285"/>
<polygon points="823.55,631.60 833.40,634.50 843.25,631.60 833.40,649.20" fill="#808285"/>
<rect x="677.25" y="726.20" width="3.5" height="11" fill="#00a651"/>
<polygon points="669.15,733.40 679.00,736.30 688.85,733.40 679.00,751.00" fill="#00a651"/>
<rect x="707.15" y="709.30" width="3.5" height="11" fill="#be1e2d"/>
<polygon points="699.05,716.50 708.90,719.40 718.75,716.50 708.90,734.10" fill="#be1e2d"/>
<rect x="792.65" y="871.40" width="3.5" height="11" fill="#00a651"/>
<polygon points="784.55,878.60 794.40,881.50 804.25,878.60 794.40,896.20" fill="#00a651"/>
<rect x="808.45" y="815.20" width="3.5" height="11" fill="#be1e2d"/>
<polygon points="800.35,822.40 810.20,825.30 820.05,822.40 810.20,840.00" fill="#be1e2d"/>
<path d="M66.3,1245.9 C67.9,1246.3 72.4,1247.9 75.9,1248.2 C79.4,1248.5 83.6,1247.1 87.4,1247.5 C91.2,1247.9 94.6,1249.6 98.8,1250.5 C103.0,1251.4 108.0,1252.7 112.6,1252.8 C117.2,1252.9 121.5,1251.8 126.3,1251.2 C131.1,1250.6 136.6,1249.3 141.2,1249.4 C145.8,1249.5 149.8,1250.6 153.8,1251.7 C157.8,1252.8 161.5,1255.0 165.3,1256.2 C169.1,1257.5 173.8,1259.0 176.8,1259.2 C179.9,1259.4 181.7,1259.8 183.6,1257.4 C185.5,1255.0 186.7,1251.9 188.2,1244.8 C189.7,1237.7 191.3,1227.6 192.8,1215.0 C194.3,1202.4 195.9,1184.4 197.4,1169.1 C198.9,1153.8 200.8,1135.1 202.0,1123.3 C203.2,1111.5 203.9,1103.4 204.7,1098.1 C205.5,1092.8 206.1,1091.2 207.0,1091.2 C207.9,1091.2 208.9,1092.8 210.0,1098.1 C211.1,1103.4 212.1,1111.5 213.4,1123.3 C214.7,1135.1 216.5,1153.8 218.0,1169.1 C219.5,1184.4 221.1,1202.4 222.6,1215.0 C224.1,1227.6 225.7,1237.9 227.2,1244.8 C228.7,1251.7 230.3,1253.6 231.8,1256.2 C233.3,1258.8 234.2,1260.0 236.4,1260.4 C238.6,1260.8 242.6,1260.7 245.2,1258.5 C247.8,1256.3 250.1,1254.3 252.0,1247.1 C253.9,1239.8 255.1,1228.0 256.6,1215.0 C258.1,1202.0 259.7,1184.4 261.2,1169.1 C262.7,1153.8 264.5,1134.8 265.8,1123.3 C267.1,1111.8 268.1,1105.0 269.2,1100.4 C270.3,1095.8 271.5,1095.4 272.7,1095.8 C273.9,1096.2 275.0,1097.0 276.1,1102.7 C277.2,1108.4 278.4,1119.1 279.5,1130.2 C280.6,1141.3 281.9,1156.1 283.0,1169.1 C284.1,1182.1 285.1,1196.2 286.4,1208.1 C287.7,1219.9 289.3,1232.9 291.0,1240.2 C292.7,1247.5 294.4,1250.6 296.7,1252.1 C299.0,1253.6 301.9,1250.4 304.8,1249.4 C307.7,1248.4 311.0,1246.7 313.9,1245.9 C316.8,1245.1 319.3,1244.6 322.0,1244.8 C324.7,1245.0 327.5,1246.3 330.0,1247.1 C332.5,1247.9 333.8,1249.1 336.8,1249.4 C339.9,1249.7 345.2,1248.5 348.3,1248.7 C351.4,1248.9 351.8,1249.2 355.2,1250.5 C358.6,1251.8 364.3,1255.2 368.9,1256.2 C373.5,1257.2 378.1,1256.6 382.7,1256.2 C387.3,1255.8 392.8,1254.7 396.4,1253.9 C400.0,1253.2 402.0,1251.9 404.5,1251.7 C407.0,1251.5 410.2,1252.6 411.3,1252.8" fill="none" stroke="#888888" stroke-width="3.8" stroke-opacity="1" stroke-linejoin="round" stroke-linecap="round" />
<path d="M66.3,1373.1 C67.9,1373.3 72.0,1373.5 75.9,1374.3 C79.8,1375.1 84.7,1376.9 89.7,1377.7 C94.7,1378.5 100.7,1378.7 105.7,1378.9 C110.7,1379.1 115.3,1379.3 119.5,1378.9 C123.7,1378.5 126.7,1377.2 130.9,1376.6 C135.1,1375.9 140.5,1374.9 144.7,1375.0 C148.9,1375.1 152.3,1376.3 156.1,1377.3 C159.9,1378.3 164.0,1380.2 167.6,1381.2 C171.2,1382.2 175.2,1383.4 177.9,1383.0 C180.6,1382.6 181.9,1382.1 183.6,1378.9 C185.3,1375.7 186.7,1372.2 188.2,1364.0 C189.7,1355.8 191.3,1344.9 192.8,1329.6 C194.3,1314.3 195.9,1289.5 197.4,1272.3 C198.9,1255.1 200.6,1237.7 202.0,1226.4 C203.4,1215.1 204.8,1206.6 206.1,1204.7 C207.4,1202.8 208.8,1207.5 210.0,1215.0 C211.2,1222.5 212.1,1234.1 213.4,1249.4 C214.7,1264.7 216.5,1289.5 218.0,1306.7 C219.5,1323.9 221.1,1341.0 222.6,1352.5 C224.1,1364.0 225.3,1370.2 227.2,1375.4 C229.1,1380.6 231.1,1382.1 234.1,1383.4 C237.1,1384.7 242.2,1386.6 245.2,1383.4 C248.2,1380.2 249.9,1376.8 252.0,1364.0 C254.1,1351.2 255.9,1323.9 257.8,1306.7 C259.7,1289.5 261.8,1274.2 263.5,1260.8 C265.2,1247.4 266.8,1234.4 268.1,1226.4 C269.4,1218.4 270.4,1214.2 271.5,1212.7 C272.6,1211.2 273.9,1211.2 275.0,1217.3 C276.1,1223.4 277.3,1236.4 278.4,1249.4 C279.5,1262.4 280.5,1279.9 281.8,1295.2 C283.1,1310.5 284.7,1328.0 286.4,1341.0 C288.1,1354.0 290.3,1366.4 292.2,1373.1 C294.1,1379.8 295.8,1380.4 297.9,1381.2 C300.0,1382.0 302.1,1379.4 304.8,1377.7 C307.5,1376.0 311.0,1372.6 313.9,1370.8 C316.8,1369.0 319.3,1366.9 322.0,1366.7 C324.7,1366.5 327.1,1368.2 330.0,1369.7 C332.9,1371.2 336.1,1374.2 339.1,1375.4 C342.2,1376.6 345.1,1376.8 348.3,1376.6 C351.6,1376.4 355.6,1374.2 358.6,1374.3 C361.7,1374.4 363.7,1376.3 366.6,1377.3 C369.5,1378.2 372.4,1379.5 375.8,1380.0 C379.2,1380.5 383.1,1380.3 387.3,1380.0 C391.5,1379.7 397.0,1378.5 401.0,1378.4 C405.0,1378.3 409.6,1379.3 411.3,1379.5" fill="none" stroke="#ec3b3f" stroke-width="3.8" stroke-opacity="1" stroke-linejoin="round" stroke-linecap="round" />
<path d="M66.3,1358.9 C67.5,1359.0 71.2,1358.6 73.6,1359.4 C76.0,1360.2 77.8,1362.3 80.5,1364.0 C83.2,1365.7 86.3,1368.6 89.7,1369.7 C93.1,1370.8 97.3,1370.3 101.1,1370.8 C104.9,1371.3 109.5,1373.1 112.6,1372.7 C115.7,1372.3 116.8,1371.1 119.5,1368.5 C122.2,1365.9 125.2,1361.3 128.6,1357.1 C132.0,1352.9 137.0,1347.5 140.1,1343.3 C143.2,1339.1 145.1,1336.1 147.0,1331.9 C148.9,1327.7 150.3,1324.2 151.6,1318.1 C152.9,1312.0 154.1,1304.8 155.0,1295.2 C155.9,1285.7 156.4,1274.2 157.3,1260.8 C158.2,1247.4 159.5,1231.4 160.7,1215.0 C161.8,1198.6 163.0,1178.7 164.2,1162.3 C165.3,1145.9 166.5,1127.9 167.6,1116.4 C168.7,1104.9 169.8,1094.3 171.0,1093.5 C172.2,1092.7 173.3,1101.1 174.5,1111.8 C175.7,1122.5 176.8,1140.5 177.9,1157.7 C179.1,1174.9 180.2,1195.9 181.4,1215.0 C182.6,1234.1 183.7,1253.2 184.8,1272.3 C185.9,1291.4 187.0,1314.3 188.2,1329.6 C189.3,1344.9 190.3,1355.6 191.7,1364.0 C193.0,1372.4 194.2,1376.7 196.3,1380.0 C198.4,1383.3 197.7,1383.4 204.3,1384.1 C210.9,1384.8 219.6,1384.2 236.0,1384.1 C252.4,1384.0 288.8,1383.9 302.5,1383.4 C316.2,1382.9 313.5,1381.5 318.5,1381.2 C323.5,1380.9 326.9,1381.5 332.3,1381.8 C337.7,1382.1 343.7,1382.5 350.6,1382.8 C357.5,1383.1 363.4,1383.4 373.5,1383.4 C383.6,1383.4 405.0,1382.9 411.3,1382.8" fill="none" stroke="#2eaa62" stroke-width="3.8" stroke-opacity="1" stroke-linejoin="round" stroke-linecap="round" />
<path d="M535.3,1337.6 C536.5,1338.8 540.2,1342.0 542.6,1344.5 C545.0,1347.0 547.2,1350.5 549.5,1352.5 C551.8,1354.5 554.1,1356.8 556.4,1356.6 C558.7,1356.4 561.0,1353.8 563.3,1351.4 C565.6,1349.0 568.2,1343.9 570.1,1342.2 C572.0,1340.5 572.8,1340.0 574.7,1341.0 C576.6,1342.0 579.3,1345.2 581.6,1347.9 C583.9,1350.6 586.2,1355.2 588.5,1357.1 C590.8,1359.0 593.0,1358.8 595.3,1359.4 C597.6,1360.0 599.9,1359.3 602.2,1360.5 C604.5,1361.7 606.8,1364.2 609.1,1366.3 C611.4,1368.4 613.3,1371.8 616.0,1373.1 C618.7,1374.4 621.7,1374.5 625.1,1374.3 C628.5,1374.1 632.8,1372.4 636.6,1372.0 C640.4,1371.6 644.7,1372.8 648.1,1372.0 C651.5,1371.2 654.2,1368.7 657.2,1367.4 C660.2,1366.1 663.0,1364.0 666.4,1364.0 C669.8,1364.0 674.1,1365.9 677.9,1367.4 C681.7,1368.9 685.5,1371.2 689.3,1373.1 C693.1,1375.0 697.9,1377.9 700.8,1378.9 C703.7,1379.9 704.9,1381.4 706.9,1378.9 C708.9,1376.4 710.7,1376.0 712.6,1364.0 C714.5,1352.0 716.6,1329.6 718.3,1306.7 C720.0,1283.8 721.4,1253.2 722.9,1226.4 C724.4,1199.7 726.2,1164.9 727.5,1146.2 C728.8,1127.5 729.9,1120.4 730.9,1114.1 C731.9,1107.8 732.2,1108.0 733.2,1108.4 C734.2,1108.8 735.6,1108.2 736.7,1116.4 C737.9,1124.6 738.8,1137.5 740.1,1157.7 C741.4,1178.0 743.2,1211.2 744.7,1237.9 C746.2,1264.6 747.8,1297.1 749.3,1318.1 C750.8,1339.1 752.2,1353.7 753.9,1364.0 C755.6,1374.3 756.4,1376.7 759.6,1380.0 C762.8,1383.3 769.1,1383.7 773.3,1384.1 C777.5,1384.5 781.9,1384.9 784.8,1382.3 C787.7,1379.7 788.6,1379.2 790.5,1368.5 C792.4,1357.8 794.6,1336.0 796.3,1318.1 C798.0,1300.1 799.3,1276.1 800.8,1260.8 C802.3,1245.5 804.0,1233.3 805.4,1226.4 C806.8,1219.5 807.8,1219.6 808.9,1219.6 C810.0,1219.6 811.0,1219.5 812.3,1226.4 C813.6,1233.3 815.4,1245.5 816.9,1260.8 C818.4,1276.1 819.8,1300.9 821.5,1318.1 C823.2,1335.3 825.1,1354.1 827.2,1364.0 C829.3,1373.9 831.6,1376.6 834.1,1377.7 C836.6,1378.8 839.2,1375.0 842.1,1370.8 C845.0,1366.6 848.8,1356.1 851.3,1352.5 C853.8,1348.9 854.9,1348.5 857.0,1349.1 C859.1,1349.7 861.8,1353.2 863.9,1356.0 C866.0,1358.8 867.4,1363.8 869.4,1365.6 C871.4,1367.4 872.8,1367.4 875.6,1367.1 C878.5,1366.8 883.4,1363.7 886.5,1364.0 C889.6,1364.3 891.7,1366.9 894.3,1368.7 C896.9,1370.5 899.2,1373.3 902.1,1374.9 C905.0,1376.5 907.6,1378.0 911.5,1378.1 C915.4,1378.2 920.9,1376.5 925.6,1375.7 C930.3,1374.9 935.5,1373.4 939.6,1373.4 C943.8,1373.4 946.1,1375.1 950.5,1375.7 C954.9,1376.3 961.5,1377.2 966.2,1377.3 C970.9,1377.4 974.7,1377.2 978.6,1376.5 C982.5,1375.8 986.5,1374.2 989.6,1373.4 C992.7,1372.6 994.9,1371.9 997.4,1371.8 C999.9,1371.7 1003.2,1372.5 1004.4,1372.6" fill="none" stroke="#888888" stroke-width="3.8" stroke-opacity="1" stroke-linejoin="round" stroke-linecap="round" />
<path d="M535.3,1359.4 C536.1,1358.2 538.3,1356.3 540.3,1352.5 C542.3,1348.7 544.8,1340.7 547.2,1336.5 C549.6,1332.3 552.2,1327.3 554.5,1327.3 C556.8,1327.3 558.8,1331.5 561.0,1336.5 C563.2,1341.5 565.5,1351.6 567.8,1357.1 C570.1,1362.6 572.0,1367.4 574.7,1369.7 C577.4,1372.0 580.5,1370.6 583.9,1370.8 C587.3,1371.0 591.9,1370.6 595.3,1370.8 C598.7,1371.0 601.4,1372.0 604.5,1372.0 C607.6,1372.0 610.7,1370.8 613.7,1370.8 C616.8,1370.8 619.4,1371.8 622.8,1372.0 C626.2,1372.2 630.3,1373.2 634.3,1372.0 C638.3,1370.8 643.1,1365.9 646.9,1365.1 C650.7,1364.3 653.6,1366.1 657.2,1367.4 C660.8,1368.7 664.9,1371.3 668.7,1373.1 C672.5,1374.9 677.2,1378.2 680.1,1378.2 C683.0,1378.2 684.2,1379.3 685.9,1373.1 C687.6,1366.9 689.2,1354.0 690.5,1341.0 C691.8,1328.0 692.8,1312.4 693.9,1295.2 C695.0,1278.0 696.1,1257.0 697.3,1237.9 C698.4,1218.8 699.6,1198.5 700.8,1180.6 C701.9,1162.6 703.1,1142.0 704.2,1130.2 C705.4,1118.4 706.3,1108.7 707.7,1109.5 C709.1,1110.3 711.2,1123.0 712.6,1134.8 C714.0,1146.6 714.9,1161.5 716.0,1180.6 C717.1,1199.7 718.1,1226.5 719.5,1249.4 C720.9,1272.3 722.6,1299.0 724.1,1318.1 C725.6,1337.2 726.9,1353.5 728.6,1364.0 C730.3,1374.5 731.5,1377.8 734.4,1381.2 C737.3,1384.6 742.4,1384.2 745.8,1384.6 C749.2,1385.0 752.5,1385.3 755.0,1383.4 C757.5,1381.5 759.0,1380.2 760.7,1373.1 C762.4,1366.0 763.8,1354.0 765.3,1341.0 C766.8,1328.0 768.4,1310.5 769.9,1295.2 C771.4,1279.9 773.0,1261.2 774.5,1249.4 C776.0,1237.6 777.8,1228.7 779.1,1224.1 C780.4,1219.5 781.0,1220.4 782.1,1221.9 C783.2,1223.4 784.6,1224.9 786.0,1233.3 C787.4,1241.7 789.0,1258.2 790.5,1272.3 C792.0,1286.4 793.4,1303.6 795.1,1318.1 C796.8,1332.6 798.7,1349.9 800.8,1359.4 C802.9,1369.0 805.4,1373.1 807.7,1375.4 C810.0,1377.7 811.9,1375.4 814.6,1373.1 C817.3,1370.8 820.9,1365.0 823.8,1361.7 C826.7,1358.5 829.1,1353.8 831.8,1353.6 C834.5,1353.4 836.9,1358.2 839.8,1360.5 C842.7,1362.8 845.6,1366.6 849.0,1367.4 C852.4,1368.2 857.3,1365.4 860.4,1365.1 C863.5,1364.8 865.3,1364.5 867.8,1365.6 C870.3,1366.7 872.7,1369.8 875.6,1371.8 C878.5,1373.8 881.6,1376.5 885.0,1377.3 C888.4,1378.1 892.5,1376.9 895.9,1376.5 C899.3,1376.1 902.2,1375.4 905.3,1374.9 C908.4,1374.4 911.8,1373.4 914.6,1373.4 C917.5,1373.4 919.8,1374.4 922.4,1374.9 C925.0,1375.4 926.8,1376.4 930.2,1376.5 C933.6,1376.6 938.8,1376.1 942.7,1375.7 C946.6,1375.3 949.8,1374.6 953.7,1374.2 C957.6,1373.8 962.1,1373.6 966.2,1373.4 C970.4,1373.2 975.5,1373.5 978.6,1373.1 C981.7,1372.7 982.5,1371.7 984.9,1371.0 C987.2,1370.3 989.5,1368.8 992.7,1368.7 C996.0,1368.6 1002.5,1370.3 1004.4,1370.6" fill="none" stroke="#ec3b3f" stroke-width="3.8" stroke-opacity="1" stroke-linejoin="round" stroke-linecap="round" />
<path d="M535.3,1361.7 C536.3,1360.5 539.3,1358.2 541.5,1354.8 C543.7,1351.3 546.2,1344.8 548.4,1341.0 C550.6,1337.2 552.4,1331.9 554.5,1331.9 C556.6,1331.9 558.8,1336.4 561.0,1341.0 C563.2,1345.6 565.5,1354.6 567.8,1359.4 C570.1,1364.2 572.4,1368.6 574.7,1369.7 C577.0,1370.8 579.3,1367.2 581.6,1366.3 C583.9,1365.3 585.5,1363.6 588.5,1364.0 C591.5,1364.4 596.5,1367.9 599.9,1368.5 C603.3,1369.1 605.6,1367.8 609.1,1367.4 C612.6,1367.0 616.8,1366.7 620.6,1366.3 C624.4,1365.9 628.6,1367.0 632.0,1365.1 C635.4,1363.2 638.1,1359.0 641.2,1354.8 C644.3,1350.6 647.4,1343.7 650.4,1339.9 C653.4,1336.1 657.0,1335.5 659.5,1331.9 C662.0,1328.3 663.6,1326.1 665.3,1318.1 C667.0,1310.1 668.5,1297.1 669.8,1283.7 C671.1,1270.3 671.9,1255.1 673.3,1237.9 C674.6,1220.7 676.4,1192.4 677.9,1180.6 C679.4,1168.8 680.9,1166.8 682.4,1166.8 C683.9,1166.8 685.6,1170.7 687.0,1180.6 C688.4,1190.5 689.4,1209.2 690.5,1226.4 C691.6,1243.6 692.8,1264.6 693.9,1283.7 C695.0,1302.8 696.0,1326.5 697.3,1341.0 C698.6,1355.5 700.2,1364.1 701.9,1370.8 C703.6,1377.5 706.0,1379.3 707.7,1381.2 C709.4,1383.1 708.7,1381.8 712.0,1382.3 C715.3,1382.8 721.9,1383.8 727.5,1384.1 C733.1,1384.4 741.8,1385.5 745.8,1384.1 C749.8,1382.6 749.9,1382.6 751.6,1375.4 C753.3,1368.2 754.7,1356.3 756.2,1341.0 C757.7,1325.7 759.2,1300.9 760.7,1283.7 C762.2,1266.5 763.8,1250.5 765.3,1237.9 C766.8,1225.3 768.5,1214.6 769.9,1208.1 C771.3,1201.6 772.5,1197.8 773.8,1198.9 C775.1,1200.1 776.4,1204.7 777.9,1215.0 C779.4,1225.3 781.0,1243.6 782.5,1260.8 C784.0,1278.0 785.4,1301.3 787.1,1318.1 C788.8,1334.9 790.5,1351.4 792.8,1361.7 C795.1,1372.0 797.9,1377.1 800.8,1380.0 C803.7,1382.9 806.5,1380.8 810.0,1378.9 C813.5,1377.0 818.1,1371.2 821.5,1368.5 C824.9,1365.8 827.6,1363.2 830.6,1362.8 C833.6,1362.4 836.7,1364.8 839.8,1366.3 C842.9,1367.8 845.6,1371.4 849.0,1372.0 C852.4,1372.6 857.3,1369.9 860.4,1369.7 C863.5,1369.5 865.3,1370.1 867.8,1371.0 C870.3,1371.9 872.7,1373.5 875.6,1374.9 C878.5,1376.3 881.6,1378.9 885.0,1379.6 C888.4,1380.2 892.5,1379.2 895.9,1378.8 C899.3,1378.4 902.2,1377.8 905.3,1377.3 C908.4,1376.8 911.2,1376.0 914.6,1376.0 C918.0,1376.0 922.2,1376.9 925.6,1377.3 C929.0,1377.7 931.3,1378.5 934.9,1378.5 C938.5,1378.5 943.2,1377.9 947.4,1377.6 C951.6,1377.3 954.7,1377.1 959.9,1376.8 C965.1,1376.5 973.9,1376.5 978.6,1375.7 C983.3,1374.9 985.4,1372.7 988.0,1371.8 C990.6,1370.9 991.5,1370.1 994.2,1370.2 C996.9,1370.3 1002.7,1372.2 1004.4,1372.6" fill="none" stroke="#2eaa62" stroke-width="3.8" stroke-opacity="1" stroke-linejoin="round" stroke-linecap="round" />
</svg></body></html>
